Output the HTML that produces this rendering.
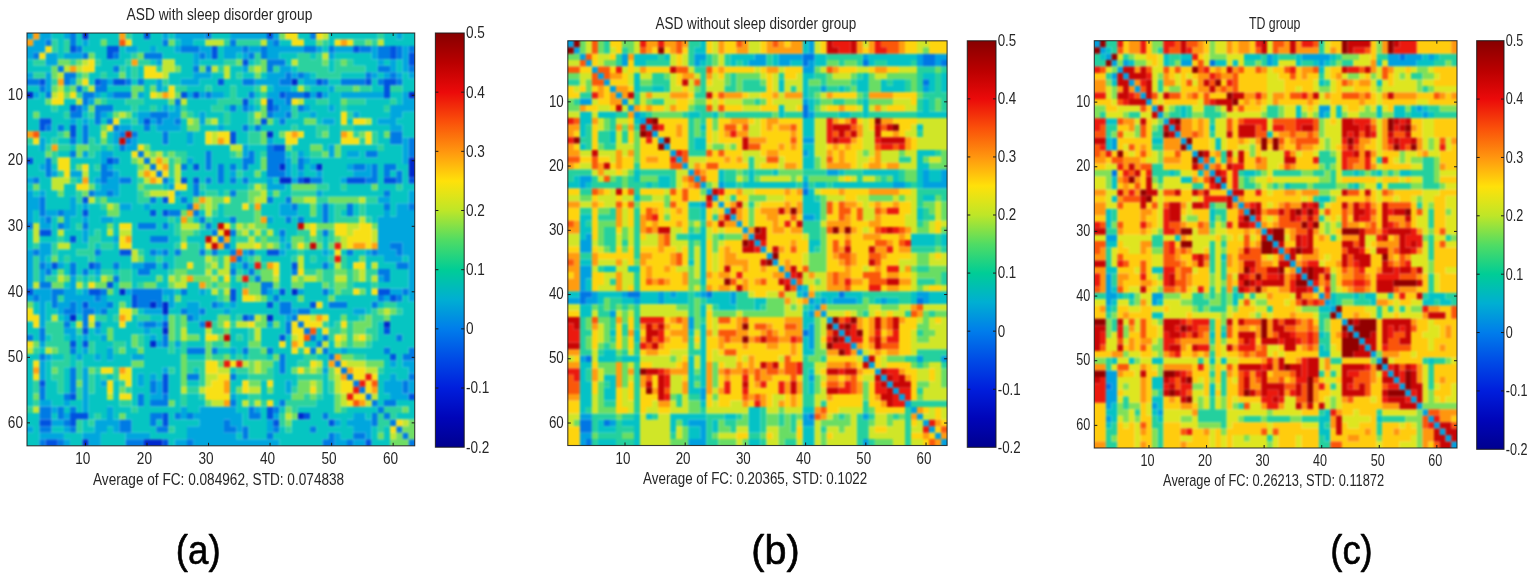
<!DOCTYPE html>
<html lang="en"><head><meta charset="utf-8"><title>Functional connectivity matrices</title>
<style>html,body{margin:0;padding:0;background:#fff}body{width:1535px;height:576px;overflow:hidden}svg{display:block}text{font-family:"Liberation Sans",sans-serif;fill:#262626}.lab{fill:#000;stroke:#000;stroke-width:0.6px;stroke-linejoin:round}</style>
</head><body>
<svg width="1535" height="576" viewBox="0 0 1535 576">
<defs><linearGradient id="jet" x1="0" y1="0" x2="0" y2="1"><stop offset="0.0000" stop-color="#870000"/><stop offset="0.0357" stop-color="#a00000"/><stop offset="0.0714" stop-color="#b90000"/><stop offset="0.1071" stop-color="#d20505"/><stop offset="0.1429" stop-color="#eb0a0a"/><stop offset="0.1786" stop-color="#f22d0a"/><stop offset="0.2143" stop-color="#fa500a"/><stop offset="0.2500" stop-color="#fc730c"/><stop offset="0.2857" stop-color="#ff960f"/><stop offset="0.3214" stop-color="#ffbb0d"/><stop offset="0.3571" stop-color="#ffe10a"/><stop offset="0.3929" stop-color="#dfe419"/><stop offset="0.4286" stop-color="#bee628"/><stop offset="0.4643" stop-color="#87e146"/><stop offset="0.5000" stop-color="#50dc64"/><stop offset="0.5357" stop-color="#28d47d"/><stop offset="0.5714" stop-color="#00cd96"/><stop offset="0.6071" stop-color="#00beb4"/><stop offset="0.6429" stop-color="#00afd2"/><stop offset="0.6786" stop-color="#0096de"/><stop offset="0.7143" stop-color="#007deb"/><stop offset="0.7500" stop-color="#0064e8"/><stop offset="0.7857" stop-color="#004be6"/><stop offset="0.8214" stop-color="#0035e1"/><stop offset="0.8571" stop-color="#001edc"/><stop offset="0.8929" stop-color="#0012ca"/><stop offset="0.9286" stop-color="#0005b9"/><stop offset="0.9643" stop-color="#0003a4"/><stop offset="1.0000" stop-color="#00008f"/></linearGradient><filter id="bl" filterUnits="userSpaceOnUse" x="0" y="0" width="1535" height="576" color-interpolation-filters="sRGB"><feGaussianBlur stdDeviation="0.9"/></filter><filter id="tb" x="-20%" y="-40%" width="140%" height="180%"><feGaussianBlur stdDeviation="0.5"/></filter></defs>
<rect width="1535" height="576" fill="#fff"/>
<g id="panel-a">
<clipPath id="clip-a"><rect x="27.00" y="33.00" width="387.70" height="412.80"/></clipPath>
<g clip-path="url(#clip-a)"><g filter="url(#bl)">
<g transform="translate(27.00 33.00) scale(6.15397 6.55238)">
<path fill="#0028cd" d="M9 -1h1v1h-1zM9 0h1v1h-1zM43 7h1v1h-1zM-1 9h2v1h-2zM62 9h2v1h-2zM39 15h1v1h-1zM62 19h2v1h-2zM41 20h1v1h-1zM47 20h1v1h-1zM62 20h2v1h-2zM62 21h2v1h-2zM41 22h2v1h-2zM45 22h1v1h-1zM15 39h1v1h-1zM43 39h1v1h-1zM20 41h1v1h-1zM22 41h1v1h-1zM22 42h1v1h-1zM7 43h1v1h-1zM39 43h1v1h-1zM58 44h1v1h-1zM22 45h1v1h-1zM20 47h1v1h-1zM44 58h1v1h-1zM9 62h1v1h-1zM19 62h3v1h-3zM9 63h1v1h-1zM19 63h3v1h-3z"/>
<path fill="#0052e0" d="M19 -1h1v1h-1zM39 -1h1v1h-1zM19 0h1v1h-1zM39 0h1v1h-1zM7 2h1v1h-1zM13 2h2v1h-2zM30 2h1v1h-1zM53 2h1v1h-1zM59 2h1v1h-1zM13 3h1v1h-1zM30 3h1v1h-1zM59 3h1v1h-1zM62 3h2v1h-2zM35 4h1v1h-1zM62 4h2v1h-2zM2 7h1v1h-1zM11 7h1v1h-1zM14 7h2v1h-2zM31 7h1v1h-1zM47 7h1v1h-1zM55 7h1v1h-1zM58 7h2v1h-2zM58 8h1v1h-1zM25 9h1v1h-1zM27 9h1v1h-1zM41 9h1v1h-1zM45 9h1v1h-1zM47 9h1v1h-1zM58 9h1v1h-1zM35 10h1v1h-1zM39 10h1v1h-1zM7 11h1v1h-1zM39 11h1v1h-1zM2 13h2v1h-2zM19 13h1v1h-1zM38 13h1v1h-1zM2 14h1v1h-1zM7 14h1v1h-1zM7 15h1v1h-1zM33 15h1v1h-1zM33 16h1v1h-1zM40 17h2v1h-2zM-1 19h2v1h-2zM13 19h1v1h-1zM27 20h1v1h-1zM25 22h1v1h-1zM27 22h1v1h-1zM44 22h1v1h-1zM52 22h3v1h-3zM58 22h2v1h-2zM62 22h2v1h-2zM9 25h1v1h-1zM22 25h1v1h-1zM9 27h1v1h-1zM20 27h1v1h-1zM22 27h1v1h-1zM2 30h2v1h-2zM7 31h1v1h-1zM15 33h2v1h-2zM39 33h2v1h-2zM4 35h1v1h-1zM10 35h1v1h-1zM43 35h1v1h-1zM13 38h1v1h-1zM-1 39h2v1h-2zM10 39h2v1h-2zM33 39h1v1h-1zM41 39h1v1h-1zM57 39h2v1h-2zM17 40h1v1h-1zM33 40h1v1h-1zM59 40h1v1h-1zM9 41h1v1h-1zM17 41h1v1h-1zM39 41h1v1h-1zM46 41h1v1h-1zM35 43h1v1h-1zM22 44h1v1h-1zM9 45h1v1h-1zM58 45h1v1h-1zM41 46h1v1h-1zM7 47h1v1h-1zM9 47h1v1h-1zM59 49h1v1h-1zM22 52h1v1h-1zM2 53h1v1h-1zM22 53h1v1h-1zM22 54h1v1h-1zM7 55h1v1h-1zM62 55h2v1h-2zM39 57h1v1h-1zM7 58h3v1h-3zM22 58h1v1h-1zM39 58h1v1h-1zM45 58h1v1h-1zM2 59h2v1h-2zM7 59h1v1h-1zM22 59h1v1h-1zM40 59h1v1h-1zM49 59h1v1h-1zM3 62h2v1h-2zM22 62h1v1h-1zM55 62h1v1h-1zM3 63h2v1h-2zM22 63h1v1h-1zM55 63h1v1h-1z"/>
<path fill="#007ae4" d="M7 -1h1v1h-1zM29 -1h1v1h-1zM46 -1h1v1h-1zM7 0h1v1h-1zM29 0h1v1h-1zM46 0h1v1h-1zM3 1h1v1h-1zM7 1h1v1h-1zM22 1h1v1h-1zM33 1h1v1h-1zM40 1h1v1h-1zM8 2h1v1h-1zM25 2h3v1h-3zM35 2h1v1h-1zM38 2h1v1h-1zM45 2h2v1h-2zM49 2h1v1h-1zM54 2h2v1h-2zM57 2h2v1h-2zM60 2h1v1h-1zM62 2h2v1h-2zM1 3h1v1h-1zM9 3h1v1h-1zM14 3h1v1h-1zM19 3h3v1h-3zM28 3h1v1h-1zM36 3h1v1h-1zM38 3h1v1h-1zM57 3h2v1h-2zM60 3h1v1h-1zM39 4h3v1h-3zM5 5h1v1h-1zM14 5h1v1h-1zM27 5h1v1h-1zM29 5h1v1h-1zM39 5h1v1h-1zM57 5h2v1h-2zM62 5h2v1h-2zM6 6h2v1h-2zM42 6h1v1h-1zM44 6h1v1h-1zM55 6h1v1h-1zM59 6h1v1h-1zM-1 7h3v1h-3zM6 7h1v1h-1zM12 7h1v1h-1zM16 7h1v1h-1zM18 7h1v1h-1zM35 7h2v1h-2zM41 7h2v1h-2zM48 7h1v1h-1zM51 7h4v1h-4zM57 7h1v1h-1zM60 7h1v1h-1zM2 8h1v1h-1zM8 8h1v1h-1zM11 8h2v1h-2zM3 9h1v1h-1zM9 9h2v1h-2zM14 9h3v1h-3zM29 9h1v1h-1zM36 9h1v1h-1zM42 9h3v1h-3zM9 10h1v1h-1zM24 10h1v1h-1zM42 10h1v1h-1zM8 11h1v1h-1zM11 11h3v1h-3zM33 11h1v1h-1zM35 11h1v1h-1zM40 11h1v1h-1zM44 11h1v1h-1zM7 12h2v1h-2zM11 12h1v1h-1zM20 12h3v1h-3zM39 12h1v1h-1zM42 12h1v1h-1zM11 13h1v1h-1zM13 13h1v1h-1zM21 13h1v1h-1zM24 13h1v1h-1zM41 13h1v1h-1zM3 14h1v1h-1zM5 14h1v1h-1zM9 14h1v1h-1zM14 14h1v1h-1zM19 14h1v1h-1zM35 14h1v1h-1zM37 14h1v1h-1zM9 15h1v1h-1zM15 15h1v1h-1zM17 15h1v1h-1zM22 15h1v1h-1zM59 15h2v1h-2zM7 16h1v1h-1zM9 16h1v1h-1zM16 16h1v1h-1zM22 16h1v1h-1zM59 16h2v1h-2zM62 16h2v1h-2zM15 17h1v1h-1zM39 17h1v1h-1zM62 17h2v1h-2zM7 18h1v1h-1zM18 18h1v1h-1zM29 18h1v1h-1zM36 18h1v1h-1zM39 18h3v1h-3zM55 18h2v1h-2zM62 18h2v1h-2zM3 19h1v1h-1zM14 19h1v1h-1zM19 19h1v1h-1zM29 19h1v1h-1zM35 19h2v1h-2zM39 19h3v1h-3zM44 19h1v1h-1zM3 20h1v1h-1zM12 20h1v1h-1zM20 20h1v1h-1zM25 20h1v1h-1zM29 20h1v1h-1zM31 20h1v1h-1zM33 20h1v1h-1zM35 20h1v1h-1zM39 20h2v1h-2zM44 20h1v1h-1zM53 20h2v1h-2zM56 20h1v1h-1zM58 20h2v1h-2zM3 21h1v1h-1zM12 21h2v1h-2zM21 21h1v1h-1zM31 21h1v1h-1zM39 21h3v1h-3zM56 21h1v1h-1zM58 21h1v1h-1zM60 21h1v1h-1zM1 22h1v1h-1zM12 22h1v1h-1zM15 22h2v1h-2zM22 22h1v1h-1zM29 22h1v1h-1zM31 22h1v1h-1zM33 22h1v1h-1zM35 22h1v1h-1zM46 22h2v1h-2zM55 22h2v1h-2zM60 22h1v1h-1zM27 23h1v1h-1zM10 24h1v1h-1zM13 24h1v1h-1zM27 24h1v1h-1zM33 24h1v1h-1zM58 24h1v1h-1zM2 25h1v1h-1zM20 25h1v1h-1zM25 25h1v1h-1zM39 25h1v1h-1zM42 25h1v1h-1zM2 26h1v1h-1zM26 26h1v1h-1zM43 26h1v1h-1zM48 26h1v1h-1zM52 26h1v1h-1zM58 26h1v1h-1zM62 26h2v1h-2zM2 27h1v1h-1zM5 27h1v1h-1zM23 27h2v1h-2zM27 27h1v1h-1zM48 27h1v1h-1zM52 27h1v1h-1zM3 28h1v1h-1zM28 28h1v1h-1zM33 28h1v1h-1zM42 28h1v1h-1zM44 28h1v1h-1zM48 28h1v1h-1zM-1 29h2v1h-2zM5 29h1v1h-1zM9 29h1v1h-1zM18 29h3v1h-3zM22 29h1v1h-1zM29 29h1v1h-1zM30 30h1v1h-1zM33 30h1v1h-1zM41 30h1v1h-1zM48 30h1v1h-1zM20 31h3v1h-3zM31 31h1v1h-1zM32 32h1v1h-1zM59 32h2v1h-2zM1 33h1v1h-1zM11 33h1v1h-1zM20 33h1v1h-1zM22 33h1v1h-1zM24 33h1v1h-1zM28 33h1v1h-1zM30 33h1v1h-1zM33 33h1v1h-1zM36 33h1v1h-1zM52 33h1v1h-1zM56 33h1v1h-1zM60 33h1v1h-1zM34 34h1v1h-1zM2 35h1v1h-1zM7 35h1v1h-1zM11 35h1v1h-1zM14 35h1v1h-1zM19 35h2v1h-2zM22 35h1v1h-1zM35 35h1v1h-1zM48 35h1v1h-1zM60 35h2v1h-2zM3 36h1v1h-1zM7 36h1v1h-1zM9 36h1v1h-1zM18 36h2v1h-2zM33 36h1v1h-1zM36 36h1v1h-1zM43 36h1v1h-1zM57 36h2v1h-2zM14 37h1v1h-1zM37 37h1v1h-1zM58 37h1v1h-1zM2 38h2v1h-2zM38 38h2v1h-2zM4 39h2v1h-2zM12 39h1v1h-1zM17 39h5v1h-5zM25 39h1v1h-1zM38 39h1v1h-1zM48 39h1v1h-1zM61 39h1v1h-1zM1 40h1v1h-1zM4 40h1v1h-1zM11 40h1v1h-1zM18 40h4v1h-4zM40 40h1v1h-1zM57 40h1v1h-1zM60 40h1v1h-1zM4 41h1v1h-1zM7 41h1v1h-1zM13 41h1v1h-1zM18 41h2v1h-2zM21 41h1v1h-1zM30 41h1v1h-1zM41 41h2v1h-2zM49 41h3v1h-3zM56 41h1v1h-1zM6 42h2v1h-2zM9 42h2v1h-2zM12 42h1v1h-1zM25 42h1v1h-1zM28 42h1v1h-1zM41 42h2v1h-2zM44 42h2v1h-2zM9 43h1v1h-1zM26 43h1v1h-1zM36 43h1v1h-1zM43 43h1v1h-1zM6 44h1v1h-1zM9 44h1v1h-1zM11 44h1v1h-1zM19 44h2v1h-2zM28 44h1v1h-1zM42 44h1v1h-1zM44 44h1v1h-1zM2 45h1v1h-1zM42 45h1v1h-1zM45 45h1v1h-1zM-1 46h2v1h-2zM2 46h1v1h-1zM22 46h1v1h-1zM46 46h1v1h-1zM48 46h1v1h-1zM60 46h1v1h-1zM22 47h1v1h-1zM47 47h1v1h-1zM7 48h1v1h-1zM26 48h3v1h-3zM30 48h1v1h-1zM35 48h1v1h-1zM39 48h1v1h-1zM46 48h1v1h-1zM48 48h1v1h-1zM58 48h1v1h-1zM62 48h2v1h-2zM2 49h1v1h-1zM41 49h1v1h-1zM49 49h1v1h-1zM61 49h3v1h-3zM41 50h1v1h-1zM50 50h1v1h-1zM7 51h1v1h-1zM41 51h1v1h-1zM51 51h1v1h-1zM7 52h1v1h-1zM26 52h2v1h-2zM33 52h1v1h-1zM52 52h1v1h-1zM62 52h2v1h-2zM7 53h1v1h-1zM20 53h1v1h-1zM53 53h1v1h-1zM61 53h1v1h-1zM2 54h1v1h-1zM7 54h1v1h-1zM20 54h1v1h-1zM54 54h1v1h-1zM61 54h1v1h-1zM2 55h1v1h-1zM6 55h1v1h-1zM18 55h1v1h-1zM22 55h1v1h-1zM55 55h1v1h-1zM18 56h1v1h-1zM20 56h3v1h-3zM33 56h1v1h-1zM41 56h1v1h-1zM56 56h1v1h-1zM58 56h2v1h-2zM2 57h2v1h-2zM5 57h1v1h-1zM7 57h1v1h-1zM36 57h1v1h-1zM40 57h1v1h-1zM57 57h1v1h-1zM2 58h2v1h-2zM5 58h1v1h-1zM20 58h2v1h-2zM24 58h1v1h-1zM26 58h1v1h-1zM36 58h2v1h-2zM48 58h1v1h-1zM56 58h1v1h-1zM58 58h1v1h-1zM6 59h1v1h-1zM15 59h2v1h-2zM20 59h1v1h-1zM32 59h1v1h-1zM56 59h1v1h-1zM59 59h1v1h-1zM2 60h2v1h-2zM7 60h1v1h-1zM15 60h2v1h-2zM21 60h2v1h-2zM32 60h2v1h-2zM35 60h1v1h-1zM40 60h1v1h-1zM46 60h1v1h-1zM60 60h1v1h-1zM35 61h1v1h-1zM39 61h1v1h-1zM49 61h1v1h-1zM53 61h2v1h-2zM61 61h1v1h-1zM2 62h1v1h-1zM5 62h1v1h-1zM16 62h3v1h-3zM26 62h1v1h-1zM48 62h2v1h-2zM52 62h1v1h-1zM62 62h2v1h-2zM2 63h1v1h-1zM5 63h1v1h-1zM16 63h3v1h-3zM26 63h1v1h-1zM48 63h2v1h-2zM52 63h1v1h-1zM62 63h2v1h-2z"/>
<path fill="#00a6de" d="M-1 -1h2v1h-2zM2 -1h2v1h-2zM6 -1h1v1h-1zM22 -1h1v1h-1zM24 -1h5v1h-5zM33 -1h6v1h-6zM40 -1h1v1h-1zM60 -1h1v1h-1zM-1 0h2v1h-2zM2 0h2v1h-2zM6 0h1v1h-1zM22 0h1v1h-1zM24 0h5v1h-5zM33 0h6v1h-6zM40 0h1v1h-1zM60 0h1v1h-1zM1 1h2v1h-2zM9 1h1v1h-1zM25 1h2v1h-2zM39 1h1v1h-1zM-1 2h4v1h-4zM16 2h2v1h-2zM20 2h1v1h-1zM24 2h1v1h-1zM28 2h2v1h-2zM32 2h3v1h-3zM36 2h2v1h-2zM39 2h6v1h-6zM47 2h1v1h-1zM50 2h3v1h-3zM56 2h1v1h-1zM61 2h1v1h-1zM-1 3h2v1h-2zM3 3h2v1h-2zM6 3h3v1h-3zM27 3h1v1h-1zM29 3h1v1h-1zM32 3h2v1h-2zM35 3h1v1h-1zM39 3h2v1h-2zM49 3h1v1h-1zM56 3h1v1h-1zM61 3h1v1h-1zM3 4h2v1h-2zM21 4h1v1h-1zM27 4h1v1h-1zM57 4h1v1h-1zM59 4h1v1h-1zM61 4h1v1h-1zM35 5h1v1h-1zM41 5h2v1h-2zM59 5h1v1h-1zM61 5h1v1h-1zM-1 6h2v1h-2zM3 6h1v1h-1zM27 6h3v1h-3zM39 6h3v1h-3zM43 6h1v1h-1zM45 6h1v1h-1zM56 6h1v1h-1zM58 6h1v1h-1zM60 6h1v1h-1zM62 6h2v1h-2zM3 7h1v1h-1zM7 7h1v1h-1zM13 7h1v1h-1zM21 7h1v1h-1zM25 7h3v1h-3zM37 7h4v1h-4zM45 7h2v1h-2zM3 8h1v1h-1zM21 8h1v1h-1zM40 8h3v1h-3zM49 8h1v1h-1zM1 9h1v1h-1zM11 9h1v1h-1zM13 9h1v1h-1zM18 9h1v1h-1zM26 9h1v1h-1zM28 9h1v1h-1zM30 9h2v1h-2zM39 9h2v1h-2zM46 9h1v1h-1zM48 9h1v1h-1zM51 9h7v1h-7zM61 9h1v1h-1zM10 10h1v1h-1zM40 10h2v1h-2zM61 10h3v1h-3zM9 11h1v1h-1zM22 11h1v1h-1zM24 11h1v1h-1zM36 11h1v1h-1zM41 11h2v1h-2zM45 11h1v1h-1zM49 11h1v1h-1zM59 11h5v1h-5zM12 12h1v1h-1zM18 12h2v1h-2zM23 12h2v1h-2zM28 12h1v1h-1zM40 12h2v1h-2zM46 12h1v1h-1zM53 12h1v1h-1zM59 12h2v1h-2zM7 13h1v1h-1zM9 13h1v1h-1zM18 13h1v1h-1zM20 13h1v1h-1zM22 13h2v1h-2zM28 13h1v1h-1zM48 13h2v1h-2zM57 13h3v1h-3zM15 14h2v1h-2zM21 14h4v1h-4zM31 14h1v1h-1zM59 14h2v1h-2zM14 15h1v1h-1zM26 15h1v1h-1zM2 16h1v1h-1zM14 16h1v1h-1zM17 16h1v1h-1zM26 16h1v1h-1zM39 16h1v1h-1zM61 16h1v1h-1zM2 17h1v1h-1zM16 17h2v1h-2zM35 17h1v1h-1zM49 17h1v1h-1zM61 17h1v1h-1zM9 18h1v1h-1zM12 18h2v1h-2zM35 18h1v1h-1zM44 18h1v1h-1zM49 18h1v1h-1zM52 18h2v1h-2zM61 18h1v1h-1zM12 19h1v1h-1zM26 19h1v1h-1zM42 19h1v1h-1zM45 19h1v1h-1zM61 19h1v1h-1zM2 20h1v1h-1zM13 20h1v1h-1zM42 20h1v1h-1zM46 20h1v1h-1zM52 20h1v1h-1zM55 20h1v1h-1zM4 21h1v1h-1zM7 21h2v1h-2zM14 21h1v1h-1zM33 21h1v1h-1zM42 21h1v1h-1zM44 21h1v1h-1zM47 21h1v1h-1zM53 21h3v1h-3zM-1 22h2v1h-2zM11 22h1v1h-1zM13 22h2v1h-2zM39 22h1v1h-1zM43 22h1v1h-1zM51 22h1v1h-1zM12 23h3v1h-3zM23 23h1v1h-1zM39 23h3v1h-3zM-1 24h2v1h-2zM2 24h1v1h-1zM11 24h2v1h-2zM14 24h1v1h-1zM24 24h1v1h-1zM47 24h1v1h-1zM62 24h2v1h-2zM-1 25h3v1h-3zM7 25h1v1h-1zM57 25h2v1h-2zM62 25h2v1h-2zM-1 26h3v1h-3zM7 26h1v1h-1zM9 26h1v1h-1zM15 26h2v1h-2zM19 26h1v1h-1zM41 26h2v1h-2zM60 26h2v1h-2zM-1 27h2v1h-2zM3 27h2v1h-2zM6 27h2v1h-2zM41 27h3v1h-3zM58 27h1v1h-1zM60 27h4v1h-4zM-1 28h2v1h-2zM2 28h1v1h-1zM6 28h1v1h-1zM9 28h1v1h-1zM12 28h2v1h-2zM39 28h1v1h-1zM57 28h7v1h-7zM2 29h2v1h-2zM6 29h1v1h-1zM57 29h7v1h-7zM9 30h1v1h-1zM57 30h7v1h-7zM9 31h1v1h-1zM14 31h1v1h-1zM41 31h1v1h-1zM57 31h7v1h-7zM2 32h2v1h-2zM42 32h1v1h-1zM57 32h2v1h-2zM61 32h3v1h-3zM-1 33h2v1h-2zM2 33h2v1h-2zM21 33h1v1h-1zM35 33h1v1h-1zM41 33h1v1h-1zM48 33h1v1h-1zM55 33h1v1h-1zM57 33h3v1h-3zM61 33h3v1h-3zM-1 34h2v1h-2zM2 34h1v1h-1zM58 34h3v1h-3zM62 34h2v1h-2zM-1 35h2v1h-2zM3 35h1v1h-1zM5 35h1v1h-1zM17 35h2v1h-2zM33 35h1v1h-1zM62 35h2v1h-2zM-1 36h2v1h-2zM2 36h1v1h-1zM11 36h1v1h-1zM62 36h2v1h-2zM-1 37h2v1h-2zM2 37h1v1h-1zM7 37h1v1h-1zM57 37h1v1h-1zM62 37h2v1h-2zM-1 38h2v1h-2zM7 38h1v1h-1zM62 38h2v1h-2zM1 39h3v1h-3zM6 39h2v1h-2zM9 39h1v1h-1zM16 39h1v1h-1zM22 39h2v1h-2zM28 39h1v1h-1zM39 39h1v1h-1zM44 39h1v1h-1zM59 39h2v1h-2zM62 39h2v1h-2zM-1 40h2v1h-2zM2 40h2v1h-2zM6 40h5v1h-5zM12 40h1v1h-1zM23 40h1v1h-1zM58 40h1v1h-1zM62 40h2v1h-2zM2 41h1v1h-1zM5 41h2v1h-2zM8 41h1v1h-1zM10 41h3v1h-3zM23 41h1v1h-1zM26 41h2v1h-2zM31 41h1v1h-1zM33 41h1v1h-1zM2 42h1v1h-1zM5 42h1v1h-1zM8 42h1v1h-1zM11 42h1v1h-1zM19 42h3v1h-3zM26 42h2v1h-2zM32 42h1v1h-1zM43 42h1v1h-1zM53 42h2v1h-2zM2 43h1v1h-1zM6 43h1v1h-1zM22 43h1v1h-1zM27 43h1v1h-1zM42 43h1v1h-1zM2 44h1v1h-1zM18 44h1v1h-1zM21 44h1v1h-1zM39 44h1v1h-1zM6 45h2v1h-2zM11 45h1v1h-1zM19 45h1v1h-1zM7 46h1v1h-1zM9 46h1v1h-1zM12 46h1v1h-1zM20 46h1v1h-1zM2 47h1v1h-1zM21 47h1v1h-1zM24 47h1v1h-1zM9 48h1v1h-1zM13 48h1v1h-1zM33 48h1v1h-1zM51 48h1v1h-1zM3 49h1v1h-1zM8 49h1v1h-1zM11 49h1v1h-1zM13 49h1v1h-1zM17 49h2v1h-2zM2 50h1v1h-1zM59 50h1v1h-1zM61 50h3v1h-3zM2 51h1v1h-1zM9 51h1v1h-1zM22 51h1v1h-1zM48 51h1v1h-1zM62 51h2v1h-2zM2 52h1v1h-1zM9 52h1v1h-1zM18 52h1v1h-1zM20 52h1v1h-1zM59 52h1v1h-1zM9 53h1v1h-1zM12 53h1v1h-1zM18 53h1v1h-1zM21 53h1v1h-1zM42 53h1v1h-1zM58 53h3v1h-3zM62 53h2v1h-2zM9 54h1v1h-1zM21 54h1v1h-1zM42 54h1v1h-1zM58 54h3v1h-3zM62 54h2v1h-2zM9 55h1v1h-1zM20 55h2v1h-2zM33 55h1v1h-1zM59 55h3v1h-3zM2 56h2v1h-2zM6 56h1v1h-1zM9 56h1v1h-1zM4 57h1v1h-1zM9 57h1v1h-1zM13 57h1v1h-1zM25 57h1v1h-1zM28 57h6v1h-6zM37 57h1v1h-1zM6 58h1v1h-1zM13 58h1v1h-1zM25 58h1v1h-1zM27 58h8v1h-8zM40 58h1v1h-1zM53 58h2v1h-2zM4 59h2v1h-2zM11 59h4v1h-4zM28 59h4v1h-4zM33 59h2v1h-2zM39 59h1v1h-1zM50 59h1v1h-1zM52 59h4v1h-4zM-1 60h2v1h-2zM6 60h1v1h-1zM11 60h2v1h-2zM14 60h1v1h-1zM26 60h6v1h-6zM34 60h1v1h-1zM39 60h1v1h-1zM53 60h3v1h-3zM2 61h4v1h-4zM9 61h3v1h-3zM16 61h4v1h-4zM26 61h8v1h-8zM50 61h1v1h-1zM55 61h1v1h-1zM6 62h1v1h-1zM10 62h2v1h-2zM24 62h2v1h-2zM27 62h14v1h-14zM50 62h2v1h-2zM53 62h2v1h-2zM6 63h1v1h-1zM10 63h2v1h-2zM24 63h2v1h-2zM27 63h14v1h-14zM50 63h2v1h-2zM53 63h2v1h-2z"/>
<path fill="#06c5c2" d="M4 -1h2v1h-2zM8 -1h1v1h-1zM10 -1h5v1h-5zM17 -1h2v1h-2zM20 -1h2v1h-2zM23 -1h1v1h-1zM30 -1h3v1h-3zM44 -1h2v1h-2zM49 -1h8v1h-8zM58 -1h2v1h-2zM61 -1h3v1h-3zM4 0h2v1h-2zM8 0h1v1h-1zM10 0h5v1h-5zM17 0h2v1h-2zM20 0h2v1h-2zM23 0h1v1h-1zM30 0h3v1h-3zM44 0h2v1h-2zM49 0h8v1h-8zM58 0h2v1h-2zM61 0h3v1h-3zM5 1h1v1h-1zM8 1h1v1h-1zM10 1h2v1h-2zM13 1h2v1h-2zM17 1h5v1h-5zM24 1h1v1h-1zM27 1h2v1h-2zM41 1h2v1h-2zM45 1h2v1h-2zM49 1h1v1h-1zM58 1h6v1h-6zM5 2h1v1h-1zM9 2h4v1h-4zM15 2h1v1h-1zM18 2h2v1h-2zM21 2h3v1h-3zM31 2h1v1h-1zM48 2h1v1h-1zM5 3h1v1h-1zM11 3h2v1h-2zM15 3h2v1h-2zM22 3h5v1h-5zM31 3h1v1h-1zM34 3h1v1h-1zM41 3h3v1h-3zM46 3h1v1h-1zM50 3h6v1h-6zM-1 4h2v1h-2zM12 4h4v1h-4zM20 4h1v1h-1zM24 4h3v1h-3zM28 4h4v1h-4zM36 4h1v1h-1zM42 4h1v1h-1zM49 4h1v1h-1zM53 4h4v1h-4zM58 4h1v1h-1zM60 4h1v1h-1zM-1 5h5v1h-5zM11 5h3v1h-3zM16 5h1v1h-1zM18 5h1v1h-1zM25 5h2v1h-2zM33 5h2v1h-2zM43 5h1v1h-1zM49 5h1v1h-1zM55 5h2v1h-2zM60 5h1v1h-1zM10 6h2v1h-2zM13 6h2v1h-2zM16 6h1v1h-1zM18 6h1v1h-1zM23 6h4v1h-4zM30 6h2v1h-2zM33 6h1v1h-1zM35 6h2v1h-2zM38 6h1v1h-1zM46 6h1v1h-1zM51 6h4v1h-4zM57 6h1v1h-1zM61 6h1v1h-1zM10 7h1v1h-1zM17 7h1v1h-1zM19 7h2v1h-2zM23 7h2v1h-2zM28 7h3v1h-3zM32 7h3v1h-3zM44 7h1v1h-1zM49 7h2v1h-2zM56 7h1v1h-1zM61 7h3v1h-3zM-1 8h3v1h-3zM13 8h4v1h-4zM19 8h1v1h-1zM22 8h1v1h-1zM26 8h3v1h-3zM30 8h3v1h-3zM34 8h3v1h-3zM39 8h1v1h-1zM43 8h1v1h-1zM46 8h3v1h-3zM56 8h2v1h-2zM61 8h3v1h-3zM2 9h1v1h-1zM12 9h1v1h-1zM19 9h1v1h-1zM32 9h1v1h-1zM34 9h2v1h-2zM37 9h1v1h-1zM49 9h2v1h-2zM59 9h2v1h-2zM-1 10h4v1h-4zM6 10h2v1h-2zM13 10h3v1h-3zM19 10h4v1h-4zM26 10h5v1h-5zM36 10h1v1h-1zM45 10h2v1h-2zM49 10h2v1h-2zM55 10h4v1h-4zM60 10h1v1h-1zM-1 11h5v1h-5zM5 11h2v1h-2zM14 11h3v1h-3zM18 11h2v1h-2zM21 11h1v1h-1zM23 11h1v1h-1zM26 11h4v1h-4zM32 11h1v1h-1zM34 11h1v1h-1zM37 11h1v1h-1zM46 11h3v1h-3zM50 11h1v1h-1zM52 11h6v1h-6zM-1 12h2v1h-2zM2 12h4v1h-4zM9 12h1v1h-1zM13 12h1v1h-1zM17 12h1v1h-1zM27 12h1v1h-1zM29 12h3v1h-3zM33 12h3v1h-3zM44 12h2v1h-2zM47 12h4v1h-4zM54 12h5v1h-5zM61 12h3v1h-3zM-1 13h3v1h-3zM4 13h3v1h-3zM8 13h1v1h-1zM10 13h1v1h-1zM12 13h1v1h-1zM15 13h2v1h-2zM25 13h1v1h-1zM31 13h1v1h-1zM33 13h3v1h-3zM40 13h1v1h-1zM42 13h3v1h-3zM47 13h1v1h-1zM50 13h1v1h-1zM52 13h1v1h-1zM56 13h1v1h-1zM60 13h4v1h-4zM-1 14h3v1h-3zM4 14h1v1h-1zM6 14h1v1h-1zM8 14h1v1h-1zM10 14h2v1h-2zM17 14h2v1h-2zM20 14h1v1h-1zM25 14h1v1h-1zM28 14h3v1h-3zM32 14h3v1h-3zM36 14h1v1h-1zM38 14h5v1h-5zM44 14h3v1h-3zM49 14h2v1h-2zM53 14h6v1h-6zM61 14h3v1h-3zM2 15h3v1h-3zM8 15h1v1h-1zM10 15h2v1h-2zM13 15h1v1h-1zM18 15h4v1h-4zM23 15h3v1h-3zM27 15h2v1h-2zM34 15h2v1h-2zM40 15h1v1h-1zM45 15h2v1h-2zM49 15h2v1h-2zM57 15h1v1h-1zM61 15h3v1h-3zM3 16h1v1h-1zM5 16h2v1h-2zM8 16h1v1h-1zM11 16h1v1h-1zM13 16h1v1h-1zM18 16h4v1h-4zM23 16h3v1h-3zM27 16h2v1h-2zM34 16h2v1h-2zM40 16h2v1h-2zM44 16h7v1h-7zM57 16h2v1h-2zM-1 17h3v1h-3zM7 17h1v1h-1zM12 17h1v1h-1zM14 17h1v1h-1zM20 17h13v1h-13zM36 17h3v1h-3zM43 17h3v1h-3zM48 17h1v1h-1zM51 17h6v1h-6zM58 17h3v1h-3zM-1 18h4v1h-4zM5 18h2v1h-2zM11 18h1v1h-1zM14 18h3v1h-3zM26 18h3v1h-3zM30 18h3v1h-3zM37 18h1v1h-1zM42 18h1v1h-1zM45 18h1v1h-1zM51 18h1v1h-1zM54 18h1v1h-1zM57 18h4v1h-4zM1 19h2v1h-2zM7 19h5v1h-5zM15 19h2v1h-2zM27 19h2v1h-2zM30 19h5v1h-5zM37 19h1v1h-1zM46 19h15v1h-15zM-1 20h3v1h-3zM4 20h1v1h-1zM7 20h1v1h-1zM10 20h1v1h-1zM14 20h4v1h-4zM26 20h1v1h-1zM28 20h1v1h-1zM30 20h1v1h-1zM32 20h1v1h-1zM34 20h1v1h-1zM36 20h2v1h-2zM43 20h1v1h-1zM45 20h1v1h-1zM48 20h4v1h-4zM57 20h1v1h-1zM60 20h2v1h-2zM-1 21h4v1h-4zM10 21h2v1h-2zM15 21h3v1h-3zM25 21h6v1h-6zM32 21h1v1h-1zM35 21h2v1h-2zM38 21h1v1h-1zM43 21h1v1h-1zM45 21h2v1h-2zM48 21h5v1h-5zM57 21h1v1h-1zM59 21h1v1h-1zM61 21h1v1h-1zM2 22h2v1h-2zM8 22h1v1h-1zM10 22h1v1h-1zM17 22h1v1h-1zM23 22h1v1h-1zM26 22h1v1h-1zM28 22h1v1h-1zM30 22h1v1h-1zM32 22h1v1h-1zM34 22h1v1h-1zM36 22h3v1h-3zM40 22h1v1h-1zM48 22h3v1h-3zM57 22h1v1h-1zM61 22h1v1h-1zM-1 23h2v1h-2zM2 23h2v1h-2zM6 23h2v1h-2zM11 23h1v1h-1zM15 23h3v1h-3zM22 23h1v1h-1zM26 23h1v1h-1zM29 23h7v1h-7zM42 23h1v1h-1zM49 23h2v1h-2zM52 23h4v1h-4zM57 23h3v1h-3zM61 23h3v1h-3zM1 24h1v1h-1zM3 24h2v1h-2zM6 24h2v1h-2zM15 24h3v1h-3zM25 24h2v1h-2zM28 24h1v1h-1zM31 24h1v1h-1zM39 24h1v1h-1zM41 24h2v1h-2zM48 24h10v1h-10zM59 24h3v1h-3zM3 25h4v1h-4zM13 25h5v1h-5zM21 25h1v1h-1zM24 25h1v1h-1zM26 25h1v1h-1zM40 25h2v1h-2zM59 25h3v1h-3zM3 26h4v1h-4zM8 26h1v1h-1zM10 26h2v1h-2zM17 26h2v1h-2zM20 26h6v1h-6zM31 26h1v1h-1zM38 26h3v1h-3zM44 26h2v1h-2zM47 26h1v1h-1zM49 26h1v1h-1zM53 26h1v1h-1zM55 26h3v1h-3zM59 26h1v1h-1zM1 27h1v1h-1zM8 27h1v1h-1zM10 27h3v1h-3zM15 27h5v1h-5zM21 27h1v1h-1zM28 27h1v1h-1zM31 27h1v1h-1zM38 27h3v1h-3zM44 27h2v1h-2zM47 27h1v1h-1zM49 27h1v1h-1zM51 27h1v1h-1zM53 27h1v1h-1zM55 27h3v1h-3zM59 27h1v1h-1zM1 28h1v1h-1zM4 28h1v1h-1zM7 28h2v1h-2zM10 28h2v1h-2zM14 28h9v1h-9zM24 28h1v1h-1zM27 28h1v1h-1zM30 28h3v1h-3zM40 28h2v1h-2zM43 28h1v1h-1zM45 28h3v1h-3zM49 28h1v1h-1zM56 28h1v1h-1zM4 29h1v1h-1zM7 29h1v1h-1zM10 29h3v1h-3zM14 29h1v1h-1zM17 29h1v1h-1zM21 29h1v1h-1zM23 29h1v1h-1zM30 29h1v1h-1zM39 29h5v1h-5zM-1 30h2v1h-2zM4 30h1v1h-1zM6 30h3v1h-3zM10 30h1v1h-1zM12 30h1v1h-1zM14 30h1v1h-1zM17 30h7v1h-7zM28 30h2v1h-2zM40 30h1v1h-1zM42 30h2v1h-2zM-1 31h2v1h-2zM2 31h3v1h-3zM6 31h1v1h-1zM8 31h1v1h-1zM12 31h2v1h-2zM17 31h3v1h-3zM23 31h2v1h-2zM26 31h3v1h-3zM33 31h1v1h-1zM42 31h1v1h-1zM48 31h1v1h-1zM-1 32h2v1h-2zM7 32h3v1h-3zM11 32h1v1h-1zM14 32h1v1h-1zM17 32h7v1h-7zM28 32h1v1h-1zM33 32h1v1h-1zM41 32h1v1h-1zM48 32h1v1h-1zM5 33h3v1h-3zM12 33h3v1h-3zM19 33h1v1h-1zM23 33h1v1h-1zM31 33h2v1h-2zM37 33h2v1h-2zM42 33h2v1h-2zM45 33h3v1h-3zM49 33h1v1h-1zM51 33h1v1h-1zM53 33h2v1h-2zM3 34h1v1h-1zM5 34h1v1h-1zM7 34h3v1h-3zM11 34h6v1h-6zM19 34h2v1h-2zM22 34h2v1h-2zM35 34h1v1h-1zM38 34h5v1h-5zM45 34h1v1h-1zM47 34h2v1h-2zM52 34h2v1h-2zM55 34h3v1h-3zM61 34h1v1h-1zM6 35h1v1h-1zM8 35h2v1h-2zM12 35h2v1h-2zM15 35h2v1h-2zM21 35h1v1h-1zM23 35h1v1h-1zM34 35h1v1h-1zM36 35h1v1h-1zM41 35h2v1h-2zM45 35h3v1h-3zM49 35h1v1h-1zM52 35h1v1h-1zM55 35h1v1h-1zM57 35h3v1h-3zM4 36h1v1h-1zM6 36h1v1h-1zM8 36h1v1h-1zM10 36h1v1h-1zM14 36h1v1h-1zM17 36h1v1h-1zM20 36h3v1h-3zM35 36h1v1h-1zM41 36h2v1h-2zM59 36h3v1h-3zM9 37h1v1h-1zM11 37h1v1h-1zM17 37h4v1h-4zM22 37h1v1h-1zM33 37h1v1h-1zM41 37h2v1h-2zM59 37h3v1h-3zM6 38h1v1h-1zM14 38h1v1h-1zM17 38h1v1h-1zM21 38h2v1h-2zM26 38h2v1h-2zM33 38h2v1h-2zM41 38h2v1h-2zM45 38h3v1h-3zM53 38h3v1h-3zM57 38h5v1h-5zM8 39h1v1h-1zM14 39h1v1h-1zM24 39h1v1h-1zM26 39h2v1h-2zM29 39h1v1h-1zM34 39h1v1h-1zM40 39h1v1h-1zM42 39h1v1h-1zM45 39h3v1h-3zM49 39h1v1h-1zM55 39h1v1h-1zM13 40h4v1h-4zM22 40h1v1h-1zM25 40h6v1h-6zM34 40h1v1h-1zM39 40h1v1h-1zM41 40h3v1h-3zM45 40h4v1h-4zM50 40h7v1h-7zM61 40h1v1h-1zM1 41h1v1h-1zM3 41h1v1h-1zM14 41h1v1h-1zM16 41h1v1h-1zM24 41h2v1h-2zM28 41h2v1h-2zM32 41h1v1h-1zM34 41h5v1h-5zM40 41h1v1h-1zM43 41h3v1h-3zM48 41h1v1h-1zM52 41h4v1h-4zM57 41h1v1h-1zM60 41h4v1h-4zM1 42h1v1h-1zM3 42h2v1h-2zM13 42h2v1h-2zM18 42h1v1h-1zM23 42h2v1h-2zM29 42h3v1h-3zM33 42h8v1h-8zM46 42h7v1h-7zM55 42h1v1h-1zM61 42h3v1h-3zM3 43h1v1h-1zM5 43h1v1h-1zM8 43h1v1h-1zM13 43h1v1h-1zM17 43h1v1h-1zM20 43h2v1h-2zM28 43h3v1h-3zM33 43h1v1h-1zM40 43h2v1h-2zM49 43h2v1h-2zM52 43h2v1h-2zM59 43h5v1h-5zM-1 44h2v1h-2zM7 44h1v1h-1zM12 44h3v1h-3zM16 44h2v1h-2zM26 44h2v1h-2zM41 44h1v1h-1zM49 44h1v1h-1zM57 44h1v1h-1zM59 44h5v1h-5zM-1 45h3v1h-3zM10 45h1v1h-1zM12 45h1v1h-1zM14 45h5v1h-5zM20 45h2v1h-2zM26 45h3v1h-3zM33 45h3v1h-3zM38 45h4v1h-4zM47 45h1v1h-1zM57 45h1v1h-1zM59 45h5v1h-5zM1 46h1v1h-1zM3 46h1v1h-1zM6 46h1v1h-1zM8 46h1v1h-1zM10 46h2v1h-2zM14 46h3v1h-3zM19 46h1v1h-1zM21 46h1v1h-1zM28 46h1v1h-1zM33 46h1v1h-1zM35 46h1v1h-1zM38 46h3v1h-3zM42 46h1v1h-1zM47 46h1v1h-1zM57 46h3v1h-3zM61 46h3v1h-3zM8 47h1v1h-1zM11 47h3v1h-3zM16 47h1v1h-1zM19 47h1v1h-1zM26 47h3v1h-3zM33 47h3v1h-3zM38 47h3v1h-3zM42 47h1v1h-1zM45 47h2v1h-2zM49 47h1v1h-1zM56 47h8v1h-8zM2 48h1v1h-1zM8 48h1v1h-1zM11 48h2v1h-2zM16 48h2v1h-2zM19 48h4v1h-4zM24 48h1v1h-1zM31 48h2v1h-2zM34 48h1v1h-1zM40 48h3v1h-3zM49 48h2v1h-2zM52 48h6v1h-6zM59 48h3v1h-3zM-1 49h3v1h-3zM4 49h2v1h-2zM7 49h1v1h-1zM9 49h2v1h-2zM12 49h1v1h-1zM14 49h3v1h-3zM19 49h6v1h-6zM26 49h3v1h-3zM33 49h1v1h-1zM35 49h1v1h-1zM39 49h1v1h-1zM42 49h3v1h-3zM47 49h2v1h-2zM55 49h4v1h-4zM60 49h1v1h-1zM-1 50h2v1h-2zM3 50h1v1h-1zM7 50h1v1h-1zM9 50h8v1h-8zM19 50h6v1h-6zM40 50h1v1h-1zM42 50h2v1h-2zM48 50h1v1h-1zM58 50h1v1h-1zM60 50h1v1h-1zM-1 51h2v1h-2zM3 51h1v1h-1zM6 51h1v1h-1zM17 51h5v1h-5zM24 51h1v1h-1zM27 51h1v1h-1zM33 51h1v1h-1zM40 51h1v1h-1zM42 51h1v1h-1zM58 51h4v1h-4zM-1 52h2v1h-2zM3 52h1v1h-1zM6 52h1v1h-1zM11 52h1v1h-1zM13 52h1v1h-1zM17 52h1v1h-1zM19 52h1v1h-1zM21 52h1v1h-1zM23 52h2v1h-2zM34 52h2v1h-2zM40 52h4v1h-4zM48 52h1v1h-1zM57 52h2v1h-2zM60 52h2v1h-2zM-1 53h2v1h-2zM3 53h2v1h-2zM6 53h1v1h-1zM11 53h1v1h-1zM14 53h1v1h-1zM17 53h1v1h-1zM19 53h1v1h-1zM23 53h2v1h-2zM26 53h2v1h-2zM33 53h2v1h-2zM38 53h1v1h-1zM40 53h2v1h-2zM43 53h1v1h-1zM48 53h1v1h-1zM57 53h1v1h-1zM-1 54h2v1h-2zM3 54h2v1h-2zM6 54h1v1h-1zM11 54h2v1h-2zM14 54h1v1h-1zM17 54h3v1h-3zM23 54h2v1h-2zM33 54h1v1h-1zM38 54h1v1h-1zM40 54h2v1h-2zM48 54h1v1h-1zM57 54h1v1h-1zM-1 55h2v1h-2zM3 55h3v1h-3zM10 55h3v1h-3zM14 55h1v1h-1zM17 55h1v1h-1zM19 55h1v1h-1zM23 55h2v1h-2zM26 55h2v1h-2zM34 55h2v1h-2zM38 55h5v1h-5zM48 55h2v1h-2zM57 55h2v1h-2zM-1 56h2v1h-2zM4 56h2v1h-2zM7 56h2v1h-2zM10 56h5v1h-5zM17 56h1v1h-1zM19 56h1v1h-1zM24 56h1v1h-1zM26 56h3v1h-3zM34 56h1v1h-1zM40 56h1v1h-1zM47 56h3v1h-3zM57 56h1v1h-1zM60 56h4v1h-4zM6 57h1v1h-1zM8 57h1v1h-1zM10 57h3v1h-3zM14 57h3v1h-3zM18 57h7v1h-7zM26 57h2v1h-2zM34 57h2v1h-2zM38 57h1v1h-1zM41 57h1v1h-1zM44 57h6v1h-6zM52 57h5v1h-5zM62 57h2v1h-2zM-1 58h3v1h-3zM4 58h1v1h-1zM10 58h1v1h-1zM12 58h1v1h-1zM14 58h1v1h-1zM16 58h4v1h-4zM23 58h1v1h-1zM35 58h1v1h-1zM38 58h1v1h-1zM46 58h2v1h-2zM49 58h4v1h-4zM55 58h1v1h-1zM60 58h4v1h-4zM-1 59h3v1h-3zM9 59h1v1h-1zM17 59h3v1h-3zM21 59h1v1h-1zM23 59h5v1h-5zM35 59h4v1h-4zM43 59h6v1h-6zM51 59h1v1h-1zM1 60h1v1h-1zM4 60h2v1h-2zM9 60h2v1h-2zM13 60h1v1h-1zM17 60h4v1h-4zM24 60h2v1h-2zM36 60h3v1h-3zM41 60h1v1h-1zM43 60h3v1h-3zM47 60h6v1h-6zM56 60h1v1h-1zM58 60h1v1h-1zM-1 61h3v1h-3zM6 61h3v1h-3zM12 61h4v1h-4zM20 61h6v1h-6zM34 61h1v1h-1zM36 61h3v1h-3zM40 61h9v1h-9zM51 61h2v1h-2zM56 61h1v1h-1zM58 61h1v1h-1zM-1 62h3v1h-3zM7 62h2v1h-2zM12 62h4v1h-4zM23 62h1v1h-1zM41 62h7v1h-7zM56 62h3v1h-3zM-1 63h3v1h-3zM7 63h2v1h-2zM12 63h4v1h-4zM23 63h1v1h-1zM41 63h7v1h-7zM56 63h3v1h-3z"/>
<path fill="#2cd29e" d="M16 -1h1v1h-1zM57 -1h1v1h-1zM16 0h1v1h-1zM57 0h1v1h-1zM4 1h1v1h-1zM6 1h1v1h-1zM32 1h1v1h-1zM34 1h4v1h-4zM48 1h1v1h-1zM53 1h2v1h-2zM56 1h1v1h-1zM4 2h1v1h-1zM6 2h1v1h-1zM17 3h1v1h-1zM37 3h1v1h-1zM44 3h2v1h-2zM47 3h1v1h-1zM1 4h2v1h-2zM7 4h1v1h-1zM11 4h1v1h-1zM16 4h1v1h-1zM18 4h2v1h-2zM32 4h2v1h-2zM37 4h1v1h-1zM44 4h4v1h-4zM50 4h1v1h-1zM52 4h1v1h-1zM15 5h1v1h-1zM17 5h1v1h-1zM21 5h1v1h-1zM31 5h1v1h-1zM40 5h1v1h-1zM44 5h5v1h-5zM50 5h5v1h-5zM1 6h2v1h-2zM8 6h1v1h-1zM12 6h1v1h-1zM17 6h1v1h-1zM34 6h1v1h-1zM47 6h4v1h-4zM4 7h1v1h-1zM22 7h1v1h-1zM6 8h1v1h-1zM9 8h1v1h-1zM24 8h2v1h-2zM29 8h1v1h-1zM33 8h1v1h-1zM37 8h1v1h-1zM45 8h1v1h-1zM50 8h3v1h-3zM54 8h2v1h-2zM59 8h2v1h-2zM8 9h1v1h-1zM33 9h1v1h-1zM38 9h1v1h-1zM12 10h1v1h-1zM16 10h3v1h-3zM31 10h4v1h-4zM37 10h1v1h-1zM47 10h2v1h-2zM52 10h3v1h-3zM59 10h1v1h-1zM4 11h1v1h-1zM17 11h1v1h-1zM20 11h1v1h-1zM25 11h1v1h-1zM30 11h2v1h-2zM43 11h1v1h-1zM51 11h1v1h-1zM58 11h1v1h-1zM6 12h1v1h-1zM10 12h1v1h-1zM26 12h1v1h-1zM32 12h1v1h-1zM36 12h1v1h-1zM43 12h1v1h-1zM52 12h1v1h-1zM17 13h1v1h-1zM32 13h1v1h-1zM36 13h1v1h-1zM43 14h1v1h-1zM47 14h2v1h-2zM51 14h2v1h-2zM5 15h1v1h-1zM36 15h2v1h-2zM47 15h1v1h-1zM53 15h1v1h-1zM56 15h1v1h-1zM-1 16h2v1h-2zM4 16h1v1h-1zM10 16h1v1h-1zM36 16h2v1h-2zM54 16h1v1h-1zM56 16h1v1h-1zM3 17h1v1h-1zM5 17h2v1h-2zM10 17h2v1h-2zM13 17h1v1h-1zM57 17h1v1h-1zM4 18h1v1h-1zM10 18h1v1h-1zM22 18h1v1h-1zM24 18h2v1h-2zM33 18h1v1h-1zM38 18h1v1h-1zM43 18h1v1h-1zM46 18h2v1h-2zM4 19h1v1h-1zM23 19h1v1h-1zM25 19h1v1h-1zM43 19h1v1h-1zM11 20h1v1h-1zM23 20h1v1h-1zM5 21h1v1h-1zM23 21h1v1h-1zM34 21h1v1h-1zM7 22h1v1h-1zM18 22h1v1h-1zM19 23h3v1h-3zM28 23h1v1h-1zM36 23h1v1h-1zM47 23h2v1h-2zM51 23h1v1h-1zM60 23h1v1h-1zM8 24h1v1h-1zM18 24h1v1h-1zM29 24h2v1h-2zM32 24h1v1h-1zM34 24h2v1h-2zM43 24h4v1h-4zM8 25h1v1h-1zM11 25h1v1h-1zM18 25h2v1h-2zM33 25h3v1h-3zM47 25h2v1h-2zM55 25h2v1h-2zM12 26h1v1h-1zM32 26h3v1h-3zM36 26h1v1h-1zM50 26h2v1h-2zM54 26h1v1h-1zM30 27h1v1h-1zM32 27h5v1h-5zM50 27h1v1h-1zM54 27h1v1h-1zM23 28h1v1h-1zM29 28h1v1h-1zM34 28h3v1h-3zM50 28h4v1h-4zM55 28h1v1h-1zM8 29h1v1h-1zM24 29h1v1h-1zM28 29h1v1h-1zM33 29h1v1h-1zM11 30h1v1h-1zM24 30h1v1h-1zM27 30h1v1h-1zM36 30h1v1h-1zM38 30h1v1h-1zM44 30h2v1h-2zM47 30h1v1h-1zM49 30h1v1h-1zM5 31h1v1h-1zM10 31h2v1h-2zM34 31h2v1h-2zM37 31h1v1h-1zM39 31h2v1h-2zM45 31h1v1h-1zM47 31h1v1h-1zM49 31h1v1h-1zM1 32h1v1h-1zM4 32h1v1h-1zM10 32h1v1h-1zM12 32h2v1h-2zM24 32h1v1h-1zM26 32h2v1h-2zM4 33h1v1h-1zM8 33h3v1h-3zM18 33h1v1h-1zM25 33h3v1h-3zM29 33h1v1h-1zM44 33h1v1h-1zM1 34h1v1h-1zM6 34h1v1h-1zM10 34h1v1h-1zM21 34h1v1h-1zM24 34h5v1h-5zM31 34h1v1h-1zM36 34h1v1h-1zM43 34h1v1h-1zM46 34h1v1h-1zM49 34h1v1h-1zM51 34h1v1h-1zM1 35h1v1h-1zM24 35h2v1h-2zM27 35h2v1h-2zM31 35h1v1h-1zM38 35h1v1h-1zM51 35h1v1h-1zM1 36h1v1h-1zM12 36h2v1h-2zM15 36h2v1h-2zM23 36h1v1h-1zM26 36h3v1h-3zM30 36h1v1h-1zM34 36h1v1h-1zM37 36h1v1h-1zM45 36h2v1h-2zM48 36h2v1h-2zM52 36h1v1h-1zM55 36h2v1h-2zM1 37h1v1h-1zM3 37h2v1h-2zM8 37h1v1h-1zM10 37h1v1h-1zM15 37h2v1h-2zM31 37h1v1h-1zM36 37h1v1h-1zM48 37h2v1h-2zM52 37h1v1h-1zM55 37h1v1h-1zM9 38h1v1h-1zM18 38h1v1h-1zM30 38h1v1h-1zM35 38h1v1h-1zM49 38h1v1h-1zM52 38h1v1h-1zM56 38h1v1h-1zM31 39h1v1h-1zM51 39h2v1h-2zM5 40h1v1h-1zM31 40h1v1h-1zM58 41h2v1h-2zM56 42h1v1h-1zM60 42h1v1h-1zM11 43h2v1h-2zM14 43h1v1h-1zM18 43h2v1h-2zM24 43h1v1h-1zM34 43h1v1h-1zM54 43h1v1h-1zM56 43h2v1h-2zM3 44h3v1h-3zM24 44h1v1h-1zM30 44h1v1h-1zM33 44h1v1h-1zM48 44h1v1h-1zM50 44h1v1h-1zM52 44h1v1h-1zM56 44h1v1h-1zM3 45h3v1h-3zM8 45h1v1h-1zM24 45h1v1h-1zM30 45h2v1h-2zM36 45h1v1h-1zM49 45h2v1h-2zM52 45h1v1h-1zM55 45h2v1h-2zM4 46h2v1h-2zM18 46h1v1h-1zM24 46h1v1h-1zM34 46h1v1h-1zM36 46h1v1h-1zM49 46h1v1h-1zM52 46h1v1h-1zM56 46h1v1h-1zM3 47h4v1h-4zM10 47h1v1h-1zM14 47h2v1h-2zM18 47h1v1h-1zM23 47h1v1h-1zM25 47h1v1h-1zM30 47h2v1h-2zM52 47h1v1h-1zM55 47h1v1h-1zM1 48h1v1h-1zM5 48h2v1h-2zM10 48h1v1h-1zM14 48h1v1h-1zM23 48h1v1h-1zM25 48h1v1h-1zM36 48h2v1h-2zM44 48h1v1h-1zM6 49h1v1h-1zM30 49h2v1h-2zM34 49h1v1h-1zM36 49h3v1h-3zM45 49h2v1h-2zM53 49h2v1h-2zM4 50h3v1h-3zM8 50h1v1h-1zM26 50h3v1h-3zM44 50h2v1h-2zM5 51h1v1h-1zM8 51h1v1h-1zM11 51h1v1h-1zM14 51h1v1h-1zM23 51h1v1h-1zM26 51h1v1h-1zM28 51h1v1h-1zM34 51h2v1h-2zM39 51h1v1h-1zM57 51h1v1h-1zM4 52h2v1h-2zM8 52h1v1h-1zM10 52h1v1h-1zM12 52h1v1h-1zM14 52h1v1h-1zM28 52h1v1h-1zM36 52h4v1h-4zM44 52h4v1h-4zM1 53h1v1h-1zM5 53h1v1h-1zM10 53h1v1h-1zM15 53h1v1h-1zM28 53h1v1h-1zM49 53h1v1h-1zM1 54h1v1h-1zM5 54h1v1h-1zM8 54h1v1h-1zM10 54h1v1h-1zM16 54h1v1h-1zM26 54h2v1h-2zM43 54h1v1h-1zM49 54h1v1h-1zM8 55h1v1h-1zM25 55h1v1h-1zM28 55h1v1h-1zM36 55h2v1h-2zM45 55h1v1h-1zM47 55h1v1h-1zM1 56h1v1h-1zM15 56h2v1h-2zM25 56h1v1h-1zM36 56h1v1h-1zM38 56h1v1h-1zM42 56h5v1h-5zM-1 57h2v1h-2zM17 57h1v1h-1zM43 57h1v1h-1zM51 57h1v1h-1zM58 57h3v1h-3zM11 58h1v1h-1zM41 58h1v1h-1zM57 58h1v1h-1zM59 58h1v1h-1zM8 59h1v1h-1zM10 59h1v1h-1zM41 59h1v1h-1zM57 59h2v1h-2zM8 60h1v1h-1zM23 60h1v1h-1zM42 60h1v1h-1zM57 60h1v1h-1z"/>
<path fill="#70de64" d="M41 -1h1v1h-1zM41 0h1v1h-1zM12 1h1v1h-1zM23 1h1v1h-1zM47 1h1v1h-1zM55 1h1v1h-1zM10 3h1v1h-1zM18 3h1v1h-1zM5 4h2v1h-2zM8 4h1v1h-1zM34 4h1v1h-1zM38 4h1v1h-1zM48 4h1v1h-1zM51 4h1v1h-1zM4 5h1v1h-1zM24 5h1v1h-1zM28 5h1v1h-1zM36 5h1v1h-1zM38 5h1v1h-1zM4 6h1v1h-1zM9 6h1v1h-1zM15 6h1v1h-1zM37 6h1v1h-1zM8 7h1v1h-1zM4 8h1v1h-1zM7 8h1v1h-1zM17 8h2v1h-2zM20 8h1v1h-1zM53 8h1v1h-1zM6 9h1v1h-1zM17 9h1v1h-1zM24 9h1v1h-1zM3 10h1v1h-1zM11 10h1v1h-1zM23 10h1v1h-1zM51 10h1v1h-1zM10 11h1v1h-1zM38 11h1v1h-1zM1 12h1v1h-1zM14 12h1v1h-1zM16 12h1v1h-1zM25 12h1v1h-1zM38 12h1v1h-1zM27 13h1v1h-1zM29 13h1v1h-1zM37 13h1v1h-1zM39 13h1v1h-1zM45 13h2v1h-2zM12 14h1v1h-1zM26 14h2v1h-2zM6 15h1v1h-1zM38 15h1v1h-1zM41 15h1v1h-1zM48 15h1v1h-1zM54 15h1v1h-1zM58 15h1v1h-1zM12 16h1v1h-1zM38 16h1v1h-1zM8 17h2v1h-2zM19 17h1v1h-1zM42 17h1v1h-1zM46 17h2v1h-2zM50 17h1v1h-1zM3 18h1v1h-1zM8 18h1v1h-1zM20 18h1v1h-1zM23 18h1v1h-1zM34 18h1v1h-1zM48 18h1v1h-1zM50 18h1v1h-1zM17 19h1v1h-1zM24 19h1v1h-1zM38 19h1v1h-1zM8 20h1v1h-1zM18 20h1v1h-1zM38 20h1v1h-1zM37 21h1v1h-1zM1 23h1v1h-1zM10 23h1v1h-1zM18 23h1v1h-1zM38 23h1v1h-1zM43 23h4v1h-4zM56 23h1v1h-1zM5 24h1v1h-1zM9 24h1v1h-1zM19 24h1v1h-1zM36 24h2v1h-2zM40 24h1v1h-1zM12 25h1v1h-1zM27 25h1v1h-1zM30 25h2v1h-2zM36 25h1v1h-1zM43 25h2v1h-2zM49 25h5v1h-5zM14 26h1v1h-1zM28 26h1v1h-1zM30 26h1v1h-1zM46 26h1v1h-1zM13 27h2v1h-2zM25 27h1v1h-1zM37 27h1v1h-1zM46 27h1v1h-1zM5 28h1v1h-1zM26 28h1v1h-1zM37 28h1v1h-1zM13 29h1v1h-1zM35 29h1v1h-1zM37 29h2v1h-2zM47 29h3v1h-3zM56 29h1v1h-1zM25 30h2v1h-2zM34 30h1v1h-1zM25 31h1v1h-1zM38 31h1v1h-1zM43 31h2v1h-2zM46 31h1v1h-1zM50 31h1v1h-1zM38 32h1v1h-1zM40 32h1v1h-1zM43 32h1v1h-1zM45 32h1v1h-1zM47 32h1v1h-1zM49 32h1v1h-1zM4 34h1v1h-1zM18 34h1v1h-1zM30 34h1v1h-1zM37 34h1v1h-1zM54 34h1v1h-1zM29 35h1v1h-1zM5 36h1v1h-1zM24 36h2v1h-2zM38 36h2v1h-2zM47 36h1v1h-1zM50 36h2v1h-2zM53 36h1v1h-1zM6 37h1v1h-1zM13 37h1v1h-1zM21 37h1v1h-1zM24 37h1v1h-1zM27 37h3v1h-3zM34 37h1v1h-1zM38 37h2v1h-2zM44 37h1v1h-1zM47 37h1v1h-1zM53 37h1v1h-1zM4 38h2v1h-2zM11 38h2v1h-2zM15 38h2v1h-2zM19 38h2v1h-2zM23 38h1v1h-1zM29 38h1v1h-1zM31 38h2v1h-2zM36 38h2v1h-2zM40 38h1v1h-1zM43 38h2v1h-2zM48 38h1v1h-1zM50 38h2v1h-2zM13 39h1v1h-1zM36 39h2v1h-2zM50 39h1v1h-1zM54 39h1v1h-1zM24 40h1v1h-1zM32 40h1v1h-1zM38 40h1v1h-1zM44 40h1v1h-1zM49 40h1v1h-1zM-1 41h2v1h-2zM15 41h1v1h-1zM17 42h1v1h-1zM57 42h1v1h-1zM59 42h1v1h-1zM23 43h1v1h-1zM25 43h1v1h-1zM31 43h2v1h-2zM38 43h1v1h-1zM51 43h1v1h-1zM55 43h1v1h-1zM58 43h1v1h-1zM23 44h1v1h-1zM25 44h1v1h-1zM31 44h1v1h-1zM37 44h2v1h-2zM40 44h1v1h-1zM53 44h3v1h-3zM13 45h1v1h-1zM23 45h1v1h-1zM32 45h1v1h-1zM51 45h1v1h-1zM53 45h2v1h-2zM13 46h1v1h-1zM17 46h1v1h-1zM23 46h1v1h-1zM26 46h2v1h-2zM31 46h1v1h-1zM55 46h1v1h-1zM1 47h1v1h-1zM17 47h1v1h-1zM29 47h1v1h-1zM32 47h1v1h-1zM36 47h2v1h-2zM51 47h1v1h-1zM53 47h2v1h-2zM4 48h1v1h-1zM15 48h1v1h-1zM18 48h1v1h-1zM29 48h1v1h-1zM38 48h1v1h-1zM25 49h1v1h-1zM29 49h1v1h-1zM32 49h1v1h-1zM40 49h1v1h-1zM51 49h2v1h-2zM17 50h2v1h-2zM25 50h1v1h-1zM31 50h1v1h-1zM36 50h1v1h-1zM38 50h2v1h-2zM55 50h3v1h-3zM4 51h1v1h-1zM10 51h1v1h-1zM25 51h1v1h-1zM36 51h1v1h-1zM38 51h1v1h-1zM43 51h1v1h-1zM45 51h1v1h-1zM47 51h1v1h-1zM49 51h1v1h-1zM25 52h1v1h-1zM49 52h1v1h-1zM8 53h1v1h-1zM25 53h1v1h-1zM36 53h2v1h-2zM44 53h2v1h-2zM47 53h1v1h-1zM15 54h1v1h-1zM34 54h1v1h-1zM39 54h1v1h-1zM44 54h2v1h-2zM47 54h1v1h-1zM1 55h1v1h-1zM43 55h2v1h-2zM46 55h1v1h-1zM50 55h1v1h-1zM23 56h1v1h-1zM29 56h1v1h-1zM50 56h1v1h-1zM42 57h1v1h-1zM50 57h1v1h-1zM61 57h1v1h-1zM15 58h1v1h-1zM43 58h1v1h-1zM42 59h1v1h-1zM62 59h2v1h-2zM61 60h3v1h-3zM57 61h1v1h-1zM60 61h1v1h-1zM62 61h2v1h-2zM59 62h3v1h-3zM59 63h3v1h-3z"/>
<path fill="#c3e632" d="M48 -1h1v1h-1zM48 0h1v1h-1zM29 1h3v1h-3zM38 1h1v1h-1zM57 1h1v1h-1zM48 3h1v1h-1zM9 4h1v1h-1zM22 4h2v1h-2zM43 4h1v1h-1zM6 5h1v1h-1zM8 5h1v1h-1zM22 5h2v1h-2zM30 5h1v1h-1zM32 5h1v1h-1zM37 5h1v1h-1zM5 6h1v1h-1zM22 6h1v1h-1zM32 6h1v1h-1zM5 8h1v1h-1zM10 8h1v1h-1zM38 8h1v1h-1zM44 8h1v1h-1zM4 9h1v1h-1zM21 9h1v1h-1zM8 10h1v1h-1zM25 10h1v1h-1zM44 10h1v1h-1zM15 12h1v1h-1zM37 12h1v1h-1zM26 13h1v1h-1zM30 13h1v1h-1zM55 13h1v1h-1zM12 15h1v1h-1zM30 15h1v1h-1zM30 16h1v1h-1zM33 17h2v1h-2zM19 18h1v1h-1zM21 18h1v1h-1zM18 19h1v1h-1zM20 19h1v1h-1zM22 19h1v1h-1zM19 20h1v1h-1zM24 20h1v1h-1zM9 21h1v1h-1zM18 21h1v1h-1zM24 21h1v1h-1zM4 22h3v1h-3zM19 22h1v1h-1zM24 22h1v1h-1zM4 23h2v1h-2zM37 23h1v1h-1zM20 24h3v1h-3zM38 24h1v1h-1zM10 25h1v1h-1zM29 25h1v1h-1zM37 25h2v1h-2zM45 25h2v1h-2zM54 25h1v1h-1zM13 26h1v1h-1zM29 26h1v1h-1zM29 27h1v1h-1zM54 28h1v1h-1zM1 29h1v1h-1zM25 29h3v1h-3zM34 29h1v1h-1zM36 29h1v1h-1zM45 29h1v1h-1zM52 29h2v1h-2zM1 30h1v1h-1zM5 30h1v1h-1zM13 30h1v1h-1zM15 30h2v1h-2zM35 30h1v1h-1zM37 30h1v1h-1zM39 30h1v1h-1zM52 30h1v1h-1zM56 30h1v1h-1zM1 31h1v1h-1zM36 31h1v1h-1zM51 31h1v1h-1zM56 31h1v1h-1zM5 32h2v1h-2zM34 32h3v1h-3zM39 32h1v1h-1zM51 32h1v1h-1zM17 33h1v1h-1zM17 34h1v1h-1zM29 34h1v1h-1zM32 34h1v1h-1zM44 34h1v1h-1zM30 35h1v1h-1zM32 35h1v1h-1zM44 35h1v1h-1zM50 35h1v1h-1zM56 35h1v1h-1zM29 36h1v1h-1zM31 36h2v1h-2zM54 36h1v1h-1zM5 37h1v1h-1zM12 37h1v1h-1zM23 37h1v1h-1zM25 37h1v1h-1zM30 37h1v1h-1zM40 37h1v1h-1zM43 37h1v1h-1zM45 37h2v1h-2zM50 37h2v1h-2zM54 37h1v1h-1zM56 37h1v1h-1zM1 38h1v1h-1zM8 38h1v1h-1zM24 38h2v1h-2zM30 39h1v1h-1zM32 39h1v1h-1zM37 40h1v1h-1zM58 42h1v1h-1zM4 43h1v1h-1zM37 43h1v1h-1zM46 43h1v1h-1zM8 44h1v1h-1zM10 44h1v1h-1zM34 44h2v1h-2zM25 45h1v1h-1zM29 45h1v1h-1zM37 45h1v1h-1zM25 46h1v1h-1zM37 46h1v1h-1zM43 46h1v1h-1zM51 46h1v1h-1zM53 46h1v1h-1zM48 47h1v1h-1zM50 47h1v1h-1zM-1 48h2v1h-2zM3 48h1v1h-1zM47 48h1v1h-1zM35 50h1v1h-1zM37 50h1v1h-1zM47 50h1v1h-1zM52 50h3v1h-3zM31 51h2v1h-2zM37 51h1v1h-1zM46 51h1v1h-1zM55 51h2v1h-2zM29 52h2v1h-2zM50 52h1v1h-1zM29 53h1v1h-1zM46 53h1v1h-1zM50 53h1v1h-1zM25 54h1v1h-1zM28 54h1v1h-1zM36 54h2v1h-2zM50 54h1v1h-1zM13 55h1v1h-1zM51 55h1v1h-1zM56 55h1v1h-1zM30 56h2v1h-2zM35 56h1v1h-1zM37 56h1v1h-1zM51 56h1v1h-1zM55 56h1v1h-1zM1 57h1v1h-1zM42 58h1v1h-1zM61 59h1v1h-1zM59 61h1v1h-1z"/>
<path fill="#f8e016" d="M42 -1h2v1h-2zM47 -1h1v1h-1zM42 0h2v1h-2zM47 0h1v1h-1zM16 1h1v1h-1zM43 1h2v1h-2zM50 1h1v1h-1zM52 1h1v1h-1zM3 2h1v1h-1zM2 3h1v1h-1zM10 4h1v1h-1zM9 5h2v1h-2zM19 5h2v1h-2zM19 6h3v1h-3zM9 7h1v1h-1zM23 8h1v1h-1zM5 9h1v1h-1zM7 9h1v1h-1zM20 9h1v1h-1zM23 9h1v1h-1zM4 10h2v1h-2zM38 10h1v1h-1zM43 10h1v1h-1zM51 12h1v1h-1zM14 13h1v1h-1zM51 13h1v1h-1zM53 13h2v1h-2zM13 14h1v1h-1zM29 15h1v1h-1zM31 15h2v1h-2zM42 15h1v1h-1zM44 15h1v1h-1zM52 15h1v1h-1zM55 15h1v1h-1zM1 16h1v1h-1zM29 16h1v1h-1zM32 16h1v1h-1zM42 16h2v1h-2zM51 16h3v1h-3zM55 16h1v1h-1zM18 17h1v1h-1zM17 18h1v1h-1zM5 19h2v1h-2zM5 20h2v1h-2zM9 20h1v1h-1zM21 20h1v1h-1zM6 21h1v1h-1zM20 21h1v1h-1zM22 21h1v1h-1zM21 22h1v1h-1zM8 23h2v1h-2zM24 23h2v1h-2zM23 24h1v1h-1zM23 25h1v1h-1zM32 25h1v1h-1zM35 26h1v1h-1zM15 29h2v1h-2zM32 29h1v1h-1zM46 29h1v1h-1zM50 29h2v1h-2zM54 29h2v1h-2zM31 30h1v1h-1zM46 30h1v1h-1zM50 30h2v1h-2zM53 30h3v1h-3zM15 31h1v1h-1zM30 31h1v1h-1zM52 31h4v1h-4zM15 32h2v1h-2zM25 32h1v1h-1zM29 32h1v1h-1zM37 32h1v1h-1zM44 32h1v1h-1zM52 32h1v1h-1zM55 32h1v1h-1zM50 33h1v1h-1zM26 35h1v1h-1zM40 35h1v1h-1zM53 35h2v1h-2zM40 36h1v1h-1zM44 36h1v1h-1zM32 37h1v1h-1zM10 38h1v1h-1zM53 39h1v1h-1zM56 39h1v1h-1zM35 40h2v1h-2zM47 41h1v1h-1zM-1 42h2v1h-2zM15 42h2v1h-2zM-1 43h3v1h-3zM10 43h1v1h-1zM16 43h1v1h-1zM44 43h2v1h-2zM48 43h1v1h-1zM1 44h1v1h-1zM15 44h1v1h-1zM32 44h1v1h-1zM36 44h1v1h-1zM43 44h1v1h-1zM45 44h3v1h-3zM51 44h1v1h-1zM43 45h2v1h-2zM48 45h1v1h-1zM29 46h2v1h-2zM44 46h1v1h-1zM50 46h1v1h-1zM54 46h1v1h-1zM-1 47h2v1h-2zM41 47h1v1h-1zM44 47h1v1h-1zM43 48h1v1h-1zM45 48h1v1h-1zM1 50h1v1h-1zM29 50h2v1h-2zM33 50h1v1h-1zM46 50h1v1h-1zM51 50h1v1h-1zM12 51h2v1h-2zM16 51h1v1h-1zM29 51h2v1h-2zM44 51h1v1h-1zM50 51h1v1h-1zM53 51h2v1h-2zM1 52h1v1h-1zM15 52h2v1h-2zM31 52h2v1h-2zM53 52h2v1h-2zM56 52h1v1h-1zM13 53h1v1h-1zM16 53h1v1h-1zM30 53h2v1h-2zM35 53h1v1h-1zM39 53h1v1h-1zM51 53h2v1h-2zM55 53h1v1h-1zM13 54h1v1h-1zM29 54h3v1h-3zM35 54h1v1h-1zM46 54h1v1h-1zM51 54h2v1h-2zM55 54h1v1h-1zM15 55h2v1h-2zM29 55h4v1h-4zM53 55h2v1h-2zM39 56h1v1h-1zM52 56h1v1h-1zM60 59h1v1h-1zM59 60h1v1h-1z"/>
<path fill="#ffa00f" d="M1 -1h1v1h-1zM15 -1h1v1h-1zM1 0h1v1h-1zM15 0h1v1h-1zM-1 1h2v1h-2zM51 1h1v1h-1zM17 4h1v1h-1zM7 5h1v1h-1zM5 7h1v1h-1zM22 9h1v1h-1zM-1 15h2v1h-2zM43 15h1v1h-1zM51 15h1v1h-1zM31 16h1v1h-1zM4 17h1v1h-1zM21 19h1v1h-1zM22 20h1v1h-1zM19 21h1v1h-1zM9 22h1v1h-1zM20 22h1v1h-1zM28 25h1v1h-1zM27 26h1v1h-1zM37 26h1v1h-1zM26 27h1v1h-1zM25 28h1v1h-1zM38 28h1v1h-1zM16 31h1v1h-1zM32 31h1v1h-1zM31 32h1v1h-1zM53 32h2v1h-2zM56 32h1v1h-1zM39 35h1v1h-1zM26 37h1v1h-1zM28 38h1v1h-1zM35 39h1v1h-1zM15 43h1v1h-1zM47 43h1v1h-1zM43 47h1v1h-1zM50 49h1v1h-1zM49 50h1v1h-1zM1 51h1v1h-1zM15 51h1v1h-1zM52 51h1v1h-1zM51 52h1v1h-1zM32 53h1v1h-1zM32 54h1v1h-1zM56 54h1v1h-1zM32 56h1v1h-1zM54 56h1v1h-1z"/>
<path fill="#fa580a" d="M15 1h1v1h-1zM1 15h1v1h-1zM34 33h1v1h-1zM33 34h1v1h-1zM46 45h1v1h-1zM45 46h1v1h-1zM56 53h1v1h-1zM53 56h1v1h-1z"/>
<path fill="#eb190e" d="M50 32h1v1h-1zM50 34h1v1h-1zM37 35h1v1h-1zM35 37h1v1h-1zM32 50h1v1h-1zM34 50h1v1h-1zM55 52h1v1h-1zM54 53h1v1h-1zM53 54h1v1h-1zM52 55h1v1h-1z"/>
<path fill="#c80505" d="M16 15h1v1h-1zM15 16h1v1h-1zM31 29h1v1h-1zM44 29h1v1h-1zM32 30h1v1h-1zM29 31h1v1h-1zM30 32h1v1h-1zM46 32h1v1h-1zM29 44h1v1h-1zM32 46h1v1h-1z"/>
</g></g></g>
<rect x="27.00" y="33.00" width="387.70" height="412.80" fill="none" stroke="#1a1a1a" stroke-opacity="0.85" stroke-width="1.1"/>
<path d="M85.46 445.80v-3M85.46 33.00v3M27.00 95.25h3M414.70 95.25h-3M147.00 445.80v-3M147.00 33.00v3M27.00 160.77h3M414.70 160.77h-3M208.54 445.80v-3M208.54 33.00v3M27.00 226.30h3M414.70 226.30h-3M270.08 445.80v-3M270.08 33.00v3M27.00 291.82h3M414.70 291.82h-3M331.62 445.80v-3M331.62 33.00v3M27.00 357.34h3M414.70 357.34h-3M393.16 445.80v-3M393.16 33.00v3M27.00 422.87h3M414.70 422.87h-3" stroke="#1a1a1a" stroke-width="1" fill="none"/>
<text x="75.30" y="464.40" font-size="16.30" textLength="15.13" lengthAdjust="spacingAndGlyphs" filter="url(#tb)">10</text>
<text x="7.87" y="99.95" font-size="16.30" textLength="15.13" lengthAdjust="spacingAndGlyphs" filter="url(#tb)">10</text>
<text x="136.84" y="464.40" font-size="16.30" textLength="15.13" lengthAdjust="spacingAndGlyphs" filter="url(#tb)">20</text>
<text x="7.87" y="165.47" font-size="16.30" textLength="15.13" lengthAdjust="spacingAndGlyphs" filter="url(#tb)">20</text>
<text x="198.38" y="464.40" font-size="16.30" textLength="15.13" lengthAdjust="spacingAndGlyphs" filter="url(#tb)">30</text>
<text x="7.87" y="231.00" font-size="16.30" textLength="15.13" lengthAdjust="spacingAndGlyphs" filter="url(#tb)">30</text>
<text x="259.92" y="464.40" font-size="16.30" textLength="15.13" lengthAdjust="spacingAndGlyphs" filter="url(#tb)">40</text>
<text x="7.87" y="296.52" font-size="16.30" textLength="15.13" lengthAdjust="spacingAndGlyphs" filter="url(#tb)">40</text>
<text x="321.46" y="464.40" font-size="16.30" textLength="15.13" lengthAdjust="spacingAndGlyphs" filter="url(#tb)">50</text>
<text x="7.87" y="362.04" font-size="16.30" textLength="15.13" lengthAdjust="spacingAndGlyphs" filter="url(#tb)">50</text>
<text x="383.00" y="464.40" font-size="16.30" textLength="15.13" lengthAdjust="spacingAndGlyphs" filter="url(#tb)">60</text>
<text x="7.87" y="427.57" font-size="16.30" textLength="15.13" lengthAdjust="spacingAndGlyphs" filter="url(#tb)">60</text>
<text x="126.60" y="20.40" font-size="16.30" textLength="185.70" lengthAdjust="spacingAndGlyphs" filter="url(#tb)">ASD with sleep disorder group</text>
<text x="93.00" y="484.90" font-size="16.30" textLength="251.20" lengthAdjust="spacingAndGlyphs" filter="url(#tb)">Average of FC: 0.084962, STD: 0.074838</text>
<rect x="435.40" y="33.00" width="28.80" height="414.20" fill="url(#jet)" stroke="#1a1a1a" stroke-opacity="0.85" stroke-width="1.1"/>
<text x="465.90" y="38.40" font-size="16.30" textLength="18.91" lengthAdjust="spacingAndGlyphs" filter="url(#tb)">0.5</text>
<text x="465.90" y="97.57" font-size="16.30" textLength="18.91" lengthAdjust="spacingAndGlyphs" filter="url(#tb)">0.4</text>
<text x="465.90" y="156.74" font-size="16.30" textLength="18.91" lengthAdjust="spacingAndGlyphs" filter="url(#tb)">0.3</text>
<text x="465.90" y="215.91" font-size="16.30" textLength="18.91" lengthAdjust="spacingAndGlyphs" filter="url(#tb)">0.2</text>
<text x="465.90" y="275.09" font-size="16.30" textLength="18.91" lengthAdjust="spacingAndGlyphs" filter="url(#tb)">0.1</text>
<text x="465.90" y="334.26" font-size="16.30" textLength="7.56" lengthAdjust="spacingAndGlyphs" filter="url(#tb)">0</text>
<text x="465.90" y="393.43" font-size="16.30" textLength="23.44" lengthAdjust="spacingAndGlyphs" filter="url(#tb)">-0.1</text>
<text x="465.90" y="452.60" font-size="16.30" textLength="23.44" lengthAdjust="spacingAndGlyphs" filter="url(#tb)">-0.2</text>
<path d="M435.40 92.17h3M464.20 92.17h-3M435.40 151.34h3M464.20 151.34h-3M435.40 210.51h3M464.20 210.51h-3M435.40 269.69h3M464.20 269.69h-3M435.40 328.86h3M464.20 328.86h-3M435.40 388.03h3M464.20 388.03h-3" stroke="#1a1a1a" stroke-width="1" fill="none"/>
<text x="175.80" y="564.00" font-size="40.00" textLength="44.80" lengthAdjust="spacingAndGlyphs" class="lab">(a)</text>
</g>
<g id="panel-b">
<clipPath id="clip-b"><rect x="567.80" y="40.80" width="379.30" height="404.70"/></clipPath>
<g clip-path="url(#clip-b)"><g filter="url(#bl)">
<g transform="translate(567.80 40.80) scale(6.02063 6.42381)">
<path fill="#0076e4" d="M39 2h2v1h-2zM59 2h2v1h-2zM39 3h1v1h-1zM49 3h1v1h-1zM59 3h2v1h-2zM62 3h2v1h-2zM59 6h1v1h-1zM39 10h1v1h-1zM39 11h1v1h-1zM39 23h1v1h-1zM2 39h2v1h-2zM10 39h2v1h-2zM23 39h1v1h-1zM45 39h1v1h-1zM2 40h1v1h-1zM58 40h1v1h-1zM39 45h1v1h-1zM3 49h1v1h-1zM40 58h1v1h-1zM2 59h2v1h-2zM6 59h1v1h-1zM2 60h2v1h-2zM3 62h1v1h-1zM3 63h1v1h-1z"/>
<path fill="#00a0e0" d="M-1 -1h2v1h-2zM40 -1h1v1h-1zM-1 0h2v1h-2zM40 0h1v1h-1zM1 1h1v1h-1zM40 1h1v1h-1zM2 2h1v1h-1zM9 2h1v1h-1zM21 2h2v1h-2zM31 2h2v1h-2zM35 2h4v1h-4zM49 2h1v1h-1zM58 2h1v1h-1zM61 2h3v1h-3zM3 3h1v1h-1zM9 3h1v1h-1zM21 3h1v1h-1zM30 3h3v1h-3zM35 3h2v1h-2zM40 3h1v1h-1zM58 3h1v1h-1zM61 3h1v1h-1zM4 4h1v1h-1zM39 4h2v1h-2zM5 5h1v1h-1zM6 6h1v1h-1zM7 7h1v1h-1zM42 7h1v1h-1zM59 7h1v1h-1zM8 8h1v1h-1zM2 9h2v1h-2zM9 9h1v1h-1zM39 9h1v1h-1zM10 10h1v1h-1zM11 11h1v1h-1zM40 11h1v1h-1zM12 12h1v1h-1zM13 13h1v1h-1zM14 14h1v1h-1zM15 15h1v1h-1zM39 15h2v1h-2zM16 16h1v1h-1zM17 17h1v1h-1zM39 17h1v1h-1zM18 18h1v1h-1zM19 19h1v1h-1zM20 20h1v1h-1zM43 20h2v1h-2zM59 20h1v1h-1zM62 20h2v1h-2zM2 21h2v1h-2zM21 21h1v1h-1zM59 21h1v1h-1zM62 21h2v1h-2zM2 22h1v1h-1zM22 22h1v1h-1zM25 22h1v1h-1zM39 22h1v1h-1zM54 22h2v1h-2zM59 22h5v1h-5zM23 23h1v1h-1zM24 24h1v1h-1zM22 25h1v1h-1zM25 25h1v1h-1zM26 26h1v1h-1zM27 27h1v1h-1zM39 27h2v1h-2zM28 28h1v1h-1zM29 29h1v1h-1zM3 30h1v1h-1zM30 30h1v1h-1zM2 31h2v1h-2zM31 31h1v1h-1zM2 32h2v1h-2zM32 32h1v1h-1zM33 33h1v1h-1zM34 34h1v1h-1zM2 35h2v1h-2zM35 35h1v1h-1zM2 36h2v1h-2zM36 36h1v1h-1zM2 37h1v1h-1zM37 37h1v1h-1zM2 38h1v1h-1zM38 38h1v1h-1zM4 39h1v1h-1zM9 39h1v1h-1zM15 39h1v1h-1zM17 39h1v1h-1zM22 39h1v1h-1zM27 39h1v1h-1zM39 39h1v1h-1zM58 39h2v1h-2zM-1 40h3v1h-3zM3 40h2v1h-2zM11 40h1v1h-1zM15 40h1v1h-1zM27 40h1v1h-1zM40 40h1v1h-1zM42 40h1v1h-1zM44 40h4v1h-4zM52 40h1v1h-1zM59 40h1v1h-1zM41 41h1v1h-1zM7 42h1v1h-1zM40 42h1v1h-1zM42 42h1v1h-1zM20 43h1v1h-1zM43 43h1v1h-1zM20 44h1v1h-1zM40 44h1v1h-1zM44 44h1v1h-1zM40 45h1v1h-1zM45 45h1v1h-1zM40 46h1v1h-1zM46 46h1v1h-1zM40 47h1v1h-1zM47 47h1v1h-1zM48 48h1v1h-1zM2 49h1v1h-1zM49 49h1v1h-1zM58 49h1v1h-1zM62 49h2v1h-2zM50 50h1v1h-1zM51 51h1v1h-1zM40 52h1v1h-1zM52 52h1v1h-1zM53 53h1v1h-1zM22 54h1v1h-1zM54 54h1v1h-1zM22 55h1v1h-1zM55 55h1v1h-1zM56 56h1v1h-1zM57 57h1v1h-1zM2 58h2v1h-2zM39 58h1v1h-1zM49 58h1v1h-1zM58 58h1v1h-1zM7 59h1v1h-1zM20 59h3v1h-3zM39 59h2v1h-2zM59 59h1v1h-1zM22 60h1v1h-1zM60 60h1v1h-1zM2 61h2v1h-2zM22 61h1v1h-1zM61 61h1v1h-1zM2 62h1v1h-1zM20 62h3v1h-3zM49 62h1v1h-1zM62 62h2v1h-2zM2 63h1v1h-1zM20 63h3v1h-3zM49 63h1v1h-1zM62 63h2v1h-2z"/>
<path fill="#04c2c6" d="M22 -1h1v1h-1zM39 -1h1v1h-1zM22 0h1v1h-1zM39 0h1v1h-1zM21 1h2v1h-2zM39 1h1v1h-1zM11 2h4v1h-4zM16 2h1v1h-1zM27 2h4v1h-4zM34 2h1v1h-1zM41 2h2v1h-2zM50 2h8v1h-8zM11 3h2v1h-2zM22 3h1v1h-1zM27 3h1v1h-1zM29 3h1v1h-1zM34 3h1v1h-1zM37 3h2v1h-2zM41 3h2v1h-2zM50 3h1v1h-1zM53 3h4v1h-4zM11 5h1v1h-1zM39 5h2v1h-2zM49 5h1v1h-1zM59 5h2v1h-2zM62 5h2v1h-2zM11 6h1v1h-1zM35 6h1v1h-1zM39 6h1v1h-1zM48 6h2v1h-2zM52 6h1v1h-1zM54 6h2v1h-2zM60 6h1v1h-1zM62 6h2v1h-2zM11 7h1v1h-1zM14 7h2v1h-2zM35 7h1v1h-1zM39 7h1v1h-1zM45 7h1v1h-1zM48 7h2v1h-2zM52 7h4v1h-4zM60 7h1v1h-1zM62 7h2v1h-2zM39 8h1v1h-1zM40 9h1v1h-1zM49 9h1v1h-1zM59 9h1v1h-1zM35 10h1v1h-1zM40 10h1v1h-1zM49 10h1v1h-1zM59 10h1v1h-1zM2 11h2v1h-2zM5 11h3v1h-3zM12 11h1v1h-1zM20 11h2v1h-2zM24 11h1v1h-1zM35 11h1v1h-1zM45 11h2v1h-2zM49 11h1v1h-1zM58 11h6v1h-6zM2 12h2v1h-2zM11 12h1v1h-1zM39 12h2v1h-2zM2 13h1v1h-1zM22 13h1v1h-1zM39 13h2v1h-2zM58 13h1v1h-1zM2 14h1v1h-1zM7 14h1v1h-1zM39 14h2v1h-2zM7 15h1v1h-1zM21 15h2v1h-2zM2 16h1v1h-1zM21 16h2v1h-2zM39 16h2v1h-2zM40 17h1v1h-1zM58 17h3v1h-3zM39 18h2v1h-2zM58 18h1v1h-1zM39 19h2v1h-2zM58 19h2v1h-2zM11 20h1v1h-1zM25 20h1v1h-1zM30 20h1v1h-1zM34 20h1v1h-1zM45 20h1v1h-1zM49 20h6v1h-6zM58 20h1v1h-1zM60 20h2v1h-2zM1 21h1v1h-1zM11 21h1v1h-1zM15 21h2v1h-2zM25 21h1v1h-1zM30 21h1v1h-1zM39 21h1v1h-1zM54 21h1v1h-1zM58 21h1v1h-1zM60 21h2v1h-2zM-1 22h3v1h-3zM3 22h1v1h-1zM13 22h1v1h-1zM15 22h2v1h-2zM26 22h2v1h-2zM29 22h9v1h-9zM41 22h2v1h-2zM44 22h10v1h-10zM56 22h1v1h-1zM58 22h1v1h-1zM40 23h1v1h-1zM11 24h1v1h-1zM39 24h2v1h-2zM59 24h2v1h-2zM20 25h2v1h-2zM39 25h3v1h-3zM22 26h1v1h-1zM39 26h3v1h-3zM58 26h1v1h-1zM2 27h2v1h-2zM22 27h1v1h-1zM41 27h1v1h-1zM58 27h1v1h-1zM2 28h1v1h-1zM2 29h2v1h-2zM22 29h1v1h-1zM2 30h1v1h-1zM20 30h3v1h-3zM57 30h4v1h-4zM62 30h2v1h-2zM22 31h1v1h-1zM40 31h2v1h-2zM57 31h4v1h-4zM62 31h2v1h-2zM22 32h1v1h-1zM40 32h1v1h-1zM22 33h1v1h-1zM2 34h2v1h-2zM20 34h1v1h-1zM22 34h1v1h-1zM6 35h2v1h-2zM10 35h2v1h-2zM22 35h1v1h-1zM22 36h1v1h-1zM3 37h1v1h-1zM22 37h1v1h-1zM3 38h1v1h-1zM39 38h1v1h-1zM-1 39h3v1h-3zM5 39h4v1h-4zM12 39h3v1h-3zM16 39h1v1h-1zM18 39h2v1h-2zM21 39h1v1h-1zM24 39h3v1h-3zM38 39h1v1h-1zM42 39h3v1h-3zM46 39h3v1h-3zM57 39h1v1h-1zM60 39h4v1h-4zM5 40h1v1h-1zM9 40h2v1h-2zM12 40h3v1h-3zM16 40h4v1h-4zM23 40h4v1h-4zM31 40h2v1h-2zM41 40h1v1h-1zM43 40h1v1h-1zM48 40h1v1h-1zM51 40h1v1h-1zM53 40h2v1h-2zM57 40h1v1h-1zM60 40h4v1h-4zM2 41h2v1h-2zM22 41h1v1h-1zM25 41h3v1h-3zM31 41h1v1h-1zM40 41h1v1h-1zM2 42h2v1h-2zM22 42h1v1h-1zM39 42h1v1h-1zM39 43h2v1h-2zM22 44h1v1h-1zM39 44h1v1h-1zM7 45h1v1h-1zM11 45h1v1h-1zM20 45h1v1h-1zM22 45h1v1h-1zM11 46h1v1h-1zM22 46h1v1h-1zM39 46h1v1h-1zM22 47h1v1h-1zM39 47h1v1h-1zM6 48h2v1h-2zM22 48h1v1h-1zM39 48h2v1h-2zM5 49h3v1h-3zM9 49h3v1h-3zM20 49h1v1h-1zM22 49h1v1h-1zM2 50h2v1h-2zM20 50h1v1h-1zM22 50h1v1h-1zM2 51h1v1h-1zM20 51h1v1h-1zM22 51h1v1h-1zM40 51h1v1h-1zM2 52h1v1h-1zM6 52h2v1h-2zM20 52h1v1h-1zM22 52h1v1h-1zM2 53h2v1h-2zM7 53h1v1h-1zM20 53h1v1h-1zM22 53h1v1h-1zM40 53h1v1h-1zM2 54h2v1h-2zM6 54h2v1h-2zM20 54h2v1h-2zM40 54h1v1h-1zM2 55h2v1h-2zM6 55h2v1h-2zM2 56h2v1h-2zM22 56h1v1h-1zM2 57h1v1h-1zM30 57h2v1h-2zM39 57h2v1h-2zM11 58h1v1h-1zM13 58h1v1h-1zM17 58h6v1h-6zM26 58h2v1h-2zM30 58h2v1h-2zM5 59h1v1h-1zM9 59h3v1h-3zM17 59h1v1h-1zM19 59h1v1h-1zM24 59h1v1h-1zM30 59h2v1h-2zM5 60h3v1h-3zM11 60h1v1h-1zM17 60h1v1h-1zM20 60h2v1h-2zM24 60h1v1h-1zM30 60h2v1h-2zM39 60h2v1h-2zM11 61h1v1h-1zM20 61h2v1h-2zM39 61h2v1h-2zM5 62h3v1h-3zM11 62h1v1h-1zM30 62h2v1h-2zM39 62h2v1h-2zM5 63h3v1h-3zM11 63h1v1h-1zM30 63h2v1h-2zM39 63h2v1h-2z"/>
<path fill="#24d09e" d="M6 -1h1v1h-1zM20 -1h2v1h-2zM6 0h1v1h-1zM20 0h2v1h-2zM6 1h1v1h-1zM9 1h1v1h-1zM20 1h1v1h-1zM8 2h1v1h-1zM15 2h1v1h-1zM20 2h1v1h-1zM23 2h1v1h-1zM26 2h1v1h-1zM33 2h1v1h-1zM43 2h6v1h-6zM8 3h1v1h-1zM13 3h4v1h-4zM20 3h1v1h-1zM23 3h1v1h-1zM26 3h1v1h-1zM28 3h1v1h-1zM33 3h1v1h-1zM45 3h1v1h-1zM48 3h1v1h-1zM51 3h2v1h-2zM57 3h1v1h-1zM21 4h2v1h-2zM58 4h3v1h-3zM62 4h2v1h-2zM14 5h2v1h-2zM22 5h1v1h-1zM27 5h1v1h-1zM35 5h1v1h-1zM41 5h2v1h-2zM48 5h1v1h-1zM58 5h1v1h-1zM61 5h1v1h-1zM-1 6h3v1h-3zM14 6h3v1h-3zM22 6h1v1h-1zM27 6h1v1h-1zM29 6h3v1h-3zM42 6h1v1h-1zM47 6h1v1h-1zM53 6h1v1h-1zM56 6h1v1h-1zM58 6h1v1h-1zM61 6h1v1h-1zM12 7h2v1h-2zM16 7h1v1h-1zM22 7h1v1h-1zM26 7h2v1h-2zM29 7h4v1h-4zM37 7h1v1h-1zM40 7h2v1h-2zM43 7h2v1h-2zM46 7h1v1h-1zM56 7h1v1h-1zM58 7h1v1h-1zM61 7h1v1h-1zM2 8h2v1h-2zM11 8h1v1h-1zM21 8h2v1h-2zM40 8h1v1h-1zM49 8h1v1h-1zM59 8h5v1h-5zM1 9h1v1h-1zM11 9h1v1h-1zM14 9h2v1h-2zM31 9h1v1h-1zM41 9h1v1h-1zM44 9h2v1h-2zM48 9h1v1h-1zM58 9h1v1h-1zM60 9h1v1h-1zM62 9h2v1h-2zM21 10h2v1h-2zM58 10h1v1h-1zM60 10h1v1h-1zM62 10h2v1h-2zM8 11h2v1h-2zM13 11h1v1h-1zM19 11h1v1h-1zM22 11h2v1h-2zM26 11h8v1h-8zM36 11h3v1h-3zM41 11h4v1h-4zM47 11h2v1h-2zM50 11h8v1h-8zM7 12h1v1h-1zM20 12h1v1h-1zM22 12h1v1h-1zM3 13h1v1h-1zM7 13h1v1h-1zM11 13h1v1h-1zM20 13h1v1h-1zM3 14h1v1h-1zM5 14h2v1h-2zM9 14h1v1h-1zM20 14h1v1h-1zM22 14h1v1h-1zM58 14h1v1h-1zM2 15h2v1h-2zM5 15h2v1h-2zM9 15h1v1h-1zM20 15h1v1h-1zM3 16h1v1h-1zM6 16h2v1h-2zM20 16h1v1h-1zM20 17h3v1h-3zM61 17h1v1h-1zM30 18h1v1h-1zM55 18h2v1h-2zM11 19h1v1h-1zM30 19h1v1h-1zM-1 20h5v1h-5zM12 20h6v1h-6zM26 20h2v1h-2zM29 20h1v1h-1zM31 20h3v1h-3zM39 20h4v1h-4zM46 20h3v1h-3zM55 20h1v1h-1zM-1 21h2v1h-2zM4 21h1v1h-1zM8 21h1v1h-1zM10 21h1v1h-1zM17 21h1v1h-1zM26 21h2v1h-2zM48 21h1v1h-1zM52 21h1v1h-1zM55 21h1v1h-1zM4 22h5v1h-5zM10 22h3v1h-3zM14 22h1v1h-1zM17 22h1v1h-1zM28 22h1v1h-1zM38 22h1v1h-1zM40 22h1v1h-1zM43 22h1v1h-1zM57 22h1v1h-1zM2 23h2v1h-2zM11 23h1v1h-1zM58 23h6v1h-6zM27 24h1v1h-1zM41 24h1v1h-1zM58 24h1v1h-1zM62 24h2v1h-2zM30 25h1v1h-1zM58 25h1v1h-1zM2 26h2v1h-2zM7 26h1v1h-1zM11 26h1v1h-1zM20 26h2v1h-2zM59 26h1v1h-1zM5 27h3v1h-3zM11 27h1v1h-1zM20 27h2v1h-2zM24 27h1v1h-1zM59 27h2v1h-2zM3 28h1v1h-1zM11 28h1v1h-1zM22 28h1v1h-1zM39 28h3v1h-3zM58 28h1v1h-1zM6 29h2v1h-2zM11 29h1v1h-1zM20 29h1v1h-1zM39 29h3v1h-3zM6 30h2v1h-2zM11 30h1v1h-1zM18 30h2v1h-2zM25 30h1v1h-1zM40 30h2v1h-2zM61 30h1v1h-1zM6 31h2v1h-2zM9 31h1v1h-1zM11 31h1v1h-1zM20 31h1v1h-1zM61 31h1v1h-1zM7 32h1v1h-1zM11 32h1v1h-1zM20 32h1v1h-1zM41 32h1v1h-1zM57 32h4v1h-4zM62 32h2v1h-2zM2 33h2v1h-2zM11 33h1v1h-1zM20 33h1v1h-1zM5 35h1v1h-1zM58 35h2v1h-2zM11 36h1v1h-1zM62 36h2v1h-2zM7 37h1v1h-1zM11 37h1v1h-1zM58 37h3v1h-3zM62 37h2v1h-2zM11 38h1v1h-1zM22 38h1v1h-1zM20 39h1v1h-1zM28 39h2v1h-2zM41 39h1v1h-1zM49 39h8v1h-8zM7 40h2v1h-2zM20 40h1v1h-1zM22 40h1v1h-1zM28 40h3v1h-3zM50 40h1v1h-1zM55 40h2v1h-2zM5 41h1v1h-1zM7 41h1v1h-1zM9 41h1v1h-1zM11 41h1v1h-1zM20 41h1v1h-1zM24 41h1v1h-1zM28 41h3v1h-3zM32 41h1v1h-1zM39 41h1v1h-1zM5 42h2v1h-2zM11 42h1v1h-1zM20 42h1v1h-1zM49 42h1v1h-1zM56 42h1v1h-1zM60 42h1v1h-1zM2 43h1v1h-1zM7 43h1v1h-1zM11 43h1v1h-1zM22 43h1v1h-1zM2 44h1v1h-1zM7 44h1v1h-1zM9 44h1v1h-1zM11 44h1v1h-1zM2 45h2v1h-2zM9 45h1v1h-1zM58 45h1v1h-1zM2 46h1v1h-1zM7 46h1v1h-1zM20 46h1v1h-1zM2 47h1v1h-1zM6 47h1v1h-1zM11 47h1v1h-1zM20 47h1v1h-1zM2 48h2v1h-2zM5 48h1v1h-1zM9 48h1v1h-1zM11 48h1v1h-1zM20 48h2v1h-2zM58 48h6v1h-6zM8 49h1v1h-1zM39 49h1v1h-1zM42 49h1v1h-1zM56 49h2v1h-2zM59 49h3v1h-3zM11 50h1v1h-1zM39 50h2v1h-2zM58 50h1v1h-1zM62 50h2v1h-2zM3 51h1v1h-1zM11 51h1v1h-1zM39 51h1v1h-1zM3 52h1v1h-1zM11 52h1v1h-1zM21 52h1v1h-1zM39 52h1v1h-1zM6 53h1v1h-1zM11 53h1v1h-1zM39 53h1v1h-1zM11 54h1v1h-1zM39 54h1v1h-1zM58 54h1v1h-1zM11 55h1v1h-1zM18 55h1v1h-1zM20 55h2v1h-2zM39 55h2v1h-2zM6 56h2v1h-2zM11 56h1v1h-1zM18 56h1v1h-1zM39 56h2v1h-2zM42 56h1v1h-1zM49 56h1v1h-1zM57 56h7v1h-7zM3 57h1v1h-1zM11 57h1v1h-1zM22 57h1v1h-1zM32 57h1v1h-1zM49 57h1v1h-1zM56 57h1v1h-1zM4 58h4v1h-4zM9 58h2v1h-2zM14 58h1v1h-1zM23 58h3v1h-3zM28 58h1v1h-1zM32 58h1v1h-1zM35 58h1v1h-1zM37 58h1v1h-1zM45 58h1v1h-1zM48 58h1v1h-1zM50 58h1v1h-1zM54 58h1v1h-1zM56 58h1v1h-1zM4 59h1v1h-1zM8 59h1v1h-1zM23 59h1v1h-1zM26 59h2v1h-2zM32 59h1v1h-1zM35 59h1v1h-1zM37 59h1v1h-1zM48 59h2v1h-2zM56 59h1v1h-1zM4 60h1v1h-1zM8 60h3v1h-3zM23 60h1v1h-1zM27 60h1v1h-1zM32 60h1v1h-1zM37 60h1v1h-1zM42 60h1v1h-1zM48 60h2v1h-2zM56 60h1v1h-1zM5 61h4v1h-4zM17 61h1v1h-1zM23 61h1v1h-1zM30 61h2v1h-2zM48 61h2v1h-2zM56 61h1v1h-1zM4 62h1v1h-1zM8 62h3v1h-3zM23 62h2v1h-2zM32 62h1v1h-1zM36 62h2v1h-2zM48 62h1v1h-1zM50 62h1v1h-1zM56 62h1v1h-1zM4 63h1v1h-1zM8 63h3v1h-3zM23 63h2v1h-2zM32 63h1v1h-1zM36 63h2v1h-2zM48 63h1v1h-1zM50 63h1v1h-1zM56 63h1v1h-1z"/>
<path fill="#69dd64" d="M2 -1h1v1h-1zM5 -1h1v1h-1zM9 -1h2v1h-2zM2 0h1v1h-1zM5 0h1v1h-1zM9 0h2v1h-2zM2 1h1v1h-1zM5 1h1v1h-1zM10 1h1v1h-1zM59 1h1v1h-1zM-1 2h3v1h-3zM24 2h1v1h-1zM6 3h2v1h-2zM24 3h1v1h-1zM43 3h2v1h-2zM46 3h2v1h-2zM41 4h1v1h-1zM61 4h1v1h-1zM-1 5h3v1h-3zM16 5h1v1h-1zM26 5h1v1h-1zM28 5h4v1h-4zM43 5h1v1h-1zM47 5h1v1h-1zM50 5h1v1h-1zM53 5h5v1h-5zM3 6h1v1h-1zM12 6h2v1h-2zM26 6h1v1h-1zM28 6h1v1h-1zM32 6h1v1h-1zM40 6h2v1h-2zM43 6h4v1h-4zM50 6h2v1h-2zM57 6h1v1h-1zM3 7h1v1h-1zM21 7h1v1h-1zM28 7h1v1h-1zM47 7h1v1h-1zM50 7h2v1h-2zM57 7h1v1h-1zM41 8h1v1h-1zM48 8h1v1h-1zM58 8h1v1h-1zM-1 9h2v1h-2zM13 9h1v1h-1zM21 9h2v1h-2zM29 9h2v1h-2zM32 9h1v1h-1zM42 9h2v1h-2zM46 9h2v1h-2zM50 9h4v1h-4zM61 9h1v1h-1zM-1 10h3v1h-3zM20 10h1v1h-1zM41 10h1v1h-1zM61 10h1v1h-1zM14 11h5v1h-5zM25 11h1v1h-1zM34 11h1v1h-1zM6 12h1v1h-1zM21 12h1v1h-1zM24 12h1v1h-1zM6 13h1v1h-1zM9 13h1v1h-1zM21 13h1v1h-1zM24 13h1v1h-1zM11 14h1v1h-1zM21 14h1v1h-1zM11 15h1v1h-1zM5 16h1v1h-1zM11 16h1v1h-1zM24 16h2v1h-2zM27 16h1v1h-1zM11 17h1v1h-1zM49 17h1v1h-1zM55 17h1v1h-1zM62 17h2v1h-2zM11 18h1v1h-1zM41 18h1v1h-1zM59 18h1v1h-1zM62 18h2v1h-2zM41 19h1v1h-1zM60 19h4v1h-4zM10 20h1v1h-1zM28 20h1v1h-1zM35 20h4v1h-4zM56 20h2v1h-2zM7 21h1v1h-1zM9 21h1v1h-1zM12 21h3v1h-3zM29 21h1v1h-1zM31 21h1v1h-1zM37 21h1v1h-1zM40 21h5v1h-5zM51 21h1v1h-1zM53 21h1v1h-1zM56 21h2v1h-2zM9 22h1v1h-1zM23 22h1v1h-1zM22 23h1v1h-1zM2 24h2v1h-2zM12 24h2v1h-2zM16 24h1v1h-1zM30 24h3v1h-3zM42 24h1v1h-1zM50 24h4v1h-4zM55 24h1v1h-1zM61 24h1v1h-1zM11 25h1v1h-1zM16 25h1v1h-1zM42 25h1v1h-1zM59 25h2v1h-2zM62 25h2v1h-2zM5 26h2v1h-2zM30 26h1v1h-1zM42 26h1v1h-1zM60 26h1v1h-1zM62 26h2v1h-2zM16 27h1v1h-1zM30 27h1v1h-1zM42 27h1v1h-1zM62 27h2v1h-2zM5 28h3v1h-3zM20 28h1v1h-1zM30 28h1v1h-1zM59 28h1v1h-1zM5 29h1v1h-1zM9 29h1v1h-1zM21 29h1v1h-1zM42 29h1v1h-1zM58 29h2v1h-2zM62 29h2v1h-2zM5 30h1v1h-1zM9 30h1v1h-1zM24 30h1v1h-1zM26 30h3v1h-3zM42 30h1v1h-1zM5 31h1v1h-1zM21 31h1v1h-1zM24 31h1v1h-1zM42 31h1v1h-1zM6 32h1v1h-1zM9 32h1v1h-1zM24 32h1v1h-1zM42 32h1v1h-1zM61 32h1v1h-1zM40 33h3v1h-3zM58 33h2v1h-2zM11 34h1v1h-1zM40 34h3v1h-3zM58 34h2v1h-2zM20 35h1v1h-1zM40 35h3v1h-3zM57 35h1v1h-1zM60 35h4v1h-4zM20 36h1v1h-1zM58 36h4v1h-4zM20 37h2v1h-2zM41 37h1v1h-1zM61 37h1v1h-1zM20 38h1v1h-1zM58 38h1v1h-1zM6 40h1v1h-1zM21 40h1v1h-1zM33 40h3v1h-3zM49 40h1v1h-1zM4 41h1v1h-1zM6 41h1v1h-1zM8 41h1v1h-1zM10 41h1v1h-1zM18 41h2v1h-2zM21 41h1v1h-1zM33 41h3v1h-3zM37 41h1v1h-1zM43 41h7v1h-7zM52 41h3v1h-3zM9 42h1v1h-1zM21 42h1v1h-1zM24 42h4v1h-4zM29 42h7v1h-7zM48 42h1v1h-1zM59 42h1v1h-1zM61 42h3v1h-3zM3 43h1v1h-1zM5 43h2v1h-2zM9 43h1v1h-1zM21 43h1v1h-1zM41 43h1v1h-1zM59 43h1v1h-1zM3 44h1v1h-1zM6 44h1v1h-1zM21 44h1v1h-1zM41 44h1v1h-1zM58 44h2v1h-2zM6 45h1v1h-1zM41 45h1v1h-1zM59 45h2v1h-2zM3 46h1v1h-1zM6 46h1v1h-1zM9 46h1v1h-1zM41 46h1v1h-1zM58 46h2v1h-2zM3 47h1v1h-1zM5 47h1v1h-1zM7 47h1v1h-1zM9 47h1v1h-1zM41 47h1v1h-1zM8 48h1v1h-1zM41 48h2v1h-2zM17 49h1v1h-1zM40 49h2v1h-2zM53 49h3v1h-3zM5 50h3v1h-3zM9 50h1v1h-1zM24 50h1v1h-1zM57 50h1v1h-1zM59 50h1v1h-1zM6 51h2v1h-2zM9 51h1v1h-1zM21 51h1v1h-1zM24 51h1v1h-1zM62 51h2v1h-2zM9 52h1v1h-1zM24 52h1v1h-1zM41 52h1v1h-1zM62 52h2v1h-2zM5 53h1v1h-1zM9 53h1v1h-1zM21 53h1v1h-1zM24 53h1v1h-1zM41 53h1v1h-1zM49 53h1v1h-1zM58 53h2v1h-2zM62 53h2v1h-2zM5 54h1v1h-1zM41 54h1v1h-1zM49 54h1v1h-1zM5 55h1v1h-1zM17 55h1v1h-1zM24 55h1v1h-1zM49 55h1v1h-1zM58 55h1v1h-1zM5 56h1v1h-1zM20 56h2v1h-2zM5 57h3v1h-3zM20 57h2v1h-2zM35 57h1v1h-1zM50 57h1v1h-1zM8 58h1v1h-1zM29 58h1v1h-1zM33 58h2v1h-2zM36 58h1v1h-1zM38 58h1v1h-1zM44 58h1v1h-1zM46 58h1v1h-1zM53 58h1v1h-1zM55 58h1v1h-1zM1 59h1v1h-1zM18 59h1v1h-1zM25 59h1v1h-1zM28 59h2v1h-2zM33 59h2v1h-2zM36 59h1v1h-1zM42 59h5v1h-5zM50 59h1v1h-1zM53 59h1v1h-1zM19 60h1v1h-1zM25 60h2v1h-2zM35 60h2v1h-2zM45 60h1v1h-1zM4 61h1v1h-1zM9 61h2v1h-2zM19 61h1v1h-1zM24 61h1v1h-1zM32 61h1v1h-1zM35 61h3v1h-3zM42 61h1v1h-1zM17 62h3v1h-3zM25 62h3v1h-3zM29 62h1v1h-1zM35 62h1v1h-1zM42 62h1v1h-1zM51 62h3v1h-3zM17 63h3v1h-3zM25 63h3v1h-3zM29 63h1v1h-1zM35 63h1v1h-1zM42 63h1v1h-1zM51 63h3v1h-3z"/>
<path fill="#d0e628" d="M3 -1h1v1h-1zM11 -1h1v1h-1zM24 -1h1v1h-1zM30 -1h2v1h-2zM41 -1h1v1h-1zM49 -1h1v1h-1zM58 -1h2v1h-2zM3 0h1v1h-1zM11 0h1v1h-1zM24 0h1v1h-1zM30 0h2v1h-2zM41 0h1v1h-1zM49 0h1v1h-1zM58 0h2v1h-2zM3 1h1v1h-1zM7 1h1v1h-1zM11 1h1v1h-1zM24 1h1v1h-1zM30 1h2v1h-2zM41 1h1v1h-1zM58 1h1v1h-1zM5 2h2v1h-2zM17 2h1v1h-1zM19 2h1v1h-1zM25 2h1v1h-1zM-1 3h3v1h-3zM5 3h1v1h-1zM17 3h1v1h-1zM19 3h1v1h-1zM25 3h1v1h-1zM9 4h1v1h-1zM11 4h1v1h-1zM20 4h1v1h-1zM31 4h1v1h-1zM35 4h1v1h-1zM42 4h1v1h-1zM48 4h2v1h-2zM55 4h3v1h-3zM2 5h2v1h-2zM10 5h1v1h-1zM12 5h2v1h-2zM17 5h1v1h-1zM21 5h1v1h-1zM24 5h1v1h-1zM32 5h1v1h-1zM34 5h1v1h-1zM38 5h1v1h-1zM44 5h3v1h-3zM51 5h2v1h-2zM2 6h1v1h-1zM10 6h1v1h-1zM17 6h1v1h-1zM20 6h1v1h-1zM24 6h2v1h-2zM34 6h1v1h-1zM36 6h3v1h-3zM1 7h1v1h-1zM17 7h2v1h-2zM20 7h1v1h-1zM23 7h3v1h-3zM34 7h1v1h-1zM36 7h1v1h-1zM38 7h1v1h-1zM12 8h1v1h-1zM14 8h3v1h-3zM30 8h2v1h-2zM35 8h1v1h-1zM42 8h1v1h-1zM4 9h1v1h-1zM10 9h1v1h-1zM12 9h1v1h-1zM16 9h2v1h-2zM20 9h1v1h-1zM24 9h1v1h-1zM26 9h3v1h-3zM34 9h5v1h-5zM54 9h3v1h-3zM5 10h2v1h-2zM9 10h1v1h-1zM16 10h1v1h-1zM24 10h1v1h-1zM29 10h3v1h-3zM36 10h2v1h-2zM42 10h1v1h-1zM48 10h1v1h-1zM50 10h1v1h-1zM52 10h1v1h-1zM56 10h2v1h-2zM-1 11h3v1h-3zM4 11h1v1h-1zM5 12h1v1h-1zM8 12h2v1h-2zM31 12h1v1h-1zM41 12h2v1h-2zM49 12h1v1h-1zM58 12h6v1h-6zM5 13h1v1h-1zM30 13h2v1h-2zM41 13h2v1h-2zM49 13h1v1h-1zM57 13h1v1h-1zM59 13h5v1h-5zM8 14h1v1h-1zM24 14h1v1h-1zM30 14h2v1h-2zM41 14h2v1h-2zM49 14h2v1h-2zM56 14h2v1h-2zM59 14h5v1h-5zM8 15h1v1h-1zM24 15h1v1h-1zM41 15h2v1h-2zM49 15h2v1h-2zM58 15h6v1h-6zM8 16h3v1h-3zM23 16h1v1h-1zM26 16h1v1h-1zM41 16h2v1h-2zM49 16h2v1h-2zM58 16h6v1h-6zM2 17h2v1h-2zM5 17h3v1h-3zM9 17h1v1h-1zM29 17h3v1h-3zM41 17h2v1h-2zM48 17h1v1h-1zM50 17h1v1h-1zM52 17h3v1h-3zM56 17h2v1h-2zM7 18h1v1h-1zM20 18h3v1h-3zM29 18h1v1h-1zM31 18h2v1h-2zM35 18h1v1h-1zM42 18h1v1h-1zM48 18h2v1h-2zM52 18h3v1h-3zM57 18h1v1h-1zM60 18h2v1h-2zM2 19h2v1h-2zM20 19h1v1h-1zM31 19h1v1h-1zM35 19h1v1h-1zM42 19h1v1h-1zM48 19h1v1h-1zM55 19h3v1h-3zM4 20h1v1h-1zM6 20h2v1h-2zM9 20h1v1h-1zM18 20h2v1h-2zM5 21h1v1h-1zM18 21h1v1h-1zM28 21h1v1h-1zM32 21h5v1h-5zM38 21h1v1h-1zM45 21h1v1h-1zM47 21h1v1h-1zM49 21h2v1h-2zM18 22h1v1h-1zM24 22h1v1h-1zM7 23h1v1h-1zM16 23h1v1h-1zM29 23h2v1h-2zM41 23h1v1h-1zM57 23h1v1h-1zM-1 24h3v1h-3zM5 24h3v1h-3zM9 24h2v1h-2zM14 24h2v1h-2zM22 24h1v1h-1zM26 24h1v1h-1zM33 24h3v1h-3zM43 24h3v1h-3zM48 24h2v1h-2zM54 24h1v1h-1zM56 24h2v1h-2zM2 25h2v1h-2zM6 25h2v1h-2zM29 25h1v1h-1zM31 25h1v1h-1zM49 25h1v1h-1zM57 25h1v1h-1zM61 25h1v1h-1zM9 26h1v1h-1zM16 26h1v1h-1zM24 26h1v1h-1zM49 26h2v1h-2zM57 26h1v1h-1zM61 26h1v1h-1zM9 27h1v1h-1zM49 27h2v1h-2zM56 27h2v1h-2zM61 27h1v1h-1zM9 28h1v1h-1zM21 28h1v1h-1zM42 28h1v1h-1zM56 28h2v1h-2zM60 28h1v1h-1zM62 28h2v1h-2zM10 29h1v1h-1zM17 29h2v1h-2zM23 29h1v1h-1zM25 29h1v1h-1zM49 29h1v1h-1zM57 29h1v1h-1zM60 29h1v1h-1zM-1 30h3v1h-3zM8 30h1v1h-1zM10 30h1v1h-1zM13 30h2v1h-2zM17 30h1v1h-1zM23 30h1v1h-1zM39 30h1v1h-1zM-1 31h3v1h-3zM4 31h1v1h-1zM8 31h1v1h-1zM10 31h1v1h-1zM12 31h3v1h-3zM17 31h3v1h-3zM25 31h1v1h-1zM5 32h1v1h-1zM18 32h1v1h-1zM21 32h1v1h-1zM21 33h1v1h-1zM24 33h1v1h-1zM39 33h1v1h-1zM57 33h1v1h-1zM60 33h1v1h-1zM62 33h2v1h-2zM5 34h3v1h-3zM9 34h1v1h-1zM21 34h1v1h-1zM24 34h1v1h-1zM39 34h1v1h-1zM55 34h3v1h-3zM60 34h4v1h-4zM4 35h1v1h-1zM8 35h2v1h-2zM18 35h2v1h-2zM21 35h1v1h-1zM24 35h1v1h-1zM49 35h1v1h-1zM55 35h1v1h-1zM6 36h2v1h-2zM9 36h2v1h-2zM21 36h1v1h-1zM39 36h1v1h-1zM41 36h2v1h-2zM57 36h1v1h-1zM6 37h1v1h-1zM9 37h2v1h-2zM39 37h2v1h-2zM42 37h1v1h-1zM57 37h1v1h-1zM5 38h3v1h-3zM9 38h1v1h-1zM21 38h1v1h-1zM41 38h2v1h-2zM57 38h1v1h-1zM59 38h1v1h-1zM62 38h2v1h-2zM30 39h1v1h-1zM33 39h2v1h-2zM36 39h2v1h-2zM37 40h1v1h-1zM-1 41h3v1h-3zM12 41h6v1h-6zM23 41h1v1h-1zM36 41h1v1h-1zM38 41h1v1h-1zM50 41h2v1h-2zM55 41h2v1h-2zM59 41h5v1h-5zM4 42h1v1h-1zM8 42h1v1h-1zM10 42h1v1h-1zM12 42h8v1h-8zM28 42h1v1h-1zM36 42h3v1h-3zM43 42h3v1h-3zM47 42h1v1h-1zM50 42h1v1h-1zM52 42h1v1h-1zM54 42h2v1h-2zM24 43h1v1h-1zM42 43h1v1h-1zM58 43h1v1h-1zM60 43h1v1h-1zM62 43h2v1h-2zM5 44h1v1h-1zM24 44h1v1h-1zM42 44h1v1h-1zM60 44h4v1h-4zM5 45h1v1h-1zM21 45h1v1h-1zM24 45h1v1h-1zM42 45h1v1h-1zM57 45h1v1h-1zM61 45h3v1h-3zM5 46h1v1h-1zM57 46h1v1h-1zM60 46h4v1h-4zM21 47h1v1h-1zM42 47h1v1h-1zM57 47h7v1h-7zM4 48h1v1h-1zM10 48h1v1h-1zM17 48h3v1h-3zM24 48h1v1h-1zM49 48h1v1h-1zM57 48h1v1h-1zM-1 49h2v1h-2zM4 49h1v1h-1zM12 49h5v1h-5zM18 49h1v1h-1zM21 49h1v1h-1zM24 49h4v1h-4zM29 49h1v1h-1zM35 49h1v1h-1zM48 49h1v1h-1zM52 49h1v1h-1zM10 50h1v1h-1zM14 50h4v1h-4zM21 50h1v1h-1zM26 50h2v1h-2zM41 50h2v1h-2zM52 50h1v1h-1zM60 50h2v1h-2zM5 51h1v1h-1zM41 51h1v1h-1zM58 51h2v1h-2zM61 51h1v1h-1zM5 52h1v1h-1zM10 52h1v1h-1zM17 52h2v1h-2zM42 52h1v1h-1zM49 52h2v1h-2zM58 52h2v1h-2zM61 52h1v1h-1zM17 53h2v1h-2zM60 53h2v1h-2zM9 54h1v1h-1zM17 54h2v1h-2zM24 54h1v1h-1zM42 54h1v1h-1zM59 54h5v1h-5zM4 55h1v1h-1zM9 55h1v1h-1zM19 55h1v1h-1zM34 55h2v1h-2zM41 55h2v1h-2zM59 55h5v1h-5zM4 56h1v1h-1zM9 56h2v1h-2zM14 56h1v1h-1zM17 56h1v1h-1zM19 56h1v1h-1zM24 56h1v1h-1zM27 56h2v1h-2zM34 56h1v1h-1zM41 56h1v1h-1zM4 57h1v1h-1zM10 57h1v1h-1zM13 57h2v1h-2zM17 57h3v1h-3zM23 57h7v1h-7zM33 57h2v1h-2zM36 57h3v1h-3zM45 57h4v1h-4zM60 57h1v1h-1zM62 57h2v1h-2zM-1 58h3v1h-3zM12 58h1v1h-1zM15 58h2v1h-2zM43 58h1v1h-1zM47 58h1v1h-1zM51 58h2v1h-2zM59 58h2v1h-2zM62 58h2v1h-2zM-1 59h2v1h-2zM12 59h5v1h-5zM38 59h1v1h-1zM41 59h1v1h-1zM47 59h1v1h-1zM51 59h2v1h-2zM54 59h2v1h-2zM58 59h1v1h-1zM12 60h5v1h-5zM18 60h1v1h-1zM28 60h2v1h-2zM33 60h2v1h-2zM41 60h1v1h-1zM43 60h2v1h-2zM46 60h2v1h-2zM50 60h1v1h-1zM53 60h3v1h-3zM57 60h2v1h-2zM12 61h5v1h-5zM18 61h1v1h-1zM25 61h3v1h-3zM34 61h1v1h-1zM41 61h1v1h-1zM44 61h4v1h-4zM50 61h6v1h-6zM12 62h5v1h-5zM28 62h1v1h-1zM33 62h2v1h-2zM38 62h1v1h-1zM41 62h1v1h-1zM43 62h5v1h-5zM54 62h2v1h-2zM57 62h2v1h-2zM12 63h5v1h-5zM28 63h1v1h-1zM33 63h2v1h-2zM38 63h1v1h-1zM41 63h1v1h-1zM43 63h5v1h-5zM54 63h2v1h-2zM57 63h2v1h-2z"/>
<path fill="#fed40e" d="M7 -1h2v1h-2zM23 -1h1v1h-1zM26 -1h2v1h-2zM32 -1h1v1h-1zM36 -1h1v1h-1zM42 -1h1v1h-1zM56 -1h2v1h-2zM60 -1h4v1h-4zM7 0h2v1h-2zM23 0h1v1h-1zM26 0h2v1h-2zM32 0h1v1h-1zM36 0h1v1h-1zM42 0h1v1h-1zM56 0h2v1h-2zM60 0h4v1h-4zM8 1h1v1h-1zM14 1h1v1h-1zM16 1h1v1h-1zM19 1h1v1h-1zM23 1h1v1h-1zM26 1h2v1h-2zM32 1h1v1h-1zM42 1h1v1h-1zM49 1h1v1h-1zM56 1h2v1h-2zM60 1h4v1h-4zM4 2h1v1h-1zM7 2h1v1h-1zM18 2h1v1h-1zM4 3h1v1h-1zM10 3h1v1h-1zM18 3h1v1h-1zM2 4h2v1h-2zM7 4h1v1h-1zM10 4h1v1h-1zM13 4h4v1h-4zM24 4h1v1h-1zM26 4h5v1h-5zM32 4h1v1h-1zM36 4h3v1h-3zM45 4h3v1h-3zM50 4h1v1h-1zM53 4h2v1h-2zM9 5h1v1h-1zM18 5h1v1h-1zM25 5h1v1h-1zM33 5h1v1h-1zM36 5h2v1h-2zM7 6h3v1h-3zM18 6h1v1h-1zM23 6h1v1h-1zM33 6h1v1h-1zM-1 7h2v1h-2zM2 7h1v1h-1zM4 7h1v1h-1zM6 7h1v1h-1zM10 7h1v1h-1zM19 7h1v1h-1zM33 7h1v1h-1zM-1 8h3v1h-3zM6 8h1v1h-1zM20 8h1v1h-1zM24 8h1v1h-1zM29 8h1v1h-1zM32 8h2v1h-2zM44 8h4v1h-4zM54 8h4v1h-4zM5 9h2v1h-2zM18 9h2v1h-2zM23 9h1v1h-1zM25 9h1v1h-1zM33 9h1v1h-1zM57 9h1v1h-1zM3 10h2v1h-2zM7 10h1v1h-1zM12 10h1v1h-1zM14 10h2v1h-2zM18 10h2v1h-2zM26 10h3v1h-3zM32 10h3v1h-3zM38 10h1v1h-1zM43 10h2v1h-2zM46 10h2v1h-2zM53 10h3v1h-3zM10 12h1v1h-1zM15 12h5v1h-5zM23 12h1v1h-1zM25 12h2v1h-2zM30 12h1v1h-1zM32 12h1v1h-1zM35 12h4v1h-4zM45 12h1v1h-1zM48 12h1v1h-1zM50 12h1v1h-1zM54 12h4v1h-4zM4 13h1v1h-1zM16 13h2v1h-2zM19 13h1v1h-1zM23 13h1v1h-1zM25 13h1v1h-1zM28 13h1v1h-1zM32 13h1v1h-1zM34 13h1v1h-1zM38 13h1v1h-1zM50 13h1v1h-1zM55 13h2v1h-2zM1 14h1v1h-1zM4 14h1v1h-1zM10 14h1v1h-1zM15 14h3v1h-3zM19 14h1v1h-1zM23 14h1v1h-1zM25 14h1v1h-1zM32 14h5v1h-5zM38 14h1v1h-1zM52 14h2v1h-2zM55 14h1v1h-1zM4 15h1v1h-1zM10 15h1v1h-1zM12 15h1v1h-1zM14 15h1v1h-1zM17 15h3v1h-3zM23 15h1v1h-1zM25 15h4v1h-4zM33 15h4v1h-4zM38 15h1v1h-1zM48 15h1v1h-1zM57 15h1v1h-1zM1 16h1v1h-1zM4 16h1v1h-1zM12 16h3v1h-3zM17 16h3v1h-3zM28 16h1v1h-1zM32 16h3v1h-3zM36 16h1v1h-1zM38 16h1v1h-1zM43 16h1v1h-1zM45 16h1v1h-1zM47 16h2v1h-2zM57 16h1v1h-1zM12 17h5v1h-5zM24 17h1v1h-1zM26 17h3v1h-3zM32 17h1v1h-1zM35 17h4v1h-4zM44 17h1v1h-1zM46 17h2v1h-2zM2 18h2v1h-2zM5 18h2v1h-2zM9 18h2v1h-2zM12 18h1v1h-1zM15 18h2v1h-2zM23 18h3v1h-3zM27 18h1v1h-1zM36 18h3v1h-3zM44 18h1v1h-1zM46 18h2v1h-2zM50 18h1v1h-1zM1 19h1v1h-1zM7 19h1v1h-1zM9 19h2v1h-2zM12 19h5v1h-5zM22 19h1v1h-1zM25 19h5v1h-5zM32 19h3v1h-3zM38 19h1v1h-1zM47 19h1v1h-1zM49 19h1v1h-1zM52 19h1v1h-1zM8 20h1v1h-1zM23 20h2v1h-2zM23 21h2v1h-2zM46 21h1v1h-1zM19 22h1v1h-1zM-1 23h3v1h-3zM6 23h1v1h-1zM9 23h1v1h-1zM12 23h4v1h-4zM18 23h1v1h-1zM20 23h2v1h-2zM26 23h2v1h-2zM31 23h5v1h-5zM37 23h1v1h-1zM42 23h3v1h-3zM46 23h4v1h-4zM55 23h2v1h-2zM4 24h1v1h-1zM8 24h1v1h-1zM17 24h2v1h-2zM20 24h2v1h-2zM25 24h1v1h-1zM28 24h2v1h-2zM36 24h3v1h-3zM46 24h2v1h-2zM5 25h1v1h-1zM9 25h1v1h-1zM12 25h4v1h-4zM18 25h2v1h-2zM24 25h1v1h-1zM26 25h1v1h-1zM32 25h4v1h-4zM37 25h1v1h-1zM44 25h1v1h-1zM48 25h1v1h-1zM50 25h1v1h-1zM52 25h2v1h-2zM55 25h2v1h-2zM-1 26h3v1h-3zM4 26h1v1h-1zM10 26h1v1h-1zM12 26h1v1h-1zM15 26h1v1h-1zM17 26h1v1h-1zM19 26h1v1h-1zM23 26h1v1h-1zM25 26h1v1h-1zM29 26h1v1h-1zM31 26h1v1h-1zM44 26h1v1h-1zM47 26h1v1h-1zM55 26h2v1h-2zM-1 27h3v1h-3zM4 27h1v1h-1zM10 27h1v1h-1zM15 27h1v1h-1zM17 27h3v1h-3zM23 27h1v1h-1zM29 27h1v1h-1zM31 27h2v1h-2zM35 27h2v1h-2zM38 27h1v1h-1zM43 27h2v1h-2zM47 27h1v1h-1zM52 27h4v1h-4zM4 28h1v1h-1zM10 28h1v1h-1zM13 28h1v1h-1zM15 28h3v1h-3zM19 28h1v1h-1zM24 28h1v1h-1zM29 28h1v1h-1zM31 28h3v1h-3zM35 28h1v1h-1zM37 28h1v1h-1zM47 28h3v1h-3zM52 28h4v1h-4zM61 28h1v1h-1zM4 29h1v1h-1zM8 29h1v1h-1zM19 29h1v1h-1zM24 29h1v1h-1zM26 29h3v1h-3zM33 29h1v1h-1zM36 29h1v1h-1zM48 29h1v1h-1zM50 29h1v1h-1zM61 29h1v1h-1zM4 30h1v1h-1zM12 30h1v1h-1zM33 30h6v1h-6zM43 30h3v1h-3zM47 30h2v1h-2zM52 30h3v1h-3zM56 30h1v1h-1zM23 31h1v1h-1zM26 31h3v1h-3zM33 31h4v1h-4zM38 31h2v1h-2zM43 31h1v1h-1zM45 31h1v1h-1zM47 31h4v1h-4zM54 31h1v1h-1zM-1 32h3v1h-3zM4 32h1v1h-1zM8 32h1v1h-1zM10 32h1v1h-1zM12 32h3v1h-3zM16 32h2v1h-2zM19 32h1v1h-1zM23 32h1v1h-1zM25 32h1v1h-1zM27 32h2v1h-2zM33 32h1v1h-1zM36 32h1v1h-1zM38 32h2v1h-2zM43 32h1v1h-1zM47 32h3v1h-3zM54 32h1v1h-1zM5 33h6v1h-6zM14 33h3v1h-3zM19 33h1v1h-1zM23 33h1v1h-1zM25 33h1v1h-1zM28 33h5v1h-5zM35 33h4v1h-4zM43 33h1v1h-1zM48 33h2v1h-2zM53 33h4v1h-4zM61 33h1v1h-1zM10 34h1v1h-1zM13 34h4v1h-4zM19 34h1v1h-1zM23 34h1v1h-1zM25 34h1v1h-1zM30 34h2v1h-2zM35 34h1v1h-1zM37 34h2v1h-2zM43 34h2v1h-2zM48 34h2v1h-2zM52 34h3v1h-3zM12 35h1v1h-1zM14 35h2v1h-2zM17 35h1v1h-1zM23 35h1v1h-1zM25 35h1v1h-1zM27 35h2v1h-2zM30 35h2v1h-2zM33 35h2v1h-2zM38 35h1v1h-1zM43 35h3v1h-3zM47 35h2v1h-2zM50 35h1v1h-1zM52 35h1v1h-1zM-1 36h2v1h-2zM4 36h2v1h-2zM12 36h1v1h-1zM14 36h5v1h-5zM24 36h1v1h-1zM27 36h1v1h-1zM29 36h5v1h-5zM47 36h2v1h-2zM52 36h1v1h-1zM55 36h2v1h-2zM4 37h2v1h-2zM12 37h1v1h-1zM17 37h2v1h-2zM23 37h3v1h-3zM28 37h1v1h-1zM30 37h1v1h-1zM33 37h2v1h-2zM49 37h1v1h-1zM4 38h1v1h-1zM10 38h1v1h-1zM12 38h8v1h-8zM24 38h1v1h-1zM27 38h1v1h-1zM30 38h6v1h-6zM40 38h1v1h-1zM47 38h3v1h-3zM52 38h1v1h-1zM55 38h2v1h-2zM60 38h2v1h-2zM31 39h2v1h-2zM38 40h1v1h-1zM-1 42h3v1h-3zM23 42h1v1h-1zM46 42h1v1h-1zM51 42h1v1h-1zM53 42h1v1h-1zM10 43h1v1h-1zM16 43h1v1h-1zM23 43h1v1h-1zM27 43h1v1h-1zM30 43h6v1h-6zM49 43h1v1h-1zM56 43h2v1h-2zM61 43h1v1h-1zM8 44h1v1h-1zM10 44h1v1h-1zM17 44h2v1h-2zM23 44h1v1h-1zM25 44h3v1h-3zM30 44h1v1h-1zM34 44h2v1h-2zM49 44h1v1h-1zM55 44h3v1h-3zM4 45h1v1h-1zM8 45h1v1h-1zM12 45h1v1h-1zM16 45h1v1h-1zM30 45h2v1h-2zM35 45h1v1h-1zM49 45h1v1h-1zM52 45h1v1h-1zM55 45h2v1h-2zM4 46h1v1h-1zM8 46h1v1h-1zM10 46h1v1h-1zM17 46h2v1h-2zM21 46h1v1h-1zM23 46h2v1h-2zM42 46h1v1h-1zM49 46h1v1h-1zM55 46h2v1h-2zM4 47h1v1h-1zM8 47h1v1h-1zM10 47h1v1h-1zM16 47h4v1h-4zM23 47h2v1h-2zM26 47h3v1h-3zM30 47h3v1h-3zM35 47h2v1h-2zM38 47h1v1h-1zM49 47h1v1h-1zM55 47h2v1h-2zM12 48h1v1h-1zM15 48h2v1h-2zM23 48h1v1h-1zM25 48h1v1h-1zM28 48h9v1h-9zM38 48h1v1h-1zM50 48h1v1h-1zM52 48h1v1h-1zM55 48h2v1h-2zM1 49h1v1h-1zM19 49h1v1h-1zM23 49h1v1h-1zM28 49h1v1h-1zM31 49h4v1h-4zM37 49h2v1h-2zM43 49h5v1h-5zM51 49h1v1h-1zM4 50h1v1h-1zM12 50h2v1h-2zM18 50h1v1h-1zM25 50h1v1h-1zM29 50h1v1h-1zM31 50h1v1h-1zM35 50h1v1h-1zM48 50h1v1h-1zM51 50h1v1h-1zM53 50h4v1h-4zM42 51h1v1h-1zM49 51h2v1h-2zM56 51h2v1h-2zM60 51h1v1h-1zM14 52h1v1h-1zM19 52h1v1h-1zM25 52h1v1h-1zM27 52h2v1h-2zM30 52h1v1h-1zM34 52h3v1h-3zM38 52h1v1h-1zM45 52h1v1h-1zM48 52h1v1h-1zM57 52h1v1h-1zM60 52h1v1h-1zM4 53h1v1h-1zM10 53h1v1h-1zM14 53h1v1h-1zM25 53h1v1h-1zM27 53h2v1h-2zM30 53h1v1h-1zM33 53h2v1h-2zM42 53h1v1h-1zM50 53h1v1h-1zM57 53h1v1h-1zM4 54h1v1h-1zM8 54h1v1h-1zM10 54h1v1h-1zM12 54h1v1h-1zM27 54h2v1h-2zM30 54h5v1h-5zM50 54h1v1h-1zM57 54h1v1h-1zM8 55h1v1h-1zM10 55h1v1h-1zM12 55h3v1h-3zM23 55h1v1h-1zM25 55h4v1h-4zM33 55h1v1h-1zM36 55h1v1h-1zM38 55h1v1h-1zM44 55h5v1h-5zM50 55h1v1h-1zM57 55h1v1h-1zM-1 56h3v1h-3zM8 56h1v1h-1zM12 56h2v1h-2zM23 56h1v1h-1zM25 56h2v1h-2zM30 56h1v1h-1zM33 56h1v1h-1zM36 56h1v1h-1zM38 56h1v1h-1zM43 56h6v1h-6zM50 56h2v1h-2zM-1 57h3v1h-3zM8 57h2v1h-2zM12 57h1v1h-1zM15 57h2v1h-2zM43 57h2v1h-2zM51 57h5v1h-5zM59 57h1v1h-1zM61 57h1v1h-1zM61 58h1v1h-1zM57 59h1v1h-1zM62 59h2v1h-2zM-1 60h3v1h-3zM38 60h1v1h-1zM51 60h2v1h-2zM61 60h1v1h-1zM-1 61h3v1h-3zM28 61h2v1h-2zM33 61h1v1h-1zM38 61h1v1h-1zM43 61h1v1h-1zM57 61h2v1h-2zM60 61h1v1h-1zM-1 62h3v1h-3zM59 62h1v1h-1zM-1 63h3v1h-3zM59 63h1v1h-1z"/>
<path fill="#ff9c0f" d="M13 -1h2v1h-2zM16 -1h2v1h-2zM19 -1h1v1h-1zM25 -1h1v1h-1zM29 -1h1v1h-1zM33 -1h1v1h-1zM35 -1h1v1h-1zM37 -1h2v1h-2zM48 -1h1v1h-1zM50 -1h1v1h-1zM55 -1h1v1h-1zM13 0h2v1h-2zM16 0h2v1h-2zM19 0h1v1h-1zM25 0h1v1h-1zM29 0h1v1h-1zM33 0h1v1h-1zM35 0h1v1h-1zM37 0h2v1h-2zM48 0h1v1h-1zM50 0h1v1h-1zM55 0h1v1h-1zM13 1h1v1h-1zM17 1h1v1h-1zM25 1h1v1h-1zM28 1h2v1h-2zM33 1h6v1h-6zM48 1h1v1h-1zM50 1h1v1h-1zM55 1h1v1h-1zM10 2h1v1h-1zM12 4h1v1h-1zM25 4h1v1h-1zM33 4h2v1h-2zM44 4h1v1h-1zM51 4h2v1h-2zM7 5h2v1h-2zM19 5h2v1h-2zM23 5h1v1h-1zM5 7h1v1h-1zM8 7h2v1h-2zM5 8h1v1h-1zM7 8h1v1h-1zM9 8h1v1h-1zM13 8h1v1h-1zM17 8h3v1h-3zM26 8h3v1h-3zM34 8h1v1h-1zM36 8h3v1h-3zM43 8h1v1h-1zM50 8h4v1h-4zM7 9h2v1h-2zM2 10h1v1h-1zM11 10h1v1h-1zM13 10h1v1h-1zM17 10h1v1h-1zM45 10h1v1h-1zM51 10h1v1h-1zM10 11h1v1h-1zM4 12h1v1h-1zM27 12h3v1h-3zM33 12h2v1h-2zM44 12h1v1h-1zM46 12h1v1h-1zM52 12h2v1h-2zM-1 13h3v1h-3zM8 13h1v1h-1zM10 13h1v1h-1zM18 13h1v1h-1zM33 13h1v1h-1zM35 13h2v1h-2zM48 13h1v1h-1zM-1 14h2v1h-2zM18 14h1v1h-1zM26 14h1v1h-1zM28 14h2v1h-2zM37 14h1v1h-1zM48 14h1v1h-1zM54 14h1v1h-1zM30 15h3v1h-3zM47 15h1v1h-1zM56 15h1v1h-1zM-1 16h2v1h-2zM35 16h1v1h-1zM37 16h1v1h-1zM44 16h1v1h-1zM46 16h1v1h-1zM56 16h1v1h-1zM-1 17h3v1h-3zM8 17h1v1h-1zM10 17h1v1h-1zM33 17h2v1h-2zM43 17h1v1h-1zM45 17h1v1h-1zM51 17h1v1h-1zM8 18h1v1h-1zM13 18h2v1h-2zM26 18h1v1h-1zM28 18h1v1h-1zM45 18h1v1h-1zM51 18h1v1h-1zM-1 19h2v1h-2zM5 19h1v1h-1zM8 19h1v1h-1zM21 19h1v1h-1zM36 19h2v1h-2zM43 19h4v1h-4zM50 19h2v1h-2zM53 19h2v1h-2zM5 20h1v1h-1zM22 20h1v1h-1zM19 21h1v1h-1zM20 22h1v1h-1zM5 23h1v1h-1zM28 23h1v1h-1zM36 23h1v1h-1zM38 23h1v1h-1zM45 23h1v1h-1zM50 23h5v1h-5zM-1 25h3v1h-3zM4 25h1v1h-1zM27 25h1v1h-1zM36 25h1v1h-1zM38 25h1v1h-1zM46 25h2v1h-2zM51 25h1v1h-1zM54 25h1v1h-1zM8 26h1v1h-1zM14 26h1v1h-1zM18 26h1v1h-1zM28 26h1v1h-1zM32 26h3v1h-3zM36 26h1v1h-1zM38 26h1v1h-1zM52 26h1v1h-1zM8 27h1v1h-1zM12 27h1v1h-1zM25 27h1v1h-1zM28 27h1v1h-1zM33 27h2v1h-2zM46 27h1v1h-1zM51 27h1v1h-1zM1 28h1v1h-1zM8 28h1v1h-1zM12 28h1v1h-1zM14 28h1v1h-1zM18 28h1v1h-1zM23 28h1v1h-1zM26 28h2v1h-2zM34 28h1v1h-1zM43 28h4v1h-4zM50 28h2v1h-2zM-1 29h3v1h-3zM12 29h1v1h-1zM14 29h1v1h-1zM30 29h1v1h-1zM34 29h2v1h-2zM37 29h2v1h-2zM45 29h1v1h-1zM47 29h1v1h-1zM56 29h1v1h-1zM15 30h1v1h-1zM29 30h1v1h-1zM46 30h1v1h-1zM49 30h3v1h-3zM55 30h1v1h-1zM15 31h1v1h-1zM37 31h1v1h-1zM53 31h1v1h-1zM15 32h1v1h-1zM26 32h1v1h-1zM35 32h1v1h-1zM45 32h1v1h-1zM51 32h2v1h-2zM55 32h2v1h-2zM-1 33h3v1h-3zM4 33h1v1h-1zM12 33h2v1h-2zM17 33h1v1h-1zM26 33h2v1h-2zM44 33h1v1h-1zM47 33h1v1h-1zM52 33h1v1h-1zM1 34h1v1h-1zM4 34h1v1h-1zM8 34h1v1h-1zM12 34h1v1h-1zM17 34h1v1h-1zM26 34h4v1h-4zM36 34h1v1h-1zM45 34h1v1h-1zM47 34h1v1h-1zM-1 35h3v1h-3zM13 35h1v1h-1zM16 35h1v1h-1zM29 35h1v1h-1zM32 35h1v1h-1zM36 35h1v1h-1zM46 35h1v1h-1zM51 35h1v1h-1zM56 35h1v1h-1zM1 36h1v1h-1zM8 36h1v1h-1zM13 36h1v1h-1zM19 36h1v1h-1zM23 36h1v1h-1zM25 36h2v1h-2zM34 36h2v1h-2zM40 36h1v1h-1zM43 36h1v1h-1zM45 36h2v1h-2zM53 36h2v1h-2zM-1 37h3v1h-3zM8 37h1v1h-1zM14 37h1v1h-1zM16 37h1v1h-1zM19 37h1v1h-1zM29 37h1v1h-1zM31 37h1v1h-1zM43 37h1v1h-1zM45 37h1v1h-1zM47 37h2v1h-2zM55 37h2v1h-2zM-1 38h3v1h-3zM8 38h1v1h-1zM23 38h1v1h-1zM25 38h2v1h-2zM29 38h1v1h-1zM43 38h3v1h-3zM53 38h2v1h-2zM40 39h1v1h-1zM36 40h1v1h-1zM39 40h1v1h-1zM42 41h1v1h-1zM57 41h1v1h-1zM41 42h1v1h-1zM58 42h1v1h-1zM8 43h1v1h-1zM17 43h1v1h-1zM19 43h1v1h-1zM28 43h1v1h-1zM36 43h3v1h-3zM48 43h1v1h-1zM50 43h1v1h-1zM52 43h1v1h-1zM55 43h1v1h-1zM4 44h1v1h-1zM12 44h1v1h-1zM16 44h1v1h-1zM19 44h1v1h-1zM28 44h1v1h-1zM33 44h1v1h-1zM38 44h1v1h-1zM48 44h1v1h-1zM50 44h1v1h-1zM52 44h1v1h-1zM10 45h1v1h-1zM17 45h3v1h-3zM23 45h1v1h-1zM28 45h2v1h-2zM32 45h1v1h-1zM34 45h1v1h-1zM36 45h3v1h-3zM50 45h1v1h-1zM53 45h1v1h-1zM12 46h1v1h-1zM16 46h1v1h-1zM19 46h1v1h-1zM25 46h1v1h-1zM27 46h2v1h-2zM30 46h1v1h-1zM35 46h2v1h-2zM52 46h1v1h-1zM15 47h1v1h-1zM25 47h1v1h-1zM29 47h1v1h-1zM33 47h2v1h-2zM37 47h1v1h-1zM48 47h1v1h-1zM50 47h1v1h-1zM-1 48h3v1h-3zM13 48h2v1h-2zM37 48h1v1h-1zM43 48h2v1h-2zM47 48h1v1h-1zM51 48h1v1h-1zM53 48h2v1h-2zM30 49h1v1h-1zM-1 50h3v1h-3zM8 50h1v1h-1zM19 50h1v1h-1zM23 50h1v1h-1zM28 50h1v1h-1zM30 50h1v1h-1zM43 50h3v1h-3zM47 50h1v1h-1zM4 51h1v1h-1zM8 51h1v1h-1zM10 51h1v1h-1zM17 51h3v1h-3zM23 51h1v1h-1zM25 51h1v1h-1zM27 51h2v1h-2zM30 51h1v1h-1zM32 51h1v1h-1zM35 51h1v1h-1zM48 51h1v1h-1zM55 51h1v1h-1zM4 52h1v1h-1zM8 52h1v1h-1zM12 52h1v1h-1zM23 52h1v1h-1zM26 52h1v1h-1zM32 52h2v1h-2zM43 52h2v1h-2zM46 52h1v1h-1zM56 52h1v1h-1zM8 53h1v1h-1zM12 53h1v1h-1zM19 53h1v1h-1zM23 53h1v1h-1zM31 53h1v1h-1zM36 53h1v1h-1zM38 53h1v1h-1zM45 53h1v1h-1zM48 53h1v1h-1zM14 54h1v1h-1zM19 54h1v1h-1zM23 54h1v1h-1zM25 54h1v1h-1zM36 54h1v1h-1zM38 54h1v1h-1zM48 54h1v1h-1zM-1 55h3v1h-3zM30 55h1v1h-1zM32 55h1v1h-1zM37 55h1v1h-1zM43 55h1v1h-1zM51 55h1v1h-1zM15 56h2v1h-2zM29 56h1v1h-1zM32 56h1v1h-1zM35 56h1v1h-1zM37 56h1v1h-1zM52 56h1v1h-1zM41 57h1v1h-1zM58 57h1v1h-1zM42 58h1v1h-1zM57 58h1v1h-1zM61 59h1v1h-1zM59 61h1v1h-1zM62 61h2v1h-2zM61 62h1v1h-1zM61 63h1v1h-1z"/>
<path fill="#fa580a" d="M4 -1h1v1h-1zM18 -1h1v1h-1zM28 -1h1v1h-1zM34 -1h1v1h-1zM52 -1h3v1h-3zM4 0h1v1h-1zM18 0h1v1h-1zM28 0h1v1h-1zM34 0h1v1h-1zM52 0h3v1h-3zM4 1h1v1h-1zM12 1h1v1h-1zM18 1h1v1h-1zM53 1h2v1h-2zM3 2h1v1h-1zM2 3h1v1h-1zM-1 4h3v1h-3zM5 4h2v1h-2zM18 4h2v1h-2zM23 4h1v1h-1zM43 4h1v1h-1zM4 5h1v1h-1zM6 5h1v1h-1zM4 6h2v1h-2zM21 6h1v1h-1zM25 8h1v1h-1zM23 10h1v1h-1zM25 10h1v1h-1zM1 12h1v1h-1zM26 13h2v1h-2zM29 13h1v1h-1zM37 13h1v1h-1zM47 13h1v1h-1zM52 13h1v1h-1zM44 14h1v1h-1zM46 14h1v1h-1zM37 15h1v1h-1zM30 16h2v1h-2zM51 16h1v1h-1zM54 16h1v1h-1zM19 17h1v1h-1zM23 17h1v1h-1zM25 17h1v1h-1zM-1 18h3v1h-3zM4 18h1v1h-1zM19 18h1v1h-1zM33 18h2v1h-2zM43 18h1v1h-1zM4 19h1v1h-1zM17 19h2v1h-2zM23 19h2v1h-2zM21 20h1v1h-1zM6 21h1v1h-1zM20 21h1v1h-1zM22 21h1v1h-1zM21 22h1v1h-1zM4 23h1v1h-1zM10 23h1v1h-1zM17 23h1v1h-1zM19 23h1v1h-1zM19 24h1v1h-1zM8 25h1v1h-1zM10 25h1v1h-1zM17 25h1v1h-1zM43 25h1v1h-1zM45 25h1v1h-1zM13 26h1v1h-1zM43 26h1v1h-1zM45 26h2v1h-2zM48 26h1v1h-1zM51 26h1v1h-1zM13 27h1v1h-1zM37 27h1v1h-1zM45 27h1v1h-1zM48 27h1v1h-1zM-1 28h2v1h-2zM13 29h1v1h-1zM43 29h1v1h-1zM51 29h1v1h-1zM55 29h1v1h-1zM16 30h1v1h-1zM16 31h1v1h-1zM44 31h1v1h-1zM46 31h1v1h-1zM51 31h2v1h-2zM55 31h1v1h-1zM37 32h1v1h-1zM44 32h1v1h-1zM18 33h1v1h-1zM45 33h2v1h-2zM50 33h2v1h-2zM-1 34h2v1h-2zM18 34h1v1h-1zM46 34h1v1h-1zM51 34h1v1h-1zM39 35h1v1h-1zM44 36h1v1h-1zM49 36h3v1h-3zM13 37h1v1h-1zM15 37h1v1h-1zM27 37h1v1h-1zM32 37h1v1h-1zM38 37h1v1h-1zM44 37h1v1h-1zM50 37h3v1h-3zM37 38h1v1h-1zM46 38h1v1h-1zM35 39h1v1h-1zM58 41h1v1h-1zM57 42h1v1h-1zM4 43h1v1h-1zM18 43h1v1h-1zM25 43h2v1h-2zM29 43h1v1h-1zM45 43h1v1h-1zM53 43h1v1h-1zM14 44h1v1h-1zM31 44h2v1h-2zM36 44h2v1h-2zM53 44h1v1h-1zM25 45h3v1h-3zM33 45h1v1h-1zM43 45h1v1h-1zM14 46h1v1h-1zM26 46h1v1h-1zM31 46h1v1h-1zM33 46h2v1h-2zM38 46h1v1h-1zM50 46h1v1h-1zM13 47h1v1h-1zM52 47h3v1h-3zM26 48h2v1h-2zM36 49h1v1h-1zM33 50h1v1h-1zM36 50h2v1h-2zM46 50h1v1h-1zM16 51h1v1h-1zM26 51h1v1h-1zM29 51h1v1h-1zM31 51h1v1h-1zM33 51h2v1h-2zM36 51h2v1h-2zM-1 52h2v1h-2zM13 52h1v1h-1zM31 52h1v1h-1zM37 52h1v1h-1zM47 52h1v1h-1zM-1 53h3v1h-3zM43 53h2v1h-2zM47 53h1v1h-1zM-1 54h3v1h-3zM16 54h1v1h-1zM47 54h1v1h-1zM29 55h1v1h-1zM31 55h1v1h-1zM42 57h1v1h-1zM41 58h1v1h-1zM62 60h2v1h-2zM60 62h1v1h-1zM60 63h1v1h-1z"/>
<path fill="#eb190e" d="M12 -1h1v1h-1zM15 -1h1v1h-1zM44 -1h3v1h-3zM51 -1h1v1h-1zM12 0h1v1h-1zM15 0h1v1h-1zM44 0h3v1h-3zM51 0h1v1h-1zM45 1h2v1h-2zM51 1h2v1h-2zM8 4h1v1h-1zM4 8h1v1h-1zM-1 12h2v1h-2zM43 12h1v1h-1zM47 12h1v1h-1zM15 13h1v1h-1zM43 13h1v1h-1zM27 14h1v1h-1zM43 14h1v1h-1zM-1 15h2v1h-2zM13 15h1v1h-1zM43 15h1v1h-1zM45 15h2v1h-2zM51 15h1v1h-1zM52 16h2v1h-2zM55 16h1v1h-1zM18 17h1v1h-1zM17 18h1v1h-1zM25 23h1v1h-1zM23 25h1v1h-1zM53 26h2v1h-2zM14 27h1v1h-1zM36 28h1v1h-1zM52 29h1v1h-1zM54 29h1v1h-1zM32 31h1v1h-1zM56 31h1v1h-1zM31 32h1v1h-1zM53 32h1v1h-1zM53 35h2v1h-2zM28 36h1v1h-1zM37 36h1v1h-1zM36 37h1v1h-1zM46 37h1v1h-1zM50 38h2v1h-2zM12 43h4v1h-4zM46 43h1v1h-1zM-1 44h2v1h-2zM47 44h1v1h-1zM-1 45h3v1h-3zM15 45h1v1h-1zM47 45h1v1h-1zM51 45h1v1h-1zM54 45h1v1h-1zM-1 46h3v1h-3zM15 46h1v1h-1zM37 46h1v1h-1zM43 46h1v1h-1zM47 46h2v1h-2zM53 46h2v1h-2zM12 47h1v1h-1zM44 47h3v1h-3zM46 48h1v1h-1zM38 50h1v1h-1zM-1 51h3v1h-3zM15 51h1v1h-1zM38 51h1v1h-1zM45 51h1v1h-1zM53 51h2v1h-2zM1 52h1v1h-1zM16 52h1v1h-1zM29 52h1v1h-1zM54 52h1v1h-1zM16 53h1v1h-1zM26 53h1v1h-1zM32 53h1v1h-1zM35 53h1v1h-1zM46 53h1v1h-1zM51 53h1v1h-1zM26 54h1v1h-1zM29 54h1v1h-1zM35 54h1v1h-1zM45 54h2v1h-2zM51 54h2v1h-2zM55 54h2v1h-2zM16 55h1v1h-1zM54 55h1v1h-1zM56 55h1v1h-1zM31 56h1v1h-1zM54 56h2v1h-2zM60 59h1v1h-1zM59 60h1v1h-1z"/>
<path fill="#c80505" d="M43 -1h1v1h-1zM47 -1h1v1h-1zM43 0h1v1h-1zM47 0h1v1h-1zM43 1h2v1h-2zM47 1h1v1h-1zM17 4h1v1h-1zM19 6h1v1h-1zM10 8h1v1h-1zM23 8h1v1h-1zM8 10h1v1h-1zM13 12h1v1h-1zM12 13h1v1h-1zM14 13h1v1h-1zM44 13h3v1h-3zM51 13h1v1h-1zM53 13h1v1h-1zM13 14h1v1h-1zM45 14h1v1h-1zM47 14h1v1h-1zM51 14h1v1h-1zM29 15h1v1h-1zM44 15h1v1h-1zM52 15h4v1h-4zM29 16h1v1h-1zM4 17h1v1h-1zM6 19h1v1h-1zM8 23h1v1h-1zM24 23h1v1h-1zM23 24h1v1h-1zM28 25h1v1h-1zM27 26h1v1h-1zM35 26h1v1h-1zM26 27h1v1h-1zM25 28h1v1h-1zM38 28h1v1h-1zM15 29h2v1h-2zM32 29h1v1h-1zM53 29h1v1h-1zM31 30h2v1h-2zM30 31h1v1h-1zM29 32h2v1h-2zM34 32h1v1h-1zM46 32h1v1h-1zM50 32h1v1h-1zM32 34h1v1h-1zM50 34h1v1h-1zM26 35h1v1h-1zM37 35h1v1h-1zM38 36h1v1h-1zM35 37h1v1h-1zM53 37h2v1h-2zM28 38h1v1h-1zM36 38h1v1h-1zM-1 43h3v1h-3zM51 43h1v1h-1zM54 43h1v1h-1zM1 44h1v1h-1zM13 44h1v1h-1zM15 44h1v1h-1zM45 44h1v1h-1zM51 44h1v1h-1zM54 44h1v1h-1zM13 45h2v1h-2zM44 45h1v1h-1zM46 45h1v1h-1zM13 46h1v1h-1zM32 46h1v1h-1zM45 46h1v1h-1zM51 46h1v1h-1zM-1 47h3v1h-3zM14 47h1v1h-1zM51 47h1v1h-1zM50 49h1v1h-1zM32 50h1v1h-1zM34 50h1v1h-1zM49 50h1v1h-1zM13 51h2v1h-2zM43 51h2v1h-2zM46 51h2v1h-2zM52 51h1v1h-1zM15 52h1v1h-1zM51 52h1v1h-1zM53 52h1v1h-1zM55 52h1v1h-1zM13 53h1v1h-1zM15 53h1v1h-1zM29 53h1v1h-1zM37 53h1v1h-1zM52 53h1v1h-1zM54 53h3v1h-3zM15 54h1v1h-1zM37 54h1v1h-1zM43 54h2v1h-2zM53 54h1v1h-1zM15 55h1v1h-1zM52 55h2v1h-2zM53 56h1v1h-1z"/>
<path fill="#920000" d="M1 -1h1v1h-1zM1 0h1v1h-1zM-1 1h2v1h-2zM15 1h1v1h-1zM14 12h1v1h-1zM51 12h1v1h-1zM54 13h1v1h-1zM12 14h1v1h-1zM1 15h1v1h-1zM16 15h1v1h-1zM15 16h1v1h-1zM37 26h1v1h-1zM31 29h1v1h-1zM44 29h1v1h-1zM46 29h1v1h-1zM29 31h1v1h-1zM34 33h1v1h-1zM33 34h1v1h-1zM26 37h1v1h-1zM44 43h1v1h-1zM47 43h1v1h-1zM29 44h1v1h-1zM43 44h1v1h-1zM46 44h1v1h-1zM48 45h1v1h-1zM29 46h1v1h-1zM44 46h1v1h-1zM43 47h1v1h-1zM45 48h1v1h-1zM12 51h1v1h-1zM13 54h1v1h-1z"/>
</g></g></g>
<rect x="567.80" y="40.80" width="379.30" height="404.70" fill="none" stroke="#1a1a1a" stroke-opacity="0.85" stroke-width="1.1"/>
<path d="M625.00 445.50v-3M625.00 40.80v3M567.80 101.83h3M947.10 101.83h-3M685.20 445.50v-3M685.20 40.80v3M567.80 166.06h3M947.10 166.06h-3M745.41 445.50v-3M745.41 40.80v3M567.80 230.30h3M947.10 230.30h-3M805.62 445.50v-3M805.62 40.80v3M567.80 294.54h3M947.10 294.54h-3M865.82 445.50v-3M865.82 40.80v3M567.80 358.78h3M947.10 358.78h-3M926.03 445.50v-3M926.03 40.80v3M567.80 423.02h3M947.10 423.02h-3" stroke="#1a1a1a" stroke-width="1" fill="none"/>
<text x="615.47" y="464.40" font-size="16.30" textLength="14.85" lengthAdjust="spacingAndGlyphs" filter="url(#tb)">10</text>
<text x="548.95" y="106.53" font-size="16.30" textLength="14.85" lengthAdjust="spacingAndGlyphs" filter="url(#tb)">10</text>
<text x="675.68" y="464.40" font-size="16.30" textLength="14.85" lengthAdjust="spacingAndGlyphs" filter="url(#tb)">20</text>
<text x="548.95" y="170.76" font-size="16.30" textLength="14.85" lengthAdjust="spacingAndGlyphs" filter="url(#tb)">20</text>
<text x="735.88" y="464.40" font-size="16.30" textLength="14.85" lengthAdjust="spacingAndGlyphs" filter="url(#tb)">30</text>
<text x="548.95" y="235.00" font-size="16.30" textLength="14.85" lengthAdjust="spacingAndGlyphs" filter="url(#tb)">30</text>
<text x="796.09" y="464.40" font-size="16.30" textLength="14.85" lengthAdjust="spacingAndGlyphs" filter="url(#tb)">40</text>
<text x="548.95" y="299.24" font-size="16.30" textLength="14.85" lengthAdjust="spacingAndGlyphs" filter="url(#tb)">40</text>
<text x="856.30" y="464.40" font-size="16.30" textLength="14.85" lengthAdjust="spacingAndGlyphs" filter="url(#tb)">50</text>
<text x="548.95" y="363.48" font-size="16.30" textLength="14.85" lengthAdjust="spacingAndGlyphs" filter="url(#tb)">50</text>
<text x="916.50" y="464.40" font-size="16.30" textLength="14.85" lengthAdjust="spacingAndGlyphs" filter="url(#tb)">60</text>
<text x="548.95" y="427.72" font-size="16.30" textLength="14.85" lengthAdjust="spacingAndGlyphs" filter="url(#tb)">60</text>
<text x="655.60" y="28.80" font-size="16.30" textLength="200.70" lengthAdjust="spacingAndGlyphs" filter="url(#tb)">ASD without sleep disorder group</text>
<text x="643.10" y="484.30" font-size="16.30" textLength="224.10" lengthAdjust="spacingAndGlyphs" filter="url(#tb)">Average of FC: 0.20365, STD: 0.1022</text>
<rect x="967.30" y="40.80" width="28.70" height="406.50" fill="url(#jet)" stroke="#1a1a1a" stroke-opacity="0.85" stroke-width="1.1"/>
<text x="997.70" y="46.20" font-size="16.30" textLength="18.56" lengthAdjust="spacingAndGlyphs" filter="url(#tb)">0.5</text>
<text x="997.70" y="104.27" font-size="16.30" textLength="18.56" lengthAdjust="spacingAndGlyphs" filter="url(#tb)">0.4</text>
<text x="997.70" y="162.34" font-size="16.30" textLength="18.56" lengthAdjust="spacingAndGlyphs" filter="url(#tb)">0.3</text>
<text x="997.70" y="220.41" font-size="16.30" textLength="18.56" lengthAdjust="spacingAndGlyphs" filter="url(#tb)">0.2</text>
<text x="997.70" y="278.49" font-size="16.30" textLength="18.56" lengthAdjust="spacingAndGlyphs" filter="url(#tb)">0.1</text>
<text x="997.70" y="336.56" font-size="16.30" textLength="7.42" lengthAdjust="spacingAndGlyphs" filter="url(#tb)">0</text>
<text x="997.70" y="394.63" font-size="16.30" textLength="23.00" lengthAdjust="spacingAndGlyphs" filter="url(#tb)">-0.1</text>
<text x="997.70" y="452.70" font-size="16.30" textLength="23.00" lengthAdjust="spacingAndGlyphs" filter="url(#tb)">-0.2</text>
<path d="M967.30 98.87h3M996.00 98.87h-3M967.30 156.94h3M996.00 156.94h-3M967.30 215.01h3M996.00 215.01h-3M967.30 273.09h3M996.00 273.09h-3M967.30 331.16h3M996.00 331.16h-3M967.30 389.23h3M996.00 389.23h-3" stroke="#1a1a1a" stroke-width="1" fill="none"/>
<text x="751.30" y="564.00" font-size="40.00" textLength="48.30" lengthAdjust="spacingAndGlyphs" class="lab">(b)</text>
</g>
<g id="panel-c">
<clipPath id="clip-c"><rect x="1094.30" y="40.70" width="362.70" height="407.30"/></clipPath>
<g clip-path="url(#clip-c)"><g filter="url(#bl)">
<g transform="translate(1094.30 40.70) scale(5.75714 6.46508)">
<path fill="#0076e4" d="M53 2h1v1h-1zM20 3h1v1h-1zM3 20h1v1h-1zM2 53h1v1h-1z"/>
<path fill="#00a0e0" d="M-1 -1h2v1h-2zM-1 0h2v1h-2zM1 1h1v1h-1zM2 2h1v1h-1zM30 2h1v1h-1zM36 2h5v1h-5zM51 2h2v1h-2zM54 2h3v1h-3zM58 2h1v1h-1zM3 3h1v1h-1zM5 3h1v1h-1zM15 3h2v1h-2zM30 3h1v1h-1zM39 3h1v1h-1zM51 3h5v1h-5zM4 4h1v1h-1zM3 5h1v1h-1zM5 5h1v1h-1zM6 6h1v1h-1zM7 7h1v1h-1zM8 8h1v1h-1zM9 9h1v1h-1zM10 10h1v1h-1zM39 10h2v1h-2zM56 10h1v1h-1zM11 11h1v1h-1zM39 11h1v1h-1zM57 11h1v1h-1zM12 12h1v1h-1zM13 13h1v1h-1zM14 14h1v1h-1zM3 15h1v1h-1zM15 15h1v1h-1zM3 16h1v1h-1zM16 16h1v1h-1zM17 17h1v1h-1zM18 18h1v1h-1zM19 19h1v1h-1zM20 20h1v1h-1zM21 21h1v1h-1zM22 22h1v1h-1zM23 23h1v1h-1zM24 24h1v1h-1zM25 25h1v1h-1zM26 26h1v1h-1zM27 27h1v1h-1zM28 28h1v1h-1zM29 29h1v1h-1zM2 30h2v1h-2zM30 30h1v1h-1zM31 31h1v1h-1zM32 32h1v1h-1zM33 33h1v1h-1zM34 34h1v1h-1zM35 35h1v1h-1zM2 36h1v1h-1zM36 36h1v1h-1zM2 37h1v1h-1zM37 37h1v1h-1zM2 38h1v1h-1zM38 38h1v1h-1zM2 39h2v1h-2zM10 39h2v1h-2zM39 39h1v1h-1zM2 40h1v1h-1zM10 40h1v1h-1zM40 40h1v1h-1zM41 41h1v1h-1zM42 42h1v1h-1zM43 43h1v1h-1zM44 44h1v1h-1zM45 45h1v1h-1zM46 46h1v1h-1zM47 47h1v1h-1zM48 48h1v1h-1zM49 49h1v1h-1zM50 50h1v1h-1zM2 51h2v1h-2zM51 51h1v1h-1zM2 52h2v1h-2zM52 52h1v1h-1zM3 53h1v1h-1zM53 53h1v1h-1zM2 54h2v1h-2zM54 54h1v1h-1zM2 55h2v1h-2zM55 55h1v1h-1zM2 56h1v1h-1zM10 56h1v1h-1zM56 56h1v1h-1zM11 57h1v1h-1zM57 57h1v1h-1zM2 58h1v1h-1zM58 58h1v1h-1zM59 59h1v1h-1zM60 60h1v1h-1zM61 61h1v1h-1zM62 62h2v1h-2zM62 63h2v1h-2z"/>
<path fill="#04c2c6" d="M2 1h1v1h-1zM1 2h1v1h-1zM12 2h1v1h-1zM15 2h2v1h-2zM26 2h3v1h-3zM31 2h1v1h-1zM35 2h1v1h-1zM41 2h1v1h-1zM57 2h1v1h-1zM59 2h1v1h-1zM6 3h1v1h-1zM12 3h1v1h-1zM21 3h2v1h-2zM24 3h1v1h-1zM31 3h1v1h-1zM35 3h1v1h-1zM38 3h1v1h-1zM40 3h1v1h-1zM49 3h1v1h-1zM56 3h3v1h-3zM39 4h1v1h-1zM3 6h1v1h-1zM39 6h1v1h-1zM49 6h1v1h-1zM15 10h1v1h-1zM35 10h1v1h-1zM42 10h1v1h-1zM49 10h1v1h-1zM52 10h2v1h-2zM55 10h1v1h-1zM57 10h1v1h-1zM15 11h1v1h-1zM35 11h1v1h-1zM40 11h1v1h-1zM42 11h1v1h-1zM49 11h1v1h-1zM52 11h2v1h-2zM55 11h2v1h-2zM58 11h1v1h-1zM2 12h2v1h-2zM20 13h1v1h-1zM30 14h1v1h-1zM2 15h1v1h-1zM10 15h2v1h-2zM21 15h1v1h-1zM2 16h1v1h-1zM21 16h1v1h-1zM20 18h1v1h-1zM13 20h1v1h-1zM18 20h1v1h-1zM26 20h2v1h-2zM45 20h1v1h-1zM49 20h1v1h-1zM53 20h2v1h-2zM3 21h1v1h-1zM15 21h2v1h-2zM3 22h1v1h-1zM33 22h1v1h-1zM45 22h1v1h-1zM49 22h1v1h-1zM3 24h1v1h-1zM39 24h2v1h-2zM2 26h1v1h-1zM20 26h1v1h-1zM2 27h1v1h-1zM20 27h1v1h-1zM2 28h1v1h-1zM14 30h1v1h-1zM2 31h2v1h-2zM22 33h1v1h-1zM2 35h2v1h-2zM10 35h2v1h-2zM3 38h1v1h-1zM4 39h1v1h-1zM6 39h1v1h-1zM24 39h1v1h-1zM41 39h1v1h-1zM45 39h1v1h-1zM47 39h2v1h-2zM58 39h3v1h-3zM3 40h1v1h-1zM11 40h1v1h-1zM24 40h1v1h-1zM41 40h1v1h-1zM48 40h1v1h-1zM57 40h2v1h-2zM60 40h2v1h-2zM2 41h1v1h-1zM39 41h2v1h-2zM10 42h2v1h-2zM20 45h1v1h-1zM22 45h1v1h-1zM39 45h1v1h-1zM39 47h1v1h-1zM39 48h2v1h-2zM3 49h1v1h-1zM6 49h1v1h-1zM10 49h2v1h-2zM20 49h1v1h-1zM22 49h1v1h-1zM58 49h1v1h-1zM10 52h2v1h-2zM10 53h2v1h-2zM20 53h1v1h-1zM20 54h1v1h-1zM10 55h2v1h-2zM3 56h1v1h-1zM11 56h1v1h-1zM2 57h2v1h-2zM10 57h1v1h-1zM40 57h1v1h-1zM3 58h1v1h-1zM11 58h1v1h-1zM39 58h2v1h-2zM49 58h1v1h-1zM2 59h1v1h-1zM39 59h1v1h-1zM39 60h2v1h-2zM40 61h1v1h-1z"/>
<path fill="#24d09e" d="M2 -1h2v1h-2zM39 -1h1v1h-1zM2 0h2v1h-2zM39 0h1v1h-1zM3 1h1v1h-1zM11 1h1v1h-1zM39 1h1v1h-1zM-1 2h2v1h-2zM5 2h1v1h-1zM13 2h2v1h-2zM29 2h1v1h-1zM32 2h3v1h-3zM42 2h1v1h-1zM49 2h2v1h-2zM60 2h4v1h-4zM-1 3h3v1h-3zM13 3h1v1h-1zM26 3h2v1h-2zM29 3h1v1h-1zM36 3h2v1h-2zM41 3h1v1h-1zM43 3h2v1h-2zM59 3h2v1h-2zM62 3h2v1h-2zM2 5h1v1h-1zM39 5h1v1h-1zM55 5h2v1h-2zM11 6h1v1h-1zM40 6h1v1h-1zM11 7h1v1h-1zM57 7h1v1h-1zM14 10h1v1h-1zM16 10h1v1h-1zM19 10h2v1h-2zM30 10h2v1h-2zM58 10h2v1h-2zM1 11h1v1h-1zM6 11h2v1h-2zM13 11h2v1h-2zM16 11h1v1h-1zM19 11h3v1h-3zM30 11h2v1h-2zM54 11h1v1h-1zM59 11h5v1h-5zM20 12h1v1h-1zM2 13h2v1h-2zM11 13h1v1h-1zM2 14h1v1h-1zM10 14h2v1h-2zM20 14h1v1h-1zM10 16h2v1h-2zM22 17h1v1h-1zM39 17h2v1h-2zM22 18h1v1h-1zM39 18h3v1h-3zM49 18h1v1h-1zM57 18h2v1h-2zM10 19h2v1h-2zM40 19h1v1h-1zM57 19h2v1h-2zM10 20h3v1h-3zM14 20h1v1h-1zM25 20h1v1h-1zM28 20h1v1h-1zM31 20h5v1h-5zM38 20h2v1h-2zM41 20h1v1h-1zM43 20h2v1h-2zM46 20h1v1h-1zM48 20h1v1h-1zM51 20h1v1h-1zM55 20h4v1h-4zM11 21h1v1h-1zM26 21h1v1h-1zM41 21h1v1h-1zM57 21h2v1h-2zM17 22h2v1h-2zM26 22h2v1h-2zM31 22h1v1h-1zM34 22h3v1h-3zM38 22h4v1h-4zM44 22h1v1h-1zM51 22h4v1h-4zM57 22h3v1h-3zM38 24h1v1h-1zM20 25h1v1h-1zM39 25h1v1h-1zM56 25h1v1h-1zM3 26h1v1h-1zM21 26h2v1h-2zM58 26h1v1h-1zM3 27h1v1h-1zM22 27h1v1h-1zM39 27h1v1h-1zM58 27h1v1h-1zM20 28h1v1h-1zM58 28h1v1h-1zM2 29h2v1h-2zM10 30h2v1h-2zM41 30h1v1h-1zM58 30h1v1h-1zM61 30h1v1h-1zM10 31h2v1h-2zM20 31h1v1h-1zM22 31h1v1h-1zM58 31h1v1h-1zM2 32h1v1h-1zM20 32h1v1h-1zM58 32h1v1h-1zM2 33h1v1h-1zM20 33h1v1h-1zM58 33h1v1h-1zM2 34h1v1h-1zM20 34h1v1h-1zM22 34h1v1h-1zM20 35h1v1h-1zM22 35h1v1h-1zM3 36h1v1h-1zM22 36h1v1h-1zM58 36h1v1h-1zM3 37h1v1h-1zM58 37h1v1h-1zM20 38h1v1h-1zM22 38h1v1h-1zM24 38h1v1h-1zM58 38h1v1h-1zM-1 39h3v1h-3zM5 39h1v1h-1zM17 39h2v1h-2zM20 39h1v1h-1zM22 39h1v1h-1zM25 39h1v1h-1zM27 39h1v1h-1zM42 39h3v1h-3zM46 39h1v1h-1zM51 39h1v1h-1zM57 39h1v1h-1zM61 39h3v1h-3zM6 40h1v1h-1zM17 40h3v1h-3zM22 40h1v1h-1zM42 40h1v1h-1zM45 40h3v1h-3zM59 40h1v1h-1zM62 40h2v1h-2zM3 41h1v1h-1zM18 41h1v1h-1zM20 41h3v1h-3zM30 41h1v1h-1zM49 41h1v1h-1zM51 41h1v1h-1zM53 41h1v1h-1zM2 42h1v1h-1zM39 42h2v1h-2zM49 42h1v1h-1zM3 43h1v1h-1zM20 43h1v1h-1zM39 43h1v1h-1zM3 44h1v1h-1zM20 44h1v1h-1zM22 44h1v1h-1zM39 44h1v1h-1zM40 45h1v1h-1zM20 46h1v1h-1zM39 46h2v1h-2zM40 47h1v1h-1zM20 48h1v1h-1zM2 49h1v1h-1zM18 49h1v1h-1zM41 49h2v1h-2zM57 49h1v1h-1zM59 49h2v1h-2zM2 50h1v1h-1zM58 50h1v1h-1zM20 51h1v1h-1zM22 51h1v1h-1zM39 51h1v1h-1zM41 51h1v1h-1zM58 51h1v1h-1zM22 52h1v1h-1zM58 52h1v1h-1zM22 53h1v1h-1zM41 53h1v1h-1zM58 53h1v1h-1zM11 54h1v1h-1zM22 54h1v1h-1zM5 55h1v1h-1zM20 55h1v1h-1zM5 56h1v1h-1zM20 56h1v1h-1zM25 56h1v1h-1zM7 57h1v1h-1zM18 57h5v1h-5zM39 57h1v1h-1zM49 57h1v1h-1zM10 58h1v1h-1zM18 58h5v1h-5zM26 58h3v1h-3zM30 58h4v1h-4zM36 58h3v1h-3zM50 58h4v1h-4zM3 59h1v1h-1zM10 59h2v1h-2zM22 59h1v1h-1zM40 59h1v1h-1zM49 59h1v1h-1zM2 60h2v1h-2zM11 60h1v1h-1zM49 60h1v1h-1zM2 61h1v1h-1zM11 61h1v1h-1zM30 61h1v1h-1zM39 61h1v1h-1zM2 62h2v1h-2zM11 62h1v1h-1zM39 62h2v1h-2zM2 63h2v1h-2zM11 63h1v1h-1zM39 63h2v1h-2z"/>
<path fill="#80e058" d="M10 -1h2v1h-2zM20 -1h1v1h-1zM49 -1h1v1h-1zM10 0h2v1h-2zM20 0h1v1h-1zM49 0h1v1h-1zM10 1h1v1h-1zM20 1h1v1h-1zM49 1h1v1h-1zM6 2h1v1h-1zM20 2h3v1h-3zM43 2h3v1h-3zM4 3h1v1h-1zM7 3h2v1h-2zM14 3h1v1h-1zM28 3h1v1h-1zM42 3h1v1h-1zM61 3h1v1h-1zM3 4h1v1h-1zM56 4h2v1h-2zM11 5h1v1h-1zM44 5h2v1h-2zM48 5h1v1h-1zM53 5h1v1h-1zM57 5h2v1h-2zM2 6h1v1h-1zM56 6h1v1h-1zM3 7h1v1h-1zM13 7h2v1h-2zM39 7h2v1h-2zM49 7h1v1h-1zM56 7h1v1h-1zM58 7h1v1h-1zM3 8h1v1h-1zM-1 10h3v1h-3zM13 10h1v1h-1zM21 10h1v1h-1zM32 10h1v1h-1zM47 10h1v1h-1zM54 10h1v1h-1zM60 10h4v1h-4zM-1 11h2v1h-2zM5 11h1v1h-1zM12 11h1v1h-1zM17 11h2v1h-2zM22 11h1v1h-1zM29 11h1v1h-1zM32 11h1v1h-1zM36 11h1v1h-1zM38 11h1v1h-1zM43 11h1v1h-1zM46 11h3v1h-3zM50 11h2v1h-2zM11 12h1v1h-1zM39 12h1v1h-1zM7 13h1v1h-1zM10 13h1v1h-1zM39 13h1v1h-1zM3 14h1v1h-1zM7 14h1v1h-1zM39 14h1v1h-1zM40 15h1v1h-1zM58 15h1v1h-1zM27 16h1v1h-1zM40 16h1v1h-1zM58 16h1v1h-1zM11 17h1v1h-1zM27 17h1v1h-1zM41 17h1v1h-1zM53 17h1v1h-1zM11 18h1v1h-1zM53 18h1v1h-1zM55 18h2v1h-2zM59 18h1v1h-1zM39 19h1v1h-1zM41 19h1v1h-1zM59 19h1v1h-1zM-1 20h4v1h-4zM29 20h1v1h-1zM36 20h2v1h-2zM40 20h1v1h-1zM47 20h1v1h-1zM50 20h1v1h-1zM52 20h1v1h-1zM59 20h1v1h-1zM2 21h1v1h-1zM10 21h1v1h-1zM25 21h1v1h-1zM27 21h1v1h-1zM39 21h2v1h-2zM59 21h1v1h-1zM2 22h1v1h-1zM11 22h1v1h-1zM25 22h1v1h-1zM28 22h1v1h-1zM30 22h1v1h-1zM32 22h1v1h-1zM37 22h1v1h-1zM42 22h2v1h-2zM46 22h1v1h-1zM55 22h2v1h-2zM60 22h1v1h-1zM39 23h2v1h-2zM41 24h1v1h-1zM56 24h1v1h-1zM21 25h2v1h-2zM58 25h1v1h-1zM61 26h1v1h-1zM16 27h2v1h-2zM21 27h1v1h-1zM3 28h1v1h-1zM22 28h1v1h-1zM40 28h1v1h-1zM42 28h1v1h-1zM11 29h1v1h-1zM20 29h1v1h-1zM40 29h1v1h-1zM58 29h1v1h-1zM22 30h1v1h-1zM57 30h1v1h-1zM62 30h2v1h-2zM10 32h2v1h-2zM22 32h1v1h-1zM58 34h1v1h-1zM58 35h1v1h-1zM11 36h1v1h-1zM20 36h1v1h-1zM41 36h1v1h-1zM20 37h1v1h-1zM22 37h1v1h-1zM41 37h1v1h-1zM11 38h1v1h-1zM41 38h1v1h-1zM7 39h1v1h-1zM12 39h3v1h-3zM19 39h1v1h-1zM21 39h1v1h-1zM23 39h1v1h-1zM7 40h1v1h-1zM15 40h2v1h-2zM20 40h2v1h-2zM23 40h1v1h-1zM28 40h2v1h-2zM43 40h2v1h-2zM17 41h1v1h-1zM19 41h1v1h-1zM24 41h1v1h-1zM36 41h3v1h-3zM55 41h2v1h-2zM3 42h1v1h-1zM22 42h1v1h-1zM28 42h1v1h-1zM2 43h1v1h-1zM11 43h1v1h-1zM22 43h1v1h-1zM40 43h1v1h-1zM2 44h1v1h-1zM5 44h1v1h-1zM40 44h1v1h-1zM2 45h1v1h-1zM5 45h1v1h-1zM11 46h1v1h-1zM22 46h1v1h-1zM10 47h2v1h-2zM20 47h1v1h-1zM5 48h1v1h-1zM11 48h1v1h-1zM49 48h1v1h-1zM-1 49h3v1h-3zM7 49h1v1h-1zM48 49h1v1h-1zM61 49h1v1h-1zM11 50h1v1h-1zM20 50h1v1h-1zM11 51h1v1h-1zM20 52h1v1h-1zM5 53h1v1h-1zM17 53h2v1h-2zM10 54h1v1h-1zM58 54h1v1h-1zM18 55h1v1h-1zM22 55h1v1h-1zM41 55h1v1h-1zM58 55h1v1h-1zM4 56h1v1h-1zM6 56h2v1h-2zM18 56h1v1h-1zM22 56h1v1h-1zM24 56h1v1h-1zM41 56h1v1h-1zM57 56h7v1h-7zM4 57h2v1h-2zM30 57h1v1h-1zM56 57h1v1h-1zM5 58h1v1h-1zM7 58h1v1h-1zM15 58h2v1h-2zM25 58h1v1h-1zM29 58h1v1h-1zM34 58h2v1h-2zM54 58h3v1h-3zM18 59h4v1h-4zM56 59h1v1h-1zM10 60h1v1h-1zM22 60h1v1h-1zM56 60h1v1h-1zM3 61h1v1h-1zM10 61h1v1h-1zM26 61h1v1h-1zM49 61h1v1h-1zM56 61h1v1h-1zM10 62h1v1h-1zM30 62h1v1h-1zM56 62h1v1h-1zM10 63h1v1h-1zM30 63h1v1h-1zM56 63h1v1h-1z"/>
<path fill="#dee620" d="M21 -1h2v1h-2zM30 -1h1v1h-1zM40 -1h1v1h-1zM21 0h2v1h-2zM30 0h1v1h-1zM40 0h1v1h-1zM21 1h2v1h-2zM30 1h1v1h-1zM40 1h1v1h-1zM4 2h1v1h-1zM7 2h2v1h-2zM11 2h1v1h-1zM19 2h1v1h-1zM23 2h3v1h-3zM46 2h2v1h-2zM9 3h1v1h-1zM11 3h1v1h-1zM19 3h1v1h-1zM23 3h1v1h-1zM25 3h1v1h-1zM32 3h3v1h-3zM45 3h3v1h-3zM50 3h1v1h-1zM2 4h1v1h-1zM10 4h2v1h-2zM30 4h1v1h-1zM40 4h1v1h-1zM49 4h1v1h-1zM52 4h2v1h-2zM55 4h1v1h-1zM58 4h1v1h-1zM10 5h1v1h-1zM14 5h1v1h-1zM16 5h1v1h-1zM30 5h2v1h-2zM40 5h1v1h-1zM43 5h1v1h-1zM46 5h1v1h-1zM49 5h1v1h-1zM52 5h1v1h-1zM54 5h1v1h-1zM59 5h1v1h-1zM10 6h1v1h-1zM14 6h1v1h-1zM17 6h1v1h-1zM30 6h3v1h-3zM38 6h1v1h-1zM41 6h1v1h-1zM48 6h1v1h-1zM50 6h1v1h-1zM52 6h4v1h-4zM57 6h2v1h-2zM2 7h1v1h-1zM10 7h1v1h-1zM12 7h1v1h-1zM30 7h3v1h-3zM35 7h1v1h-1zM38 7h1v1h-1zM41 7h1v1h-1zM43 7h2v1h-2zM48 7h1v1h-1zM50 7h6v1h-6zM59 7h5v1h-5zM2 8h1v1h-1zM11 8h1v1h-1zM30 8h1v1h-1zM39 8h1v1h-1zM49 8h1v1h-1zM3 9h1v1h-1zM11 9h1v1h-1zM18 9h1v1h-1zM30 9h1v1h-1zM39 9h2v1h-2zM49 9h1v1h-1zM56 9h2v1h-2zM4 10h4v1h-4zM12 10h1v1h-1zM17 10h2v1h-2zM22 10h1v1h-1zM29 10h1v1h-1zM33 10h2v1h-2zM36 10h1v1h-1zM38 10h1v1h-1zM41 10h1v1h-1zM43 10h1v1h-1zM46 10h1v1h-1zM48 10h1v1h-1zM50 10h1v1h-1zM2 11h3v1h-3zM8 11h2v1h-2zM23 11h6v1h-6zM33 11h2v1h-2zM37 11h1v1h-1zM41 11h1v1h-1zM44 11h2v1h-2zM7 12h1v1h-1zM10 12h1v1h-1zM21 12h2v1h-2zM30 12h1v1h-1zM40 12h1v1h-1zM42 12h1v1h-1zM49 12h1v1h-1zM57 12h2v1h-2zM21 13h2v1h-2zM30 13h1v1h-1zM40 13h3v1h-3zM49 13h1v1h-1zM57 13h2v1h-2zM5 14h2v1h-2zM21 14h2v1h-2zM40 14h3v1h-3zM49 14h1v1h-1zM57 14h2v1h-2zM20 15h1v1h-1zM22 15h1v1h-1zM27 15h1v1h-1zM39 15h1v1h-1zM41 15h2v1h-2zM49 15h1v1h-1zM57 15h1v1h-1zM59 15h1v1h-1zM61 15h1v1h-1zM5 16h1v1h-1zM20 16h1v1h-1zM22 16h1v1h-1zM25 16h2v1h-2zM39 16h1v1h-1zM41 16h1v1h-1zM49 16h1v1h-1zM57 16h1v1h-1zM59 16h1v1h-1zM61 16h1v1h-1zM6 17h1v1h-1zM10 17h1v1h-1zM24 17h1v1h-1zM29 17h4v1h-4zM35 17h1v1h-1zM38 17h1v1h-1zM42 17h1v1h-1zM49 17h1v1h-1zM54 17h2v1h-2zM58 17h2v1h-2zM9 18h2v1h-2zM30 18h3v1h-3zM42 18h1v1h-1zM52 18h1v1h-1zM54 18h1v1h-1zM2 19h2v1h-2zM30 19h2v1h-2zM42 19h1v1h-1zM49 19h1v1h-1zM55 19h2v1h-2zM15 20h2v1h-2zM30 20h1v1h-1zM42 20h1v1h-1zM60 20h4v1h-4zM-1 21h3v1h-3zM12 21h3v1h-3zM28 21h2v1h-2zM31 21h8v1h-8zM42 21h1v1h-1zM49 21h1v1h-1zM53 21h1v1h-1zM55 21h2v1h-2zM-1 22h3v1h-3zM10 22h1v1h-1zM12 22h5v1h-5zM29 22h1v1h-1zM47 22h2v1h-2zM50 22h1v1h-1zM61 22h3v1h-3zM2 23h2v1h-2zM11 23h1v1h-1zM30 23h1v1h-1zM41 23h2v1h-2zM49 23h1v1h-1zM57 23h3v1h-3zM2 24h1v1h-1zM11 24h1v1h-1zM17 24h1v1h-1zM36 24h1v1h-1zM49 24h1v1h-1zM52 24h1v1h-1zM55 24h1v1h-1zM57 24h2v1h-2zM61 24h3v1h-3zM2 25h2v1h-2zM11 25h1v1h-1zM16 25h1v1h-1zM30 25h1v1h-1zM40 25h1v1h-1zM57 25h1v1h-1zM61 25h3v1h-3zM11 26h1v1h-1zM16 26h1v1h-1zM39 26h1v1h-1zM57 26h1v1h-1zM62 26h2v1h-2zM11 27h1v1h-1zM15 27h1v1h-1zM30 27h1v1h-1zM40 27h1v1h-1zM42 27h1v1h-1zM56 27h2v1h-2zM61 27h3v1h-3zM11 28h1v1h-1zM21 28h1v1h-1zM39 28h1v1h-1zM41 28h1v1h-1zM56 28h2v1h-2zM61 28h3v1h-3zM10 29h1v1h-1zM17 29h1v1h-1zM21 29h2v1h-2zM39 29h1v1h-1zM41 29h1v1h-1zM57 29h1v1h-1zM61 29h3v1h-3zM-1 30h3v1h-3zM4 30h6v1h-6zM12 30h2v1h-2zM17 30h4v1h-4zM23 30h1v1h-1zM25 30h1v1h-1zM27 30h1v1h-1zM33 30h1v1h-1zM42 30h1v1h-1zM47 30h2v1h-2zM59 30h2v1h-2zM5 31h3v1h-3zM17 31h3v1h-3zM21 31h1v1h-1zM47 31h1v1h-1zM57 31h1v1h-1zM61 31h3v1h-3zM3 32h1v1h-1zM6 32h2v1h-2zM17 32h2v1h-2zM21 32h1v1h-1zM48 32h1v1h-1zM57 32h1v1h-1zM3 33h1v1h-1zM10 33h2v1h-2zM21 33h1v1h-1zM30 33h1v1h-1zM40 33h1v1h-1zM55 33h3v1h-3zM3 34h1v1h-1zM10 34h2v1h-2zM21 34h1v1h-1zM39 34h1v1h-1zM55 34h3v1h-3zM7 35h1v1h-1zM17 35h1v1h-1zM21 35h1v1h-1zM41 35h1v1h-1zM57 35h1v1h-1zM61 35h3v1h-3zM10 36h1v1h-1zM21 36h1v1h-1zM24 36h1v1h-1zM59 36h1v1h-1zM11 37h1v1h-1zM21 37h1v1h-1zM59 37h1v1h-1zM6 38h2v1h-2zM10 38h1v1h-1zM17 38h1v1h-1zM21 38h1v1h-1zM42 38h1v1h-1zM59 38h1v1h-1zM8 39h2v1h-2zM15 39h2v1h-2zM26 39h1v1h-1zM28 39h2v1h-2zM34 39h1v1h-1zM49 39h2v1h-2zM-1 40h3v1h-3zM4 40h2v1h-2zM9 40h1v1h-1zM12 40h3v1h-3zM25 40h1v1h-1zM27 40h1v1h-1zM33 40h1v1h-1zM52 40h1v1h-1zM55 40h2v1h-2zM6 41h2v1h-2zM10 41h2v1h-2zM13 41h4v1h-4zM23 41h1v1h-1zM28 41h2v1h-2zM35 41h1v1h-1zM47 41h2v1h-2zM50 41h1v1h-1zM52 41h1v1h-1zM54 41h1v1h-1zM12 42h4v1h-4zM17 42h5v1h-5zM23 42h1v1h-1zM27 42h1v1h-1zM30 42h1v1h-1zM38 42h1v1h-1zM48 42h1v1h-1zM50 42h2v1h-2zM53 42h4v1h-4zM5 43h1v1h-1zM7 43h1v1h-1zM10 43h1v1h-1zM58 43h1v1h-1zM7 44h1v1h-1zM11 44h1v1h-1zM58 44h2v1h-2zM3 45h1v1h-1zM11 45h1v1h-1zM57 45h3v1h-3zM2 46h2v1h-2zM5 46h1v1h-1zM10 46h1v1h-1zM58 46h1v1h-1zM2 47h2v1h-2zM22 47h1v1h-1zM30 47h2v1h-2zM41 47h1v1h-1zM58 47h1v1h-1zM6 48h2v1h-2zM10 48h1v1h-1zM22 48h1v1h-1zM30 48h1v1h-1zM32 48h1v1h-1zM41 48h2v1h-2zM55 48h1v1h-1zM4 49h2v1h-2zM8 49h2v1h-2zM12 49h6v1h-6zM19 49h1v1h-1zM21 49h1v1h-1zM23 49h2v1h-2zM39 49h1v1h-1zM51 49h1v1h-1zM62 49h2v1h-2zM3 50h1v1h-1zM6 50h2v1h-2zM10 50h1v1h-1zM22 50h1v1h-1zM39 50h1v1h-1zM41 50h2v1h-2zM57 50h1v1h-1zM7 51h1v1h-1zM42 51h1v1h-1zM49 51h1v1h-1zM57 51h1v1h-1zM4 52h4v1h-4zM18 52h1v1h-1zM24 52h1v1h-1zM40 52h2v1h-2zM57 52h1v1h-1zM4 53h1v1h-1zM6 53h2v1h-2zM21 53h1v1h-1zM42 53h1v1h-1zM57 53h1v1h-1zM59 53h1v1h-1zM62 53h2v1h-2zM5 54h3v1h-3zM17 54h2v1h-2zM41 54h2v1h-2zM57 54h1v1h-1zM62 54h2v1h-2zM4 55h1v1h-1zM6 55h2v1h-2zM17 55h1v1h-1zM19 55h1v1h-1zM21 55h1v1h-1zM24 55h1v1h-1zM33 55h2v1h-2zM40 55h1v1h-1zM42 55h1v1h-1zM48 55h1v1h-1zM57 55h1v1h-1zM59 55h1v1h-1zM61 55h3v1h-3zM9 56h1v1h-1zM19 56h1v1h-1zM21 56h1v1h-1zM27 56h2v1h-2zM33 56h2v1h-2zM40 56h1v1h-1zM42 56h1v1h-1zM6 57h1v1h-1zM9 57h1v1h-1zM12 57h5v1h-5zM23 57h7v1h-7zM31 57h5v1h-5zM45 57h1v1h-1zM50 57h6v1h-6zM4 58h1v1h-1zM6 58h1v1h-1zM12 58h3v1h-3zM17 58h1v1h-1zM23 58h2v1h-2zM43 58h5v1h-5zM5 59h1v1h-1zM7 59h1v1h-1zM15 59h3v1h-3zM23 59h1v1h-1zM30 59h1v1h-1zM36 59h3v1h-3zM44 59h2v1h-2zM53 59h1v1h-1zM55 59h1v1h-1zM7 60h1v1h-1zM20 60h1v1h-1zM30 60h1v1h-1zM7 61h1v1h-1zM15 61h2v1h-2zM20 61h1v1h-1zM22 61h1v1h-1zM24 61h2v1h-2zM27 61h3v1h-3zM31 61h1v1h-1zM35 61h1v1h-1zM55 61h1v1h-1zM7 62h1v1h-1zM20 62h1v1h-1zM22 62h1v1h-1zM24 62h6v1h-6zM31 62h1v1h-1zM35 62h1v1h-1zM49 62h1v1h-1zM53 62h3v1h-3zM7 63h1v1h-1zM20 63h1v1h-1zM22 63h1v1h-1zM24 63h6v1h-6zM31 63h1v1h-1zM35 63h1v1h-1zM49 63h1v1h-1zM53 63h3v1h-3z"/>
<path fill="#ffcc0e" d="M5 -1h1v1h-1zM9 -1h1v1h-1zM19 -1h1v1h-1zM24 -1h1v1h-1zM27 -1h1v1h-1zM41 -1h2v1h-2zM48 -1h1v1h-1zM56 -1h6v1h-6zM5 0h1v1h-1zM9 0h1v1h-1zM19 0h1v1h-1zM24 0h1v1h-1zM27 0h1v1h-1zM41 0h2v1h-2zM48 0h1v1h-1zM56 0h6v1h-6zM5 1h1v1h-1zM9 1h1v1h-1zM19 1h1v1h-1zM24 1h1v1h-1zM27 1h1v1h-1zM42 1h1v1h-1zM48 1h1v1h-1zM56 1h6v1h-6zM9 2h2v1h-2zM18 2h1v1h-1zM48 2h1v1h-1zM10 3h1v1h-1zM17 3h1v1h-1zM13 4h1v1h-1zM15 4h2v1h-2zM20 4h1v1h-1zM22 4h1v1h-1zM26 4h2v1h-2zM31 4h2v1h-2zM35 4h1v1h-1zM41 4h2v1h-2zM54 4h1v1h-1zM59 4h5v1h-5zM-1 5h3v1h-3zM13 5h1v1h-1zM15 5h1v1h-1zM17 5h1v1h-1zM25 5h5v1h-5zM32 5h2v1h-2zM35 5h1v1h-1zM37 5h2v1h-2zM41 5h1v1h-1zM47 5h1v1h-1zM51 5h1v1h-1zM60 5h4v1h-4zM15 6h1v1h-1zM22 6h1v1h-1zM25 6h5v1h-5zM33 6h5v1h-5zM42 6h1v1h-1zM45 6h1v1h-1zM51 6h1v1h-1zM59 6h5v1h-5zM15 7h3v1h-3zM25 7h5v1h-5zM33 7h2v1h-2zM36 7h2v1h-2zM42 7h1v1h-1zM45 7h3v1h-3zM15 8h1v1h-1zM18 8h1v1h-1zM20 8h3v1h-3zM33 8h1v1h-1zM41 8h2v1h-2zM48 8h1v1h-1zM56 8h3v1h-3zM61 8h1v1h-1zM-1 9h4v1h-4zM10 9h1v1h-1zM12 9h6v1h-6zM25 9h1v1h-1zM27 9h1v1h-1zM29 9h1v1h-1zM32 9h5v1h-5zM38 9h1v1h-1zM41 9h5v1h-5zM47 9h2v1h-2zM50 9h6v1h-6zM58 9h6v1h-6zM2 10h2v1h-2zM9 10h1v1h-1zM24 10h1v1h-1zM26 10h3v1h-3zM37 10h1v1h-1zM44 10h2v1h-2zM51 10h1v1h-1zM9 12h1v1h-1zM17 12h1v1h-1zM19 12h1v1h-1zM24 12h1v1h-1zM41 12h1v1h-1zM55 12h2v1h-2zM59 12h5v1h-5zM4 13h2v1h-2zM9 13h1v1h-1zM17 13h1v1h-1zM19 13h1v1h-1zM24 13h1v1h-1zM56 13h1v1h-1zM59 13h5v1h-5zM9 14h1v1h-1zM19 14h1v1h-1zM24 14h1v1h-1zM31 14h1v1h-1zM55 14h2v1h-2zM59 14h5v1h-5zM4 15h6v1h-6zM17 15h3v1h-3zM23 15h2v1h-2zM26 15h1v1h-1zM33 15h1v1h-1zM48 15h1v1h-1zM4 16h1v1h-1zM7 16h1v1h-1zM9 16h1v1h-1zM17 16h3v1h-3zM23 16h2v1h-2zM28 16h1v1h-1zM30 16h1v1h-1zM33 16h2v1h-2zM38 16h1v1h-1zM42 16h1v1h-1zM47 16h2v1h-2zM62 16h2v1h-2zM3 17h1v1h-1zM5 17h1v1h-1zM7 17h1v1h-1zM9 17h1v1h-1zM12 17h2v1h-2zM15 17h2v1h-2zM20 17h1v1h-1zM26 17h1v1h-1zM28 17h1v1h-1zM36 17h2v1h-2zM50 17h3v1h-3zM56 17h1v1h-1zM60 17h4v1h-4zM2 18h1v1h-1zM8 18h1v1h-1zM15 18h2v1h-2zM21 18h1v1h-1zM24 18h1v1h-1zM26 18h2v1h-2zM35 18h3v1h-3zM48 18h1v1h-1zM51 18h1v1h-1zM60 18h4v1h-4zM-1 19h3v1h-3zM12 19h5v1h-5zM22 19h1v1h-1zM26 19h2v1h-2zM32 19h1v1h-1zM35 19h4v1h-4zM50 19h5v1h-5zM61 19h3v1h-3zM4 20h1v1h-1zM8 20h1v1h-1zM17 20h1v1h-1zM23 20h1v1h-1zM8 21h1v1h-1zM18 21h1v1h-1zM23 21h1v1h-1zM30 21h1v1h-1zM43 21h6v1h-6zM50 21h3v1h-3zM54 21h1v1h-1zM60 21h4v1h-4zM4 22h1v1h-1zM6 22h1v1h-1zM8 22h1v1h-1zM19 22h1v1h-1zM23 22h1v1h-1zM15 23h2v1h-2zM20 23h3v1h-3zM26 23h2v1h-2zM29 23h1v1h-1zM31 23h2v1h-2zM35 23h1v1h-1zM46 23h1v1h-1zM48 23h1v1h-1zM52 23h5v1h-5zM60 23h4v1h-4zM-1 24h3v1h-3zM10 24h1v1h-1zM12 24h5v1h-5zM18 24h1v1h-1zM26 24h10v1h-10zM37 24h1v1h-1zM42 24h5v1h-5zM48 24h1v1h-1zM50 24h2v1h-2zM53 24h2v1h-2zM59 24h2v1h-2zM5 25h3v1h-3zM9 25h1v1h-1zM29 25h1v1h-1zM31 25h1v1h-1zM41 25h2v1h-2zM49 25h1v1h-1zM55 25h1v1h-1zM59 25h2v1h-2zM4 26h4v1h-4zM10 26h1v1h-1zM15 26h1v1h-1zM17 26h3v1h-3zM23 26h2v1h-2zM41 26h2v1h-2zM49 26h1v1h-1zM55 26h1v1h-1zM59 26h2v1h-2zM-1 27h3v1h-3zM4 27h4v1h-4zM9 27h2v1h-2zM18 27h2v1h-2zM23 27h2v1h-2zM29 27h1v1h-1zM31 27h1v1h-1zM41 27h1v1h-1zM44 27h1v1h-1zM49 27h1v1h-1zM55 27h1v1h-1zM59 27h2v1h-2zM5 28h3v1h-3zM10 28h1v1h-1zM16 28h2v1h-2zM24 28h1v1h-1zM30 28h1v1h-1zM46 28h1v1h-1zM49 28h1v1h-1zM55 28h1v1h-1zM59 28h2v1h-2zM5 29h3v1h-3zM9 29h1v1h-1zM23 29h3v1h-3zM27 29h1v1h-1zM33 29h1v1h-1zM42 29h1v1h-1zM59 29h1v1h-1zM16 30h1v1h-1zM21 30h1v1h-1zM24 30h1v1h-1zM28 30h1v1h-1zM38 30h1v1h-1zM40 30h1v1h-1zM51 30h1v1h-1zM4 31h1v1h-1zM14 31h1v1h-1zM23 31h3v1h-3zM27 31h1v1h-1zM33 31h2v1h-2zM38 31h5v1h-5zM48 31h1v1h-1zM59 31h1v1h-1zM4 32h2v1h-2zM9 32h1v1h-1zM19 32h1v1h-1zM23 32h2v1h-2zM39 32h4v1h-4zM47 32h1v1h-1zM59 32h5v1h-5zM5 33h5v1h-5zM15 33h2v1h-2zM24 33h1v1h-1zM29 33h1v1h-1zM31 33h1v1h-1zM35 33h1v1h-1zM39 33h1v1h-1zM41 33h2v1h-2zM48 33h2v1h-2zM52 33h1v1h-1zM59 33h5v1h-5zM6 34h2v1h-2zM9 34h1v1h-1zM16 34h1v1h-1zM24 34h1v1h-1zM31 34h1v1h-1zM40 34h2v1h-2zM48 34h2v1h-2zM59 34h5v1h-5zM4 35h3v1h-3zM9 35h1v1h-1zM18 35h2v1h-2zM23 35h2v1h-2zM33 35h1v1h-1zM42 35h1v1h-1zM47 35h2v1h-2zM59 35h2v1h-2zM6 36h2v1h-2zM9 36h1v1h-1zM17 36h3v1h-3zM42 36h1v1h-1zM48 36h1v1h-1zM57 36h1v1h-1zM60 36h4v1h-4zM5 37h3v1h-3zM10 37h1v1h-1zM17 37h3v1h-3zM24 37h1v1h-1zM42 37h1v1h-1zM48 37h1v1h-1zM57 37h1v1h-1zM60 37h4v1h-4zM5 38h1v1h-1zM9 38h1v1h-1zM16 38h1v1h-1zM19 38h1v1h-1zM30 38h2v1h-2zM39 38h1v1h-1zM43 38h1v1h-1zM48 38h1v1h-1zM56 38h2v1h-2zM60 38h4v1h-4zM31 39h3v1h-3zM38 39h1v1h-1zM52 39h1v1h-1zM54 39h2v1h-2zM30 40h3v1h-3zM34 40h1v1h-1zM51 40h1v1h-1zM53 40h2v1h-2zM-1 41h2v1h-2zM4 41h2v1h-2zM8 41h2v1h-2zM12 41h1v1h-1zM25 41h3v1h-3zM31 41h4v1h-4zM43 41h4v1h-4zM60 41h2v1h-2zM-1 42h3v1h-3zM4 42h1v1h-1zM6 42h4v1h-4zM16 42h1v1h-1zM24 42h3v1h-3zM29 42h1v1h-1zM31 42h3v1h-3zM35 42h3v1h-3zM43 42h2v1h-2zM46 42h2v1h-2zM52 42h1v1h-1zM61 42h1v1h-1zM9 43h1v1h-1zM21 43h1v1h-1zM24 43h1v1h-1zM38 43h1v1h-1zM41 43h2v1h-2zM49 43h1v1h-1zM56 43h2v1h-2zM59 43h5v1h-5zM9 44h2v1h-2zM21 44h1v1h-1zM24 44h1v1h-1zM27 44h1v1h-1zM41 44h2v1h-2zM49 44h1v1h-1zM56 44h2v1h-2zM60 44h1v1h-1zM62 44h2v1h-2zM6 45h2v1h-2zM9 45h2v1h-2zM21 45h1v1h-1zM24 45h1v1h-1zM41 45h1v1h-1zM49 45h1v1h-1zM55 45h2v1h-2zM60 45h1v1h-1zM62 45h2v1h-2zM7 46h1v1h-1zM21 46h1v1h-1zM23 46h2v1h-2zM28 46h1v1h-1zM41 46h2v1h-2zM49 46h1v1h-1zM55 46h3v1h-3zM59 46h5v1h-5zM5 47h1v1h-1zM7 47h1v1h-1zM9 47h1v1h-1zM16 47h1v1h-1zM21 47h1v1h-1zM32 47h1v1h-1zM35 47h1v1h-1zM42 47h1v1h-1zM49 47h1v1h-1zM55 47h3v1h-3zM59 47h1v1h-1zM61 47h3v1h-3zM-1 48h4v1h-4zM8 48h2v1h-2zM15 48h2v1h-2zM18 48h1v1h-1zM21 48h1v1h-1zM23 48h2v1h-2zM31 48h1v1h-1zM33 48h6v1h-6zM53 48h2v1h-2zM56 48h8v1h-8zM25 49h4v1h-4zM33 49h2v1h-2zM43 49h5v1h-5zM52 49h5v1h-5zM9 50h1v1h-1zM17 50h1v1h-1zM19 50h1v1h-1zM21 50h1v1h-1zM24 50h1v1h-1zM59 50h5v1h-5zM5 51h2v1h-2zM9 51h2v1h-2zM17 51h3v1h-3zM21 51h1v1h-1zM24 51h1v1h-1zM30 51h1v1h-1zM40 51h1v1h-1zM59 51h5v1h-5zM9 52h1v1h-1zM17 52h1v1h-1zM19 52h1v1h-1zM21 52h1v1h-1zM23 52h1v1h-1zM33 52h1v1h-1zM39 52h1v1h-1zM42 52h1v1h-1zM49 52h1v1h-1zM59 52h1v1h-1zM61 52h3v1h-3zM9 53h1v1h-1zM19 53h1v1h-1zM23 53h2v1h-2zM40 53h1v1h-1zM48 53h2v1h-2zM60 53h2v1h-2zM4 54h1v1h-1zM9 54h1v1h-1zM19 54h1v1h-1zM21 54h1v1h-1zM23 54h2v1h-2zM39 54h2v1h-2zM48 54h2v1h-2zM59 54h3v1h-3zM9 55h1v1h-1zM12 55h1v1h-1zM14 55h1v1h-1zM23 55h1v1h-1zM25 55h4v1h-4zM39 55h1v1h-1zM45 55h3v1h-3zM49 55h1v1h-1zM60 55h1v1h-1zM-1 56h3v1h-3zM8 56h1v1h-1zM12 56h3v1h-3zM17 56h1v1h-1zM23 56h1v1h-1zM38 56h1v1h-1zM43 56h7v1h-7zM-1 57h3v1h-3zM8 57h1v1h-1zM36 57h3v1h-3zM43 57h2v1h-2zM46 57h3v1h-3zM-1 58h3v1h-3zM8 58h2v1h-2zM48 58h1v1h-1zM62 58h2v1h-2zM-1 59h3v1h-3zM4 59h1v1h-1zM6 59h1v1h-1zM9 59h1v1h-1zM12 59h3v1h-3zM24 59h6v1h-6zM31 59h5v1h-5zM43 59h1v1h-1zM46 59h3v1h-3zM50 59h3v1h-3zM54 59h1v1h-1zM-1 60h3v1h-3zM4 60h3v1h-3zM9 60h1v1h-1zM12 60h3v1h-3zM17 60h2v1h-2zM21 60h1v1h-1zM23 60h6v1h-6zM32 60h7v1h-7zM41 60h1v1h-1zM43 60h4v1h-4zM48 60h1v1h-1zM50 60h2v1h-2zM53 60h3v1h-3zM-1 61h3v1h-3zM4 61h3v1h-3zM8 61h2v1h-2zM12 61h3v1h-3zM17 61h3v1h-3zM21 61h1v1h-1zM23 61h1v1h-1zM32 61h3v1h-3zM36 61h3v1h-3zM41 61h3v1h-3zM46 61h3v1h-3zM50 61h5v1h-5zM4 62h3v1h-3zM9 62h1v1h-1zM12 62h3v1h-3zM16 62h4v1h-4zM21 62h1v1h-1zM23 62h1v1h-1zM32 62h3v1h-3zM36 62h3v1h-3zM43 62h6v1h-6zM50 62h3v1h-3zM58 62h1v1h-1zM4 63h3v1h-3zM9 63h1v1h-1zM12 63h3v1h-3zM16 63h4v1h-4zM21 63h1v1h-1zM23 63h1v1h-1zM32 63h3v1h-3zM36 63h3v1h-3zM43 63h6v1h-6zM50 63h3v1h-3zM58 63h1v1h-1z"/>
<path fill="#ff960e" d="M6 -1h2v1h-2zM18 -1h1v1h-1zM23 -1h1v1h-1zM25 -1h2v1h-2zM33 -1h1v1h-1zM35 -1h1v1h-1zM50 -1h1v1h-1zM62 -1h2v1h-2zM6 0h2v1h-2zM18 0h1v1h-1zM23 0h1v1h-1zM25 0h2v1h-2zM33 0h1v1h-1zM35 0h1v1h-1zM50 0h1v1h-1zM62 0h2v1h-2zM6 1h2v1h-2zM17 1h2v1h-2zM23 1h1v1h-1zM25 1h2v1h-2zM32 1h2v1h-2zM35 1h4v1h-4zM41 1h1v1h-1zM50 1h1v1h-1zM62 1h2v1h-2zM48 3h1v1h-1zM7 4h1v1h-1zM21 4h1v1h-1zM24 4h1v1h-1zM29 4h1v1h-1zM36 4h2v1h-2zM48 4h1v1h-1zM51 4h1v1h-1zM12 5h1v1h-1zM18 5h2v1h-2zM22 5h2v1h-2zM36 5h1v1h-1zM42 5h1v1h-1zM-1 6h3v1h-3zM7 6h1v1h-1zM12 6h2v1h-2zM18 6h1v1h-1zM44 6h1v1h-1zM46 6h2v1h-2zM-1 7h3v1h-3zM4 7h1v1h-1zM6 7h1v1h-1zM18 7h2v1h-2zM21 7h1v1h-1zM23 7h1v1h-1zM16 8h1v1h-1zM26 8h2v1h-2zM29 8h1v1h-1zM31 8h2v1h-2zM37 8h1v1h-1zM40 8h1v1h-1zM46 8h1v1h-1zM50 8h1v1h-1zM52 8h4v1h-4zM60 8h1v1h-1zM62 8h2v1h-2zM26 9h1v1h-1zM28 9h1v1h-1zM31 9h1v1h-1zM37 9h1v1h-1zM46 9h1v1h-1zM5 12h2v1h-2zM15 12h2v1h-2zM18 12h1v1h-1zM48 12h1v1h-1zM50 12h1v1h-1zM6 13h1v1h-1zM15 13h2v1h-2zM18 13h1v1h-1zM50 13h1v1h-1zM55 13h1v1h-1zM15 14h2v1h-2zM18 14h1v1h-1zM32 14h2v1h-2zM35 14h2v1h-2zM38 14h1v1h-1zM50 14h1v1h-1zM12 15h3v1h-3zM25 15h1v1h-1zM28 15h1v1h-1zM30 15h1v1h-1zM34 15h1v1h-1zM46 15h2v1h-2zM50 15h1v1h-1zM56 15h1v1h-1zM62 15h2v1h-2zM8 16h1v1h-1zM12 16h3v1h-3zM32 16h1v1h-1zM36 16h2v1h-2zM46 16h1v1h-1zM50 16h1v1h-1zM56 16h1v1h-1zM1 17h1v1h-1zM21 17h1v1h-1zM34 17h1v1h-1zM46 17h1v1h-1zM48 17h1v1h-1zM57 17h1v1h-1zM-1 18h3v1h-3zM5 18h3v1h-3zM12 18h3v1h-3zM29 18h1v1h-1zM46 18h1v1h-1zM5 19h1v1h-1zM7 19h1v1h-1zM20 19h1v1h-1zM28 19h2v1h-2zM34 19h1v1h-1zM45 19h2v1h-2zM48 19h1v1h-1zM60 19h1v1h-1zM19 20h1v1h-1zM4 21h1v1h-1zM7 21h1v1h-1zM17 21h1v1h-1zM5 22h1v1h-1zM-1 23h3v1h-3zM5 23h1v1h-1zM7 23h1v1h-1zM33 23h2v1h-2zM36 23h3v1h-3zM51 23h1v1h-1zM4 24h1v1h-1zM25 24h1v1h-1zM47 24h1v1h-1zM-1 25h3v1h-3zM15 25h1v1h-1zM24 25h1v1h-1zM32 25h1v1h-1zM34 25h2v1h-2zM44 25h1v1h-1zM48 25h1v1h-1zM-1 26h3v1h-3zM8 26h2v1h-2zM29 26h1v1h-1zM44 26h1v1h-1zM8 27h1v1h-1zM48 27h1v1h-1zM51 27h3v1h-3zM9 28h1v1h-1zM15 28h1v1h-1zM19 28h1v1h-1zM29 28h1v1h-1zM31 28h1v1h-1zM44 28h2v1h-2zM47 28h1v1h-1zM53 28h1v1h-1zM4 29h1v1h-1zM8 29h1v1h-1zM18 29h2v1h-2zM26 29h1v1h-1zM28 29h1v1h-1zM34 29h1v1h-1zM38 29h1v1h-1zM49 29h1v1h-1zM56 29h1v1h-1zM15 30h1v1h-1zM34 30h1v1h-1zM39 30h1v1h-1zM43 30h3v1h-3zM52 30h1v1h-1zM8 31h2v1h-2zM28 31h1v1h-1zM49 31h4v1h-4zM1 32h1v1h-1zM8 32h1v1h-1zM14 32h1v1h-1zM16 32h1v1h-1zM25 32h1v1h-1zM38 32h1v1h-1zM51 32h1v1h-1zM56 32h1v1h-1zM-1 33h3v1h-3zM14 33h1v1h-1zM23 33h1v1h-1zM36 33h3v1h-3zM51 33h1v1h-1zM54 33h1v1h-1zM15 34h1v1h-1zM17 34h1v1h-1zM19 34h1v1h-1zM23 34h1v1h-1zM25 34h1v1h-1zM29 34h2v1h-2zM35 34h1v1h-1zM42 34h1v1h-1zM52 34h1v1h-1zM-1 35h3v1h-3zM14 35h1v1h-1zM25 35h1v1h-1zM34 35h1v1h-1zM44 35h1v1h-1zM49 35h1v1h-1zM1 36h1v1h-1zM4 36h2v1h-2zM14 36h1v1h-1zM16 36h1v1h-1zM23 36h1v1h-1zM33 36h1v1h-1zM39 36h1v1h-1zM43 36h2v1h-2zM47 36h1v1h-1zM56 36h1v1h-1zM1 37h1v1h-1zM4 37h1v1h-1zM8 37h2v1h-2zM16 37h1v1h-1zM23 37h1v1h-1zM33 37h1v1h-1zM39 37h1v1h-1zM1 38h1v1h-1zM14 38h1v1h-1zM23 38h1v1h-1zM29 38h1v1h-1zM32 38h2v1h-2zM44 38h1v1h-1zM47 38h1v1h-1zM53 38h3v1h-3zM30 39h1v1h-1zM36 39h2v1h-2zM8 40h1v1h-1zM49 40h2v1h-2zM1 41h1v1h-1zM58 41h2v1h-2zM5 42h1v1h-1zM34 42h1v1h-1zM45 42h1v1h-1zM57 42h1v1h-1zM30 43h1v1h-1zM36 43h1v1h-1zM55 43h1v1h-1zM6 44h1v1h-1zM25 44h2v1h-2zM28 44h1v1h-1zM30 44h1v1h-1zM35 44h2v1h-2zM38 44h1v1h-1zM61 44h1v1h-1zM19 45h1v1h-1zM28 45h1v1h-1zM30 45h1v1h-1zM42 45h1v1h-1zM61 45h1v1h-1zM6 46h1v1h-1zM8 46h2v1h-2zM15 46h5v1h-5zM6 47h1v1h-1zM15 47h1v1h-1zM24 47h1v1h-1zM28 47h1v1h-1zM36 47h1v1h-1zM38 47h1v1h-1zM60 47h1v1h-1zM3 48h2v1h-2zM12 48h1v1h-1zM17 48h1v1h-1zM19 48h1v1h-1zM25 48h1v1h-1zM27 48h1v1h-1zM50 48h3v1h-3zM29 49h1v1h-1zM31 49h1v1h-1zM35 49h1v1h-1zM40 49h1v1h-1zM-1 50h3v1h-3zM8 50h1v1h-1zM12 50h5v1h-5zM31 50h1v1h-1zM40 50h1v1h-1zM48 50h1v1h-1zM56 50h1v1h-1zM4 51h1v1h-1zM23 51h1v1h-1zM27 51h1v1h-1zM31 51h3v1h-3zM48 51h1v1h-1zM56 51h1v1h-1zM8 52h1v1h-1zM27 52h1v1h-1zM30 52h2v1h-2zM34 52h1v1h-1zM48 52h1v1h-1zM56 52h1v1h-1zM60 52h1v1h-1zM8 53h1v1h-1zM27 53h2v1h-2zM38 53h1v1h-1zM8 54h1v1h-1zM33 54h1v1h-1zM38 54h1v1h-1zM8 55h1v1h-1zM13 55h1v1h-1zM38 55h1v1h-1zM43 55h1v1h-1zM15 56h2v1h-2zM29 56h1v1h-1zM32 56h1v1h-1zM36 56h1v1h-1zM50 56h3v1h-3zM17 57h1v1h-1zM42 57h1v1h-1zM60 57h4v1h-4zM41 58h1v1h-1zM60 58h2v1h-2zM41 59h1v1h-1zM8 60h1v1h-1zM19 60h1v1h-1zM47 60h1v1h-1zM52 60h1v1h-1zM57 60h2v1h-2zM44 61h2v1h-2zM57 61h2v1h-2zM-1 62h3v1h-3zM8 62h1v1h-1zM15 62h1v1h-1zM57 62h1v1h-1zM-1 63h3v1h-3zM8 63h1v1h-1zM15 63h1v1h-1zM57 63h1v1h-1z"/>
<path fill="#fa550a" d="M14 -1h1v1h-1zM16 -1h2v1h-2zM31 -1h2v1h-2zM38 -1h1v1h-1zM14 0h1v1h-1zM16 0h2v1h-2zM31 0h2v1h-2zM38 0h1v1h-1zM4 1h1v1h-1zM13 1h2v1h-2zM28 1h1v1h-1zM31 1h1v1h-1zM47 1h1v1h-1zM18 3h1v1h-1zM1 4h1v1h-1zM9 4h1v1h-1zM12 4h1v1h-1zM14 4h1v1h-1zM18 4h1v1h-1zM25 4h1v1h-1zM28 4h1v1h-1zM33 4h1v1h-1zM38 4h1v1h-1zM46 4h1v1h-1zM50 4h1v1h-1zM21 5h1v1h-1zM24 5h1v1h-1zM34 5h1v1h-1zM50 5h1v1h-1zM16 6h1v1h-1zM20 6h1v1h-1zM24 6h1v1h-1zM43 6h1v1h-1zM8 7h1v1h-1zM22 7h1v1h-1zM24 7h1v1h-1zM7 8h1v1h-1zM10 8h1v1h-1zM13 8h2v1h-2zM17 8h1v1h-1zM19 8h1v1h-1zM34 8h2v1h-2zM43 8h3v1h-3zM47 8h1v1h-1zM59 8h1v1h-1zM4 9h1v1h-1zM19 9h1v1h-1zM8 10h1v1h-1zM25 10h1v1h-1zM4 12h1v1h-1zM23 12h1v1h-1zM25 12h1v1h-1zM31 12h4v1h-4zM38 12h1v1h-1zM1 13h1v1h-1zM8 13h1v1h-1zM23 13h1v1h-1zM28 13h1v1h-1zM33 13h2v1h-2zM38 13h1v1h-1zM48 13h1v1h-1zM-1 14h3v1h-3zM4 14h1v1h-1zM8 14h1v1h-1zM17 14h1v1h-1zM28 14h2v1h-2zM34 14h1v1h-1zM37 14h1v1h-1zM46 14h1v1h-1zM52 14h2v1h-2zM32 15h1v1h-1zM35 15h4v1h-4zM60 15h1v1h-1zM-1 16h2v1h-2zM6 16h1v1h-1zM35 16h1v1h-1zM43 16h1v1h-1zM45 16h1v1h-1zM51 16h1v1h-1zM54 16h1v1h-1zM-1 17h2v1h-2zM8 17h1v1h-1zM14 17h1v1h-1zM3 18h2v1h-2zM19 18h1v1h-1zM23 18h1v1h-1zM28 18h1v1h-1zM44 18h2v1h-2zM8 19h2v1h-2zM18 19h1v1h-1zM21 19h1v1h-1zM33 19h1v1h-1zM44 19h1v1h-1zM6 20h1v1h-1zM5 21h1v1h-1zM19 21h1v1h-1zM7 22h1v1h-1zM12 23h2v1h-2zM18 23h1v1h-1zM44 23h2v1h-2zM50 23h1v1h-1zM5 24h3v1h-3zM4 25h1v1h-1zM10 25h1v1h-1zM12 25h1v1h-1zM26 25h1v1h-1zM33 25h1v1h-1zM46 25h1v1h-1zM51 25h4v1h-4zM25 26h1v1h-1zM30 26h2v1h-2zM33 26h1v1h-1zM40 26h1v1h-1zM43 26h1v1h-1zM48 26h1v1h-1zM56 26h1v1h-1zM32 27h2v1h-2zM36 27h1v1h-1zM38 27h1v1h-1zM43 27h1v1h-1zM1 28h1v1h-1zM4 28h1v1h-1zM13 28h2v1h-2zM18 28h1v1h-1zM32 28h4v1h-4zM43 28h1v1h-1zM48 28h1v1h-1zM52 28h1v1h-1zM54 28h1v1h-1zM14 29h1v1h-1zM35 29h2v1h-2zM47 29h2v1h-2zM60 29h1v1h-1zM26 30h1v1h-1zM-1 31h3v1h-3zM12 31h1v1h-1zM26 31h1v1h-1zM45 31h1v1h-1zM60 31h1v1h-1zM-1 32h2v1h-2zM12 32h1v1h-1zM15 32h1v1h-1zM27 32h2v1h-2zM33 32h1v1h-1zM43 32h1v1h-1zM52 32h1v1h-1zM4 33h1v1h-1zM12 33h2v1h-2zM19 33h1v1h-1zM25 33h4v1h-4zM32 33h1v1h-1zM44 33h1v1h-1zM53 33h1v1h-1zM5 34h1v1h-1zM8 34h1v1h-1zM12 34h3v1h-3zM28 34h1v1h-1zM36 34h1v1h-1zM44 34h1v1h-1zM51 34h1v1h-1zM53 34h1v1h-1zM8 35h1v1h-1zM15 35h2v1h-2zM28 35h2v1h-2zM40 35h1v1h-1zM43 35h1v1h-1zM45 35h1v1h-1zM55 35h1v1h-1zM15 36h1v1h-1zM27 36h1v1h-1zM29 36h1v1h-1zM34 36h1v1h-1zM45 36h2v1h-2zM53 36h3v1h-3zM14 37h2v1h-2zM40 37h1v1h-1zM43 37h2v1h-2zM47 37h1v1h-1zM-1 38h2v1h-2zM4 38h1v1h-1zM12 38h2v1h-2zM15 38h1v1h-1zM27 38h1v1h-1zM45 38h2v1h-2zM52 38h1v1h-1zM40 39h1v1h-1zM26 40h1v1h-1zM35 40h1v1h-1zM37 40h1v1h-1zM39 40h1v1h-1zM62 41h2v1h-2zM62 42h2v1h-2zM6 43h1v1h-1zM8 43h1v1h-1zM16 43h1v1h-1zM26 43h3v1h-3zM32 43h1v1h-1zM35 43h1v1h-1zM37 43h1v1h-1zM8 44h1v1h-1zM18 44h2v1h-2zM23 44h1v1h-1zM33 44h2v1h-2zM37 44h1v1h-1zM55 44h1v1h-1zM8 45h1v1h-1zM16 45h1v1h-1zM18 45h1v1h-1zM23 45h1v1h-1zM31 45h1v1h-1zM35 45h2v1h-2zM38 45h1v1h-1zM52 45h2v1h-2zM4 46h1v1h-1zM14 46h1v1h-1zM25 46h1v1h-1zM36 46h1v1h-1zM38 46h1v1h-1zM51 46h2v1h-2zM1 47h1v1h-1zM8 47h1v1h-1zM29 47h1v1h-1zM37 47h1v1h-1zM51 47h4v1h-4zM13 48h1v1h-1zM26 48h1v1h-1zM28 48h2v1h-2zM4 50h2v1h-2zM23 50h1v1h-1zM53 50h1v1h-1zM16 51h1v1h-1zM25 51h1v1h-1zM34 51h1v1h-1zM46 51h2v1h-2zM14 52h1v1h-1zM25 52h1v1h-1zM28 52h1v1h-1zM32 52h1v1h-1zM38 52h1v1h-1zM45 52h3v1h-3zM14 53h1v1h-1zM25 53h1v1h-1zM33 53h2v1h-2zM36 53h1v1h-1zM45 53h1v1h-1zM47 53h1v1h-1zM50 53h1v1h-1zM16 54h1v1h-1zM25 54h1v1h-1zM28 54h1v1h-1zM36 54h1v1h-1zM47 54h1v1h-1zM35 55h2v1h-2zM44 55h1v1h-1zM26 56h1v1h-1zM58 57h2v1h-2zM57 58h1v1h-1zM8 59h1v1h-1zM57 59h1v1h-1zM62 59h2v1h-2zM15 60h1v1h-1zM29 60h1v1h-1zM31 60h1v1h-1zM41 62h2v1h-2zM59 62h1v1h-1zM41 63h2v1h-2zM59 63h1v1h-1z"/>
<path fill="#eb190e" d="M4 -1h1v1h-1zM8 -1h1v1h-1zM12 -1h2v1h-2zM28 -1h1v1h-1zM36 -1h2v1h-2zM53 -1h3v1h-3zM4 0h1v1h-1zM8 0h1v1h-1zM12 0h2v1h-2zM28 0h1v1h-1zM36 0h2v1h-2zM53 0h3v1h-3zM8 1h1v1h-1zM12 1h1v1h-1zM16 1h1v1h-1zM45 1h2v1h-2zM52 1h4v1h-4zM17 2h1v1h-1zM-1 4h2v1h-2zM19 4h1v1h-1zM34 4h1v1h-1zM44 4h2v1h-2zM9 5h1v1h-1zM20 5h1v1h-1zM8 6h1v1h-1zM23 6h1v1h-1zM-1 8h3v1h-3zM6 8h1v1h-1zM28 8h1v1h-1zM36 8h1v1h-1zM5 9h1v1h-1zM20 9h1v1h-1zM-1 12h3v1h-3zM26 12h4v1h-4zM35 12h3v1h-3zM45 12h3v1h-3zM53 12h1v1h-1zM-1 13h2v1h-2zM29 13h1v1h-1zM31 13h2v1h-2zM35 13h1v1h-1zM46 13h1v1h-1zM52 13h1v1h-1zM44 14h1v1h-1zM48 14h1v1h-1zM43 15h1v1h-1zM45 15h1v1h-1zM51 15h1v1h-1zM53 15h2v1h-2zM1 16h1v1h-1zM53 16h1v1h-1zM60 16h1v1h-1zM2 17h1v1h-1zM33 17h1v1h-1zM43 17h2v1h-2zM38 18h1v1h-1zM43 18h1v1h-1zM47 18h1v1h-1zM50 18h1v1h-1zM4 19h1v1h-1zM24 19h2v1h-2zM43 19h1v1h-1zM47 19h1v1h-1zM5 20h1v1h-1zM9 20h1v1h-1zM22 20h1v1h-1zM24 20h1v1h-1zM24 21h1v1h-1zM20 22h1v1h-1zM24 22h1v1h-1zM6 23h1v1h-1zM28 23h1v1h-1zM19 24h4v1h-4zM19 25h1v1h-1zM27 25h1v1h-1zM37 25h1v1h-1zM47 25h1v1h-1zM12 26h1v1h-1zM36 26h1v1h-1zM38 26h1v1h-1zM47 26h1v1h-1zM51 26h1v1h-1zM12 27h1v1h-1zM25 27h1v1h-1zM28 27h1v1h-1zM35 27h1v1h-1zM46 27h2v1h-2zM-1 28h2v1h-2zM8 28h1v1h-1zM12 28h1v1h-1zM23 28h1v1h-1zM27 28h1v1h-1zM37 28h1v1h-1zM51 28h1v1h-1zM12 29h2v1h-2zM50 29h1v1h-1zM55 29h1v1h-1zM36 30h1v1h-1zM49 30h1v1h-1zM54 30h3v1h-3zM13 31h1v1h-1zM36 31h1v1h-1zM54 31h1v1h-1zM56 31h1v1h-1zM13 32h1v1h-1zM46 32h1v1h-1zM55 32h1v1h-1zM17 33h1v1h-1zM4 34h1v1h-1zM37 34h2v1h-2zM45 34h1v1h-1zM54 34h1v1h-1zM12 35h2v1h-2zM27 35h1v1h-1zM46 35h1v1h-1zM52 35h1v1h-1zM-1 36h2v1h-2zM8 36h1v1h-1zM12 36h1v1h-1zM26 36h1v1h-1zM30 36h2v1h-2zM49 36h4v1h-4zM-1 37h2v1h-2zM12 37h1v1h-1zM25 37h1v1h-1zM28 37h1v1h-1zM34 37h1v1h-1zM38 37h1v1h-1zM45 37h2v1h-2zM18 38h1v1h-1zM26 38h1v1h-1zM34 38h1v1h-1zM37 38h1v1h-1zM40 38h1v1h-1zM53 39h1v1h-1zM38 40h1v1h-1zM57 41h1v1h-1zM15 43h1v1h-1zM17 43h3v1h-3zM4 44h1v1h-1zM14 44h1v1h-1zM17 44h1v1h-1zM51 44h1v1h-1zM53 44h1v1h-1zM1 45h1v1h-1zM4 45h1v1h-1zM12 45h1v1h-1zM15 45h1v1h-1zM34 45h1v1h-1zM37 45h1v1h-1zM51 45h1v1h-1zM1 46h1v1h-1zM12 46h2v1h-2zM27 46h1v1h-1zM32 46h1v1h-1zM35 46h1v1h-1zM37 46h1v1h-1zM12 47h1v1h-1zM18 47h2v1h-2zM25 47h3v1h-3zM50 47h1v1h-1zM14 48h1v1h-1zM30 49h1v1h-1zM36 49h1v1h-1zM18 50h1v1h-1zM29 50h1v1h-1zM36 50h1v1h-1zM47 50h1v1h-1zM51 50h1v1h-1zM55 50h1v1h-1zM15 51h1v1h-1zM26 51h1v1h-1zM28 51h1v1h-1zM36 51h1v1h-1zM44 51h2v1h-2zM50 51h1v1h-1zM53 51h1v1h-1zM1 52h1v1h-1zM13 52h1v1h-1zM35 52h2v1h-2zM53 52h1v1h-1zM-1 53h3v1h-3zM12 53h1v1h-1zM15 53h2v1h-2zM39 53h1v1h-1zM44 53h1v1h-1zM51 53h2v1h-2zM-1 54h3v1h-3zM15 54h1v1h-1zM30 54h2v1h-2zM34 54h1v1h-1zM55 54h1v1h-1zM-1 55h3v1h-3zM29 55h2v1h-2zM32 55h1v1h-1zM50 55h1v1h-1zM54 55h1v1h-1zM30 56h2v1h-2zM41 57h1v1h-1zM59 58h1v1h-1zM58 59h1v1h-1zM16 60h1v1h-1z"/>
<path fill="#c80505" d="M15 -1h1v1h-1zM29 -1h1v1h-1zM34 -1h1v1h-1zM44 -1h4v1h-4zM52 -1h1v1h-1zM15 0h1v1h-1zM29 0h1v1h-1zM34 0h1v1h-1zM44 0h4v1h-4zM52 0h1v1h-1zM15 1h1v1h-1zM29 1h1v1h-1zM34 1h1v1h-1zM44 1h1v1h-1zM5 4h2v1h-2zM8 4h1v1h-1zM23 4h1v1h-1zM43 4h1v1h-1zM47 4h1v1h-1zM4 5h1v1h-1zM6 5h3v1h-3zM4 6h2v1h-2zM9 6h1v1h-1zM19 6h1v1h-1zM5 7h1v1h-1zM9 7h1v1h-1zM20 7h1v1h-1zM4 8h2v1h-2zM9 8h1v1h-1zM12 8h1v1h-1zM24 8h2v1h-2zM38 8h1v1h-1zM51 8h1v1h-1zM6 9h3v1h-3zM21 9h3v1h-3zM11 10h1v1h-1zM23 10h1v1h-1zM10 11h1v1h-1zM8 12h1v1h-1zM13 12h1v1h-1zM43 12h2v1h-2zM52 12h1v1h-1zM54 12h1v1h-1zM12 13h1v1h-1zM14 13h1v1h-1zM25 13h3v1h-3zM36 13h2v1h-2zM43 13h3v1h-3zM47 13h1v1h-1zM53 13h1v1h-1zM13 14h1v1h-1zM23 14h1v1h-1zM25 14h3v1h-3zM43 14h1v1h-1zM45 14h1v1h-1zM47 14h1v1h-1zM51 14h1v1h-1zM54 14h1v1h-1zM-1 15h3v1h-3zM52 15h1v1h-1zM55 15h1v1h-1zM44 16h1v1h-1zM19 17h1v1h-1zM23 17h1v1h-1zM25 17h1v1h-1zM45 17h1v1h-1zM47 17h1v1h-1zM25 18h1v1h-1zM33 18h2v1h-2zM6 19h1v1h-1zM17 19h1v1h-1zM23 19h1v1h-1zM7 20h1v1h-1zM21 20h1v1h-1zM9 21h1v1h-1zM20 21h1v1h-1zM22 21h1v1h-1zM9 22h1v1h-1zM21 22h1v1h-1zM4 23h1v1h-1zM9 23h2v1h-2zM14 23h1v1h-1zM17 23h1v1h-1zM19 23h1v1h-1zM24 23h2v1h-2zM43 23h1v1h-1zM47 23h1v1h-1zM8 24h1v1h-1zM23 24h1v1h-1zM8 25h1v1h-1zM13 25h2v1h-2zM17 25h2v1h-2zM23 25h1v1h-1zM28 25h1v1h-1zM36 25h1v1h-1zM38 25h1v1h-1zM43 25h1v1h-1zM45 25h1v1h-1zM50 25h1v1h-1zM13 26h2v1h-2zM28 26h1v1h-1zM32 26h1v1h-1zM34 26h1v1h-1zM45 26h2v1h-2zM50 26h1v1h-1zM52 26h2v1h-2zM13 27h2v1h-2zM34 27h1v1h-1zM37 27h1v1h-1zM45 27h1v1h-1zM50 27h1v1h-1zM54 27h1v1h-1zM25 28h2v1h-2zM50 28h1v1h-1zM-1 29h3v1h-3zM30 29h1v1h-1zM37 29h1v1h-1zM46 29h1v1h-1zM51 29h4v1h-4zM29 30h1v1h-1zM35 30h1v1h-1zM37 30h1v1h-1zM46 30h1v1h-1zM50 30h1v1h-1zM53 30h1v1h-1zM32 31h1v1h-1zM35 31h1v1h-1zM37 31h1v1h-1zM43 31h2v1h-2zM46 31h1v1h-1zM53 31h1v1h-1zM55 31h1v1h-1zM26 32h1v1h-1zM31 32h1v1h-1zM34 32h1v1h-1zM36 32h2v1h-2zM44 32h2v1h-2zM49 32h2v1h-2zM53 32h2v1h-2zM18 33h1v1h-1zM34 33h1v1h-1zM43 33h1v1h-1zM45 33h3v1h-3zM-1 34h3v1h-3zM18 34h1v1h-1zM26 34h2v1h-2zM32 34h2v1h-2zM43 34h1v1h-1zM46 34h2v1h-2zM50 34h1v1h-1zM30 35h2v1h-2zM36 35h1v1h-1zM38 35h2v1h-2zM50 35h2v1h-2zM53 35h2v1h-2zM56 35h1v1h-1zM13 36h1v1h-1zM25 36h1v1h-1zM32 36h1v1h-1zM35 36h1v1h-1zM38 36h1v1h-1zM40 36h1v1h-1zM13 37h1v1h-1zM27 37h1v1h-1zM29 37h4v1h-4zM49 37h3v1h-3zM56 37h1v1h-1zM8 38h1v1h-1zM25 38h1v1h-1zM35 38h2v1h-2zM49 38h3v1h-3zM35 39h1v1h-1zM56 39h1v1h-1zM36 40h1v1h-1zM58 42h3v1h-3zM4 43h1v1h-1zM12 43h3v1h-3zM23 43h1v1h-1zM25 43h1v1h-1zM31 43h1v1h-1zM33 43h2v1h-2zM45 43h1v1h-1zM50 43h5v1h-5zM-1 44h3v1h-3zM12 44h2v1h-2zM16 44h1v1h-1zM31 44h2v1h-2zM50 44h1v1h-1zM52 44h1v1h-1zM54 44h1v1h-1zM-1 45h2v1h-2zM13 45h2v1h-2zM17 45h1v1h-1zM25 45h3v1h-3zM32 45h2v1h-2zM43 45h1v1h-1zM48 45h1v1h-1zM50 45h1v1h-1zM54 45h1v1h-1zM-1 46h2v1h-2zM26 46h1v1h-1zM29 46h3v1h-3zM33 46h2v1h-2zM47 46h2v1h-2zM50 46h1v1h-1zM53 46h2v1h-2zM-1 47h2v1h-2zM4 47h1v1h-1zM13 47h2v1h-2zM17 47h1v1h-1zM23 47h1v1h-1zM33 47h2v1h-2zM46 47h1v1h-1zM48 47h1v1h-1zM45 48h3v1h-3zM32 49h1v1h-1zM37 49h2v1h-2zM25 50h4v1h-4zM30 50h1v1h-1zM32 50h1v1h-1zM34 50h2v1h-2zM37 50h2v1h-2zM43 50h4v1h-4zM52 50h1v1h-1zM54 50h1v1h-1zM8 51h1v1h-1zM14 51h1v1h-1zM29 51h1v1h-1zM35 51h1v1h-1zM37 51h2v1h-2zM43 51h1v1h-1zM52 51h1v1h-1zM55 51h1v1h-1zM-1 52h2v1h-2zM12 52h1v1h-1zM15 52h1v1h-1zM26 52h1v1h-1zM29 52h1v1h-1zM43 52h2v1h-2zM50 52h2v1h-2zM55 52h1v1h-1zM13 53h1v1h-1zM26 53h1v1h-1zM29 53h4v1h-4zM35 53h1v1h-1zM43 53h1v1h-1zM46 53h1v1h-1zM55 53h2v1h-2zM12 54h1v1h-1zM14 54h1v1h-1zM27 54h1v1h-1zM29 54h1v1h-1zM32 54h1v1h-1zM35 54h1v1h-1zM43 54h4v1h-4zM50 54h1v1h-1zM56 54h1v1h-1zM15 55h1v1h-1zM31 55h1v1h-1zM51 55h3v1h-3zM56 55h1v1h-1zM35 56h1v1h-1zM37 56h1v1h-1zM39 56h1v1h-1zM53 56h3v1h-3zM42 58h1v1h-1zM42 59h1v1h-1zM60 59h2v1h-2zM42 60h1v1h-1zM59 60h1v1h-1zM61 60h3v1h-3zM59 61h2v1h-2zM62 61h2v1h-2zM60 62h2v1h-2zM60 63h2v1h-2z"/>
<path fill="#920000" d="M1 -1h1v1h-1zM43 -1h1v1h-1zM51 -1h1v1h-1zM1 0h1v1h-1zM43 0h1v1h-1zM51 0h1v1h-1zM-1 1h2v1h-2zM43 1h1v1h-1zM51 1h1v1h-1zM3 2h1v1h-1zM2 3h1v1h-1zM17 4h1v1h-1zM21 6h1v1h-1zM23 8h1v1h-1zM24 9h1v1h-1zM14 12h1v1h-1zM51 12h1v1h-1zM51 13h1v1h-1zM54 13h1v1h-1zM12 14h1v1h-1zM16 15h1v1h-1zM29 15h1v1h-1zM31 15h1v1h-1zM44 15h1v1h-1zM15 16h1v1h-1zM29 16h1v1h-1zM31 16h1v1h-1zM52 16h1v1h-1zM55 16h1v1h-1zM4 17h1v1h-1zM18 17h1v1h-1zM17 18h1v1h-1zM6 21h1v1h-1zM8 23h1v1h-1zM9 24h1v1h-1zM27 26h1v1h-1zM35 26h1v1h-1zM37 26h1v1h-1zM54 26h1v1h-1zM26 27h1v1h-1zM36 28h1v1h-1zM38 28h1v1h-1zM15 29h2v1h-2zM31 29h2v1h-2zM43 29h3v1h-3zM31 30h2v1h-2zM15 31h2v1h-2zM29 31h2v1h-2zM29 32h2v1h-2zM35 32h1v1h-1zM50 33h1v1h-1zM26 35h1v1h-1zM32 35h1v1h-1zM37 35h1v1h-1zM28 36h1v1h-1zM37 36h1v1h-1zM26 37h1v1h-1zM35 37h2v1h-2zM52 37h4v1h-4zM28 38h1v1h-1zM42 41h1v1h-1zM41 42h1v1h-1zM-1 43h3v1h-3zM29 43h1v1h-1zM44 43h1v1h-1zM46 43h3v1h-3zM15 44h1v1h-1zM29 44h1v1h-1zM43 44h1v1h-1zM45 44h4v1h-4zM29 45h1v1h-1zM44 45h1v1h-1zM46 45h2v1h-2zM43 46h3v1h-3zM43 47h3v1h-3zM43 48h2v1h-2zM50 49h1v1h-1zM33 50h1v1h-1zM49 50h1v1h-1zM-1 51h3v1h-3zM12 51h2v1h-2zM54 51h1v1h-1zM16 52h1v1h-1zM37 52h1v1h-1zM54 52h1v1h-1zM37 53h1v1h-1zM54 53h1v1h-1zM13 54h1v1h-1zM26 54h1v1h-1zM37 54h1v1h-1zM51 54h3v1h-3zM16 55h1v1h-1zM37 55h1v1h-1z"/>
</g></g></g>
<rect x="1094.30" y="40.70" width="362.70" height="407.30" fill="none" stroke="#1a1a1a" stroke-opacity="0.85" stroke-width="1.1"/>
<path d="M1148.99 448.00v-3M1148.99 40.70v3M1094.30 102.12h3M1457.00 102.12h-3M1206.56 448.00v-3M1206.56 40.70v3M1094.30 166.77h3M1457.00 166.77h-3M1264.14 448.00v-3M1264.14 40.70v3M1094.30 231.42h3M1457.00 231.42h-3M1321.71 448.00v-3M1321.71 40.70v3M1094.30 296.07h3M1457.00 296.07h-3M1379.28 448.00v-3M1379.28 40.70v3M1094.30 360.72h3M1457.00 360.72h-3M1436.85 448.00v-3M1436.85 40.70v3M1094.30 425.37h3M1457.00 425.37h-3" stroke="#1a1a1a" stroke-width="1" fill="none"/>
<text x="1140.39" y="466.00" font-size="16.30" textLength="14.02" lengthAdjust="spacingAndGlyphs" filter="url(#tb)">10</text>
<text x="1076.28" y="106.82" font-size="16.30" textLength="14.02" lengthAdjust="spacingAndGlyphs" filter="url(#tb)">10</text>
<text x="1197.96" y="466.00" font-size="16.30" textLength="14.02" lengthAdjust="spacingAndGlyphs" filter="url(#tb)">20</text>
<text x="1076.28" y="171.47" font-size="16.30" textLength="14.02" lengthAdjust="spacingAndGlyphs" filter="url(#tb)">20</text>
<text x="1255.53" y="466.00" font-size="16.30" textLength="14.02" lengthAdjust="spacingAndGlyphs" filter="url(#tb)">30</text>
<text x="1076.28" y="236.12" font-size="16.30" textLength="14.02" lengthAdjust="spacingAndGlyphs" filter="url(#tb)">30</text>
<text x="1313.10" y="466.00" font-size="16.30" textLength="14.02" lengthAdjust="spacingAndGlyphs" filter="url(#tb)">40</text>
<text x="1076.28" y="300.77" font-size="16.30" textLength="14.02" lengthAdjust="spacingAndGlyphs" filter="url(#tb)">40</text>
<text x="1370.67" y="466.00" font-size="16.30" textLength="14.02" lengthAdjust="spacingAndGlyphs" filter="url(#tb)">50</text>
<text x="1076.28" y="365.42" font-size="16.30" textLength="14.02" lengthAdjust="spacingAndGlyphs" filter="url(#tb)">50</text>
<text x="1428.24" y="466.00" font-size="16.30" textLength="14.02" lengthAdjust="spacingAndGlyphs" filter="url(#tb)">60</text>
<text x="1076.28" y="430.07" font-size="16.30" textLength="14.02" lengthAdjust="spacingAndGlyphs" filter="url(#tb)">60</text>
<text x="1249.00" y="28.80" font-size="16.30" textLength="51.40" lengthAdjust="spacingAndGlyphs" filter="url(#tb)">TD group</text>
<text x="1163.10" y="485.70" font-size="16.30" textLength="221.00" lengthAdjust="spacingAndGlyphs" filter="url(#tb)">Average of FC: 0.26213, STD: 0.11872</text>
<rect x="1476.70" y="40.70" width="27.30" height="408.60" fill="url(#jet)" stroke="#1a1a1a" stroke-opacity="0.85" stroke-width="1.1"/>
<text x="1505.70" y="46.10" font-size="16.30" textLength="17.52" lengthAdjust="spacingAndGlyphs" filter="url(#tb)">0.5</text>
<text x="1505.70" y="104.47" font-size="16.30" textLength="17.52" lengthAdjust="spacingAndGlyphs" filter="url(#tb)">0.4</text>
<text x="1505.70" y="162.84" font-size="16.30" textLength="17.52" lengthAdjust="spacingAndGlyphs" filter="url(#tb)">0.3</text>
<text x="1505.70" y="221.21" font-size="16.30" textLength="17.52" lengthAdjust="spacingAndGlyphs" filter="url(#tb)">0.2</text>
<text x="1505.70" y="279.59" font-size="16.30" textLength="17.52" lengthAdjust="spacingAndGlyphs" filter="url(#tb)">0.1</text>
<text x="1505.70" y="337.96" font-size="16.30" textLength="7.01" lengthAdjust="spacingAndGlyphs" filter="url(#tb)">0</text>
<text x="1505.70" y="396.33" font-size="16.30" textLength="21.71" lengthAdjust="spacingAndGlyphs" filter="url(#tb)">-0.1</text>
<text x="1505.70" y="454.70" font-size="16.30" textLength="21.71" lengthAdjust="spacingAndGlyphs" filter="url(#tb)">-0.2</text>
<path d="M1476.70 99.07h3M1504.00 99.07h-3M1476.70 157.44h3M1504.00 157.44h-3M1476.70 215.81h3M1504.00 215.81h-3M1476.70 274.19h3M1504.00 274.19h-3M1476.70 332.56h3M1504.00 332.56h-3M1476.70 390.93h3M1504.00 390.93h-3" stroke="#1a1a1a" stroke-width="1" fill="none"/>
<text x="1330.30" y="564.00" font-size="40.00" textLength="42.40" lengthAdjust="spacingAndGlyphs" class="lab">(c)</text>
</g>
</svg></body></html>
